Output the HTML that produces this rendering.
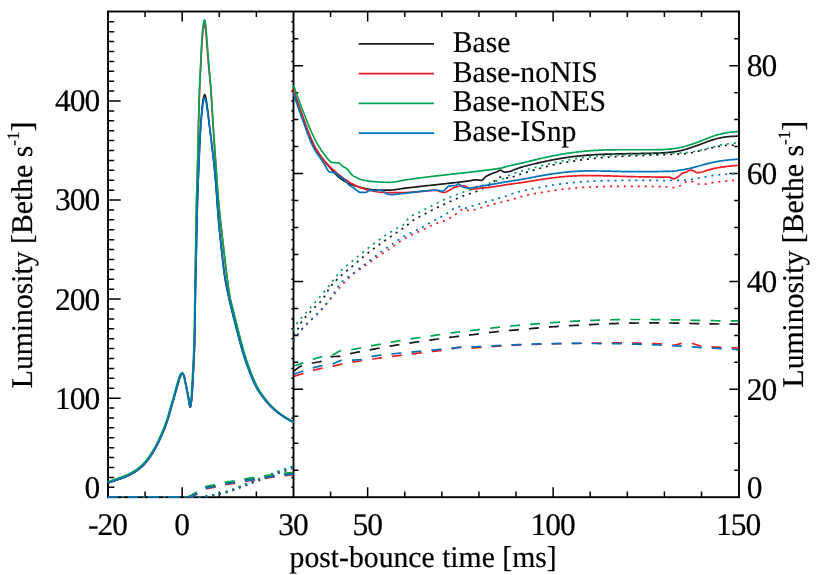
<!DOCTYPE html>
<html><head><meta charset="utf-8"><title>Luminosity</title>
<style>html,body{margin:0;padding:0;background:#fff;}body{width:830px;height:575px;overflow:hidden;font-family:"Liberation Serif",serif;}svg{display:block;will-change:transform;}.tx,.tx text,.tx tspan{font-family:"Liberation Serif",serif;text-rendering:geometricPrecision;}</style>
</head><body>
<svg width="830" height="575" viewBox="0 0 830 575">
<rect width="830" height="575" fill="#fff"/>
<g stroke="#000" fill="none" stroke-linecap="butt">
<rect x="108.0" y="11.5" width="631.0" height="485.7" stroke-width="1.9"/>
<path d="M293.5,11.5 V497.2" stroke-width="1.9"/>
<path d="M145.09,497.2 v-5.6 M145.09,11.5 v5.6 M182.19,497.2 v-10 M182.19,11.5 v10 M219.28,497.2 v-5.6 M219.28,11.5 v5.6 M256.38,497.2 v-5.6 M256.38,11.5 v5.6 M330.56,497.2 v-5.6 M330.56,11.5 v5.6 M367.66,497.2 v-10 M367.66,11.5 v10 M404.75,497.2 v-5.6 M404.75,11.5 v5.6 M441.85,497.2 v-5.6 M441.85,11.5 v5.6 M478.94,497.2 v-5.6 M478.94,11.5 v5.6 M516.04,497.2 v-5.6 M516.04,11.5 v5.6 M553.13,497.2 v-10 M553.13,11.5 v10 M590.22,497.2 v-5.6 M590.22,11.5 v5.6 M627.32,497.2 v-5.6 M627.32,11.5 v5.6 M664.41,497.2 v-5.6 M664.41,11.5 v5.6 M701.51,497.2 v-5.6 M701.51,11.5 v5.6 M108.0,487.29 h6.2 M293.5,487.29 h-2.2 M108.0,477.39 h6.2 M293.5,477.39 h-2.2 M108.0,467.49 h6.2 M293.5,467.49 h-2.2 M108.0,457.58 h6.2 M293.5,457.58 h-2.2 M108.0,447.67 h6.2 M293.5,447.67 h-2.2 M108.0,437.77 h6.2 M293.5,437.77 h-2.2 M108.0,427.87 h6.2 M293.5,427.87 h-2.2 M108.0,417.96 h6.2 M293.5,417.96 h-2.2 M108.0,408.05 h6.2 M293.5,408.05 h-2.2 M108.0,398.15 h12.7 M293.5,398.15 h-2.2 M108.0,388.25 h6.2 M293.5,388.25 h-2.2 M108.0,378.34 h6.2 M293.5,378.34 h-2.2 M108.0,368.43 h6.2 M293.5,368.43 h-2.2 M108.0,358.53 h6.2 M293.5,358.53 h-2.2 M108.0,348.62 h6.2 M293.5,348.62 h-2.2 M108.0,338.72 h6.2 M293.5,338.72 h-2.2 M108.0,328.81 h6.2 M293.5,328.81 h-2.2 M108.0,318.91 h6.2 M293.5,318.91 h-2.2 M108.0,309.00 h6.2 M293.5,309.00 h-2.2 M108.0,299.10 h12.7 M293.5,299.10 h-2.2 M108.0,289.19 h6.2 M293.5,289.19 h-2.2 M108.0,279.29 h6.2 M293.5,279.29 h-2.2 M108.0,269.38 h6.2 M293.5,269.38 h-2.2 M108.0,259.48 h6.2 M293.5,259.48 h-2.2 M108.0,249.57 h6.2 M293.5,249.57 h-2.2 M108.0,239.67 h6.2 M293.5,239.67 h-2.2 M108.0,229.76 h6.2 M293.5,229.76 h-2.2 M108.0,219.86 h6.2 M293.5,219.86 h-2.2 M108.0,209.95 h6.2 M293.5,209.95 h-2.2 M108.0,200.05 h12.7 M293.5,200.05 h-2.2 M108.0,190.14 h6.2 M293.5,190.14 h-2.2 M108.0,180.24 h6.2 M293.5,180.24 h-2.2 M108.0,170.33 h6.2 M293.5,170.33 h-2.2 M108.0,160.43 h6.2 M293.5,160.43 h-2.2 M108.0,150.52 h6.2 M293.5,150.52 h-2.2 M108.0,140.62 h6.2 M293.5,140.62 h-2.2 M108.0,130.71 h6.2 M293.5,130.71 h-2.2 M108.0,120.81 h6.2 M293.5,120.81 h-2.2 M108.0,110.90 h6.2 M293.5,110.90 h-2.2 M108.0,101.00 h12.7 M293.5,101.00 h-2.2 M108.0,91.09 h6.2 M293.5,91.09 h-2.2 M108.0,81.19 h6.2 M293.5,81.19 h-2.2 M108.0,71.28 h6.2 M293.5,71.28 h-2.2 M108.0,61.38 h6.2 M293.5,61.38 h-2.2 M108.0,51.47 h6.2 M293.5,51.47 h-2.2 M108.0,41.57 h6.2 M293.5,41.57 h-2.2 M108.0,31.66 h6.2 M293.5,31.66 h-2.2 M108.0,21.76 h6.2 M293.5,21.76 h-2.2 M739.0,470.23 h-4.8 M293.5,470.23 h4.8 M739.0,443.26 h-4.8 M293.5,443.26 h4.8 M739.0,416.29 h-4.8 M293.5,416.29 h4.8 M739.0,389.32 h-9.6 M293.5,389.32 h9.6 M739.0,362.35 h-4.8 M293.5,362.35 h4.8 M739.0,335.38 h-4.8 M293.5,335.38 h4.8 M739.0,308.41 h-4.8 M293.5,308.41 h4.8 M739.0,281.44 h-9.6 M293.5,281.44 h9.6 M739.0,254.47 h-4.8 M293.5,254.47 h4.8 M739.0,227.50 h-4.8 M293.5,227.50 h4.8 M739.0,200.53 h-4.8 M293.5,200.53 h4.8 M739.0,173.56 h-9.6 M293.5,173.56 h9.6 M739.0,146.59 h-4.8 M293.5,146.59 h4.8 M739.0,119.62 h-4.8 M293.5,119.62 h4.8 M739.0,92.65 h-4.8 M293.5,92.65 h4.8 M739.0,65.68 h-9.6 M293.5,65.68 h9.6 M739.0,38.71 h-4.8 M293.5,38.71 h4.8" stroke-width="1.5"/>
</g>
<g fill="none" stroke-linejoin="round" stroke-linecap="butt" stroke-width="1.70">
<path d="M108.00,497.00 L109.01,497.00 L110.02,497.00 L111.03,497.00 L112.04,497.00 L113.05,497.00 L114.06,497.00 L115.07,497.00 L116.07,497.00 L117.08,497.00 L118.09,497.00 L119.10,497.00 L120.11,497.00 L121.12,497.00 L122.13,497.00 L123.14,497.00 L124.15,497.00 L125.16,497.00 L126.17,497.00 L127.18,497.00 L128.19,497.00 L129.20,497.00 L130.20,497.00 L131.21,497.00 L132.22,497.00 L133.23,497.00 L134.24,497.00 L135.25,497.00 L136.26,497.00 L137.27,497.00 L138.28,497.00 L139.29,497.00 L140.30,497.00 L141.31,497.00 L142.32,497.00 L143.33,497.00 L144.34,497.00 L145.34,497.00 L146.35,497.00 L147.36,497.00 L148.37,497.00 L149.38,497.00 L150.39,497.00 L151.40,497.00 L152.41,497.00 L153.42,497.00 L154.43,497.00 L155.44,497.00 L156.46,497.00 L157.47,497.00 L158.48,497.00 L159.49,497.00 L160.50,497.00 L161.52,497.00 L162.53,497.00 L163.54,497.00 L164.55,497.00 L165.57,497.00 L166.58,497.00 L167.59,497.00 L168.60,497.00 L169.61,497.00 L170.62,497.00 L171.64,497.00 L172.65,497.00 L173.66,497.00 L174.67,497.00 L175.67,497.00 L176.68,497.00 L177.69,497.00 L178.70,497.00 L179.70,497.00 L180.71,497.00 L181.71,497.00 L182.72,497.00 L183.72,497.00 L184.72,497.00 L185.72,497.00 L186.72,496.99 L187.73,496.84 L188.71,496.61 L189.66,496.34 L190.61,496.02 L191.55,495.65 L192.48,495.24 L193.40,494.81 L194.32,494.35 L195.23,493.88 L196.13,493.41 L197.03,492.94 L197.91,492.47 L198.78,491.94 L199.64,491.37 L200.48,490.77 L201.33,490.17 L202.17,489.59 L203.02,489.04 L203.89,488.54 L204.78,488.11 L205.69,487.77 L206.62,487.50 L207.58,487.25 L208.56,487.04 L209.55,486.84 L210.55,486.65 L211.56,486.48 L212.57,486.30 L213.58,486.12 L214.58,485.93 L215.57,485.73 L216.56,485.51 L217.54,485.27 L218.52,485.03 L219.50,484.78 L220.48,484.54 L221.46,484.29 L222.44,484.06 L223.43,483.83 L224.41,483.62 L225.40,483.42 L226.39,483.24 L227.39,483.07 L228.38,482.92 L229.38,482.77 L230.38,482.63 L231.38,482.48 L232.38,482.34 L233.38,482.19 L234.38,482.04 L235.37,481.87 L236.37,481.69 L237.36,481.50 L238.35,481.31 L239.34,481.10 L240.33,480.90 L241.32,480.70 L242.31,480.51 L243.30,480.32 L244.29,480.15 L245.29,479.99 L246.29,479.84 L247.29,479.69 L248.29,479.55 L249.29,479.42 L250.29,479.28 L251.29,479.15 L252.29,479.02 L253.29,478.88 L254.29,478.73 L255.28,478.58 L256.28,478.43 L257.28,478.27 L258.28,478.11 L259.27,477.95 L260.27,477.79 L261.27,477.63 L262.26,477.47 L263.26,477.31 L264.26,477.15 L265.25,477.00 L266.25,476.84 L267.25,476.68 L268.24,476.52 L269.24,476.36 L270.24,476.21 L271.24,476.05 L272.23,475.90 L273.23,475.76 L274.23,475.62 L275.23,475.49 L276.23,475.36 L277.23,475.24 L278.24,475.11 L279.24,474.99 L280.24,474.88 L281.24,474.76 L282.25,474.65 L283.25,474.54 L284.25,474.44 L285.26,474.33 L286.26,474.23 L287.27,474.13 L288.27,474.04 L289.28,473.95 L290.28,473.85 L291.29,473.77 L292.29,473.68 L293.30,473.60" stroke="#1a1a1a" stroke-dasharray="10 9.97"/>
<path d="M108.00,497.00 L109.01,497.00 L110.01,497.00 L111.02,497.00 L112.03,497.00 L113.04,497.00 L114.04,497.00 L115.05,497.00 L116.06,497.00 L117.07,497.00 L118.07,497.00 L119.08,497.00 L120.09,497.00 L121.10,497.00 L122.10,497.00 L123.11,497.00 L124.12,497.00 L125.13,497.00 L126.13,497.00 L127.14,497.00 L128.15,497.00 L129.16,497.00 L130.16,497.00 L131.17,497.00 L132.18,497.00 L133.19,497.00 L134.19,497.00 L135.20,497.00 L136.21,497.00 L137.21,497.00 L138.22,497.00 L139.23,497.00 L140.24,497.00 L141.24,497.00 L142.25,497.00 L143.26,497.00 L144.27,497.00 L145.27,497.00 L146.28,497.00 L147.29,497.00 L148.30,497.00 L149.30,497.00 L150.31,497.00 L151.32,497.00 L152.33,497.00 L153.33,497.00 L154.34,497.00 L155.35,497.00 L156.36,497.00 L157.36,497.00 L158.37,497.00 L159.38,497.00 L160.39,497.00 L161.39,497.00 L162.40,497.00 L163.41,497.00 L164.42,497.00 L165.42,497.00 L166.43,497.00 L167.44,497.00 L168.45,497.00 L169.45,497.00 L170.46,497.00 L171.47,497.00 L172.48,497.00 L173.48,497.00 L174.49,497.00 L175.50,497.00 L176.51,497.00 L177.51,497.00 L178.52,497.00 L179.53,497.00 L180.54,497.00 L181.54,497.00 L182.55,497.00 L183.56,497.00 L184.57,497.00 L185.57,497.00 L186.58,497.00 L187.59,497.00 L188.60,497.00 L189.60,497.00 L190.61,497.00 L191.62,497.00 L192.62,497.00 L193.63,497.00 L194.64,497.00 L195.65,497.00 L196.65,497.00 L197.66,497.00 L198.67,496.99 L199.67,496.94 L200.68,496.89 L201.68,496.82 L202.69,496.74 L203.69,496.65 L204.70,496.54 L205.70,496.43 L206.70,496.30 L207.69,496.17 L208.68,496.01 L209.67,495.82 L210.66,495.62 L211.65,495.40 L212.64,495.18 L213.62,494.96 L214.60,494.74 L215.58,494.51 L216.56,494.28 L217.54,494.05 L218.52,493.81 L219.50,493.57 L220.48,493.32 L221.46,493.06 L222.43,492.80 L223.40,492.53 L224.37,492.26 L225.34,491.98 L226.30,491.69 L227.27,491.40 L228.22,491.10 L229.18,490.78 L230.13,490.46 L231.08,490.12 L232.02,489.77 L232.96,489.41 L233.90,489.05 L234.84,488.68 L235.78,488.31 L236.72,487.93 L237.65,487.55 L238.59,487.18 L239.53,486.80 L240.46,486.43 L241.40,486.05 L242.33,485.68 L243.27,485.31 L244.20,484.93 L245.14,484.55 L246.07,484.17 L247.00,483.78 L247.93,483.40 L248.86,483.01 L249.79,482.63 L250.73,482.25 L251.66,481.87 L252.59,481.49 L253.53,481.12 L254.47,480.75 L255.40,480.38 L256.34,480.02 L257.28,479.65 L258.22,479.29 L259.16,478.93 L260.11,478.57 L261.05,478.22 L261.99,477.86 L262.93,477.50 L263.88,477.15 L264.82,476.80 L265.76,476.44 L266.70,476.09 L267.65,475.73 L268.59,475.38 L269.53,475.02 L270.47,474.66 L271.42,474.31 L272.36,473.95 L273.30,473.60 L274.25,473.24 L275.19,472.89 L276.13,472.54 L277.08,472.19 L278.03,471.85 L278.97,471.51 L279.92,471.17 L280.87,470.83 L281.82,470.50 L282.78,470.17 L283.73,469.85 L284.68,469.52 L285.64,469.20 L286.59,468.88 L287.55,468.56 L288.50,468.24 L289.46,467.93 L290.42,467.62 L291.38,467.31 L292.34,467.00 L293.30,466.70" stroke="#1a1a1a" stroke-dasharray="2.1 4.85"/>
<path d="M108.00,482.80 L108.67,482.60 L109.34,482.39 L110.01,482.18 L110.68,481.97 L111.35,481.76 L112.02,481.55 L112.68,481.33 L113.35,481.11 L114.01,480.89 L114.68,480.67 L115.34,480.45 L116.01,480.22 L116.67,479.99 L117.33,479.76 L117.99,479.53 L118.65,479.30 L119.32,479.07 L119.98,478.84 L120.64,478.61 L121.31,478.37 L121.97,478.14 L122.63,477.90 L123.28,477.65 L123.94,477.40 L124.59,477.14 L125.24,476.88 L125.88,476.61 L126.52,476.33 L127.16,476.05 L127.79,475.76 L128.43,475.45 L129.06,475.15 L129.69,474.83 L130.31,474.51 L130.94,474.18 L131.56,473.84 L132.17,473.50 L132.78,473.15 L133.39,472.79 L133.99,472.43 L134.58,472.06 L135.16,471.69 L135.74,471.31 L136.32,470.92 L136.90,470.52 L137.48,470.11 L138.05,469.70 L138.61,469.27 L139.17,468.84 L139.73,468.40 L140.28,467.95 L140.82,467.50 L141.35,467.04 L141.87,466.57 L142.38,466.10 L142.88,465.62 L143.37,465.13 L143.85,464.64 L144.32,464.13 L144.79,463.62 L145.26,463.09 L145.72,462.56 L146.17,462.02 L146.62,461.48 L147.06,460.92 L147.49,460.37 L147.92,459.80 L148.35,459.24 L148.77,458.67 L149.18,458.09 L149.59,457.52 L149.99,456.94 L150.38,456.37 L150.77,455.79 L151.16,455.21 L151.54,454.63 L151.92,454.04 L152.29,453.45 L152.66,452.86 L153.03,452.26 L153.39,451.66 L153.74,451.05 L154.10,450.45 L154.45,449.84 L154.80,449.23 L155.14,448.61 L155.48,447.99 L155.81,447.37 L156.15,446.75 L156.48,446.13 L156.80,445.51 L157.12,444.88 L157.44,444.26 L157.76,443.63 L158.07,443.00 L158.38,442.37 L158.68,441.74 L158.98,441.12 L159.28,440.49 L159.58,439.85 L159.88,439.22 L160.17,438.59 L160.46,437.95 L160.75,437.31 L161.04,436.67 L161.33,436.03 L161.61,435.39 L161.89,434.74 L162.17,434.10 L162.44,433.45 L162.72,432.80 L162.99,432.15 L163.26,431.51 L163.52,430.85 L163.78,430.20 L164.04,429.55 L164.30,428.90 L164.56,428.24 L164.81,427.59 L165.06,426.93 L165.31,426.28 L165.55,425.62 L165.79,424.96 L166.03,424.30 L166.27,423.64 L166.50,422.99 L166.73,422.33 L166.96,421.67 L167.18,421.00 L167.40,420.34 L167.62,419.68 L167.83,419.01 L168.04,418.34 L168.25,417.68 L168.46,417.01 L168.67,416.34 L168.87,415.67 L169.07,415.00 L169.27,414.32 L169.47,413.65 L169.66,412.98 L169.86,412.30 L170.05,411.63 L170.25,410.95 L170.44,410.28 L170.63,409.60 L170.82,408.93 L171.01,408.25 L171.20,407.58 L171.39,406.90 L171.58,406.23 L171.77,405.55 L171.96,404.88 L172.16,404.20 L172.35,403.53 L172.54,402.85 L172.73,402.18 L172.93,401.50 L173.12,400.83 L173.31,400.16 L173.50,399.48 L173.69,398.81 L173.88,398.13 L174.07,397.46 L174.26,396.78 L174.44,396.11 L174.63,395.43 L174.81,394.75 L175.00,394.08 L175.19,393.40 L175.37,392.73 L175.56,392.05 L175.75,391.38 L175.94,390.70 L176.13,390.03 L176.33,389.36 L176.52,388.68 L176.72,388.01 L176.92,387.34 L177.12,386.67 L177.31,385.99 L177.50,385.31 L177.69,384.63 L177.88,383.95 L178.06,383.27 L178.26,382.59 L178.45,381.91 L178.65,381.24 L178.86,380.56 L179.07,379.90 L179.29,379.23 L179.52,378.58 L179.76,377.92 L180.01,377.28 L180.28,376.64 L180.57,375.99 L180.88,375.33 L181.25,374.73 L181.68,374.22 L182.29,373.75 L182.84,373.63 L183.30,374.13 L183.67,374.88 L183.92,375.53 L184.13,376.17 L184.32,376.83 L184.48,377.51 L184.63,378.20 L184.76,378.90 L184.88,379.60 L185.01,380.31 L185.13,381.01 L185.26,381.71 L185.40,382.40 L185.55,383.09 L185.69,383.78 L185.84,384.46 L185.98,385.15 L186.13,385.83 L186.27,386.52 L186.41,387.20 L186.56,387.89 L186.70,388.58 L186.84,389.26 L186.98,389.95 L187.11,390.64 L187.25,391.32 L187.39,392.01 L187.52,392.70 L187.66,393.39 L187.79,394.08 L187.92,394.76 L188.05,395.45 L188.19,396.14 L188.32,396.83 L188.45,397.52 L188.57,398.21 L188.70,398.90 L188.82,399.59 L188.94,400.28 L189.06,400.97 L189.18,401.66 L189.28,402.35 L189.38,403.05 L189.47,403.74 L189.57,404.44 L189.67,405.13 L189.80,405.82 L189.98,406.66 L190.19,407.20 L190.41,406.80 L190.62,405.95 L190.78,405.22 L190.91,404.54 L191.02,403.84 L191.13,403.15 L191.22,402.45 L191.31,401.76 L191.39,401.06 L191.46,400.36 L191.54,399.67 L191.61,398.97 L191.68,398.27 L191.74,397.58 L191.81,396.88 L191.86,396.18 L191.92,395.48 L191.98,394.78 L192.03,394.08 L192.08,393.38 L192.13,392.68 L192.18,391.98 L192.22,391.29 L192.26,390.59 L192.30,389.89 L192.34,389.19 L192.38,388.49 L192.42,387.79 L192.45,387.09 L192.49,386.39 L192.53,385.69 L192.56,384.99 L192.60,384.29 L192.64,383.59 L192.67,382.89 L192.71,382.19 L192.75,381.49 L192.79,380.79 L192.83,380.09 L192.87,379.39 L192.91,378.69 L192.95,377.99 L192.99,377.29 L193.03,376.59 L193.07,375.89 L193.11,375.19 L193.15,374.49 L193.19,373.79 L193.22,373.09 L193.26,372.39 L193.30,371.69 L193.33,370.99 L193.36,370.29 L193.40,369.59 L193.43,368.89 L193.46,368.19 L193.50,367.49 L193.53,366.79 L193.56,366.09 L193.59,365.39 L193.62,364.69 L193.66,363.99 L193.69,363.29 L193.72,362.59 L193.75,361.89 L193.78,361.19 L193.81,360.49 L193.85,359.79 L193.88,359.09 L193.92,358.39 L193.95,357.69 L193.99,356.99 L194.02,356.29 L194.06,355.59 L194.09,354.89 L194.13,354.19 L194.16,353.49 L194.19,352.79 L194.22,352.09 L194.25,351.39 L194.28,350.69 L194.30,349.99 L194.32,349.29 L194.35,348.59 L194.37,347.89 L194.39,347.19 L194.41,346.49 L194.43,345.79 L194.45,345.09 L194.47,344.39 L194.49,343.69 L194.51,342.99 L194.53,342.29 L194.54,341.59 L194.56,340.89 L194.58,340.19 L194.60,339.48 L194.61,338.78 L194.63,338.08 L194.64,337.38 L194.66,336.68 L194.67,335.98 L194.69,335.28 L194.71,334.58 L194.72,333.88 L194.73,333.18 L194.75,332.48 L194.76,331.78 L194.78,331.08 L194.79,330.38 L194.81,329.68 L194.82,328.98 L194.83,328.27 L194.85,327.57 L194.86,326.87 L194.87,326.17 L194.89,325.47 L194.90,324.77 L194.91,324.07 L194.92,323.37 L194.94,322.67 L194.95,321.97 L194.96,321.27 L194.97,320.57 L194.98,319.87 L194.99,319.17 L195.00,318.47 L195.02,317.76 L195.03,317.06 L195.04,316.36 L195.05,315.66 L195.06,314.96 L195.07,314.26 L195.08,313.56 L195.09,312.86 L195.10,312.16 L195.11,311.46 L195.12,310.76 L195.13,310.06 L195.14,309.36 L195.16,308.66 L195.17,307.96 L195.18,307.25 L195.19,306.55 L195.20,305.85 L195.21,305.15 L195.22,304.45 L195.23,303.75 L195.25,303.05 L195.26,302.35 L195.27,301.65 L195.28,300.95 L195.30,300.25 L195.31,299.55 L195.32,298.85 L195.33,298.15 L195.35,297.45 L195.36,296.74 L195.37,296.04 L195.39,295.34 L195.40,294.64 L195.41,293.94 L195.42,293.24 L195.44,292.54 L195.45,291.84 L195.46,291.14 L195.48,290.44 L195.49,289.74 L195.51,289.04 L195.52,288.34 L195.53,287.64 L195.55,286.94 L195.56,286.23 L195.57,285.53 L195.59,284.83 L195.60,284.13 L195.61,283.43 L195.63,282.73 L195.64,282.03 L195.66,281.33 L195.67,280.63 L195.68,279.93 L195.70,279.23 L195.71,278.53 L195.73,277.83 L195.74,277.13 L195.76,276.43 L195.77,275.73 L195.78,275.02 L195.80,274.32 L195.81,273.62 L195.83,272.92 L195.84,272.22 L195.86,271.52 L195.87,270.82 L195.89,270.12 L195.90,269.42 L195.92,268.72 L195.93,268.02 L195.94,267.32 L195.96,266.62 L195.97,265.92 L195.99,265.22 L196.00,264.52 L196.02,263.81 L196.03,263.11 L196.05,262.41 L196.06,261.71 L196.08,261.01 L196.09,260.31 L196.11,259.61 L196.12,258.91 L196.14,258.21 L196.15,257.51 L196.17,256.81 L196.18,256.11 L196.20,255.41 L196.21,254.71 L196.23,254.01 L196.24,253.31 L196.26,252.60 L196.27,251.90 L196.29,251.20 L196.30,250.50 L196.32,249.80 L196.33,249.10 L196.34,248.40 L196.36,247.70 L196.37,247.00 L196.39,246.30 L196.40,245.60 L196.42,244.90 L196.43,244.20 L196.45,243.50 L196.46,242.80 L196.48,242.10 L196.49,241.39 L196.51,240.69 L196.52,239.99 L196.54,239.29 L196.55,238.59 L196.57,237.89 L196.58,237.19 L196.60,236.49 L196.61,235.79 L196.63,235.09 L196.64,234.39 L196.66,233.69 L196.67,232.99 L196.69,232.29 L196.70,231.59 L196.72,230.89 L196.73,230.18 L196.75,229.48 L196.77,228.78 L196.78,228.08 L196.80,227.38 L196.81,226.68 L196.83,225.98 L196.85,225.28 L196.86,224.58 L196.88,223.88 L196.89,223.18 L196.91,222.48 L196.93,221.78 L196.94,221.08 L196.96,220.38 L196.98,219.68 L196.99,218.98 L197.01,218.27 L197.03,217.57 L197.05,216.87 L197.06,216.17 L197.08,215.47 L197.10,214.77 L197.12,214.07 L197.13,213.37 L197.15,212.67 L197.17,211.97 L197.19,211.27 L197.21,210.57 L197.22,209.87 L197.24,209.17 L197.26,208.47 L197.28,207.77 L197.30,207.07 L197.32,206.37 L197.34,205.67 L197.36,204.96 L197.38,204.26 L197.40,203.56 L197.42,202.86 L197.44,202.16 L197.46,201.46 L197.48,200.76 L197.50,200.06 L197.52,199.36 L197.54,198.66 L197.56,197.96 L197.58,197.26 L197.61,196.56 L197.63,195.86 L197.65,195.16 L197.68,194.46 L197.70,193.76 L197.72,193.06 L197.75,192.36 L197.77,191.66 L197.80,190.96 L197.82,190.26 L197.85,189.56 L197.87,188.86 L197.90,188.16 L197.92,187.46 L197.95,186.76 L197.98,186.06 L198.00,185.35 L198.03,184.65 L198.06,183.95 L198.08,183.25 L198.11,182.55 L198.14,181.85 L198.17,181.15 L198.20,180.45 L198.22,179.75 L198.25,179.05 L198.28,178.35 L198.31,177.65 L198.34,176.95 L198.37,176.25 L198.40,175.55 L198.42,174.85 L198.45,174.15 L198.48,173.45 L198.51,172.75 L198.54,172.05 L198.57,171.35 L198.60,170.65 L198.63,169.95 L198.66,169.25 L198.69,168.55 L198.72,167.85 L198.75,167.15 L198.78,166.45 L198.81,165.75 L198.84,165.05 L198.87,164.35 L198.89,163.65 L198.92,162.95 L198.95,162.25 L198.98,161.55 L199.01,160.85 L199.04,160.15 L199.07,159.45 L199.10,158.75 L199.13,158.05 L199.16,157.35 L199.19,156.65 L199.22,155.95 L199.25,155.25 L199.28,154.55 L199.31,153.85 L199.34,153.15 L199.37,152.44 L199.40,151.74 L199.43,151.04 L199.46,150.34 L199.49,149.64 L199.52,148.94 L199.55,148.24 L199.58,147.54 L199.61,146.84 L199.64,146.14 L199.68,145.44 L199.71,144.74 L199.74,144.04 L199.77,143.34 L199.81,142.64 L199.84,141.94 L199.87,141.24 L199.91,140.54 L199.94,139.84 L199.98,139.14 L200.01,138.44 L200.05,137.74 L200.08,137.04 L200.12,136.34 L200.15,135.64 L200.19,134.94 L200.23,134.24 L200.27,133.54 L200.30,132.84 L200.34,132.15 L200.38,131.45 L200.42,130.75 L200.46,130.05 L200.50,129.35 L200.54,128.65 L200.58,127.95 L200.62,127.25 L200.67,126.55 L200.71,125.85 L200.75,125.15 L200.80,124.45 L200.84,123.75 L200.89,123.05 L200.93,122.35 L200.98,121.65 L201.02,120.95 L201.07,120.25 L201.12,119.55 L201.17,118.86 L201.22,118.16 L201.27,117.46 L201.32,116.76 L201.37,116.06 L201.43,115.36 L201.48,114.66 L201.54,113.96 L201.60,113.26 L201.66,112.56 L201.72,111.86 L201.78,111.17 L201.84,110.47 L201.91,109.77 L201.98,109.07 L202.04,108.38 L202.11,107.68 L202.19,106.98 L202.26,106.29 L202.33,105.59 L202.41,104.90 L202.49,104.20 L202.57,103.50 L202.66,102.80 L202.74,102.10 L202.84,101.40 L202.94,100.70 L203.05,100.01 L203.17,99.32 L203.30,98.63 L203.45,97.95 L203.60,97.28 L203.82,96.50 L204.09,95.65 L204.38,94.94 L204.67,94.61 L204.93,94.81 L205.20,95.46 L205.45,96.30 L205.66,97.13 L205.82,97.81 L205.97,98.49 L206.10,99.18 L206.22,99.87 L206.34,100.56 L206.44,101.25 L206.54,101.95 L206.64,102.65 L206.74,103.35 L206.84,104.04 L206.93,104.74 L207.03,105.43 L207.13,106.12 L207.22,106.82 L207.32,107.51 L207.41,108.21 L207.50,108.90 L207.58,109.60 L207.67,110.29 L207.76,110.99 L207.84,111.68 L207.92,112.38 L208.01,113.08 L208.09,113.77 L208.17,114.47 L208.25,115.16 L208.33,115.86 L208.41,116.56 L208.49,117.25 L208.57,117.95 L208.65,118.65 L208.73,119.34 L208.80,120.04 L208.88,120.74 L208.96,121.43 L209.04,122.13 L209.12,122.83 L209.20,123.52 L209.29,124.22 L209.37,124.91 L209.45,125.61 L209.54,126.30 L209.62,127.00 L209.71,127.70 L209.79,128.39 L209.88,129.09 L209.96,129.78 L210.05,130.48 L210.14,131.17 L210.22,131.87 L210.31,132.56 L210.40,133.26 L210.48,133.96 L210.57,134.65 L210.65,135.35 L210.74,136.04 L210.83,136.74 L210.91,137.43 L211.00,138.13 L211.09,138.82 L211.17,139.52 L211.26,140.21 L211.34,140.91 L211.43,141.61 L211.51,142.30 L211.59,143.00 L211.68,143.69 L211.76,144.39 L211.84,145.08 L211.93,145.78 L212.01,146.48 L212.09,147.17 L212.17,147.87 L212.25,148.56 L212.34,149.26 L212.42,149.96 L212.50,150.65 L212.58,151.35 L212.66,152.04 L212.75,152.74 L212.83,153.44 L212.91,154.13 L212.99,154.83 L213.07,155.52 L213.15,156.22 L213.23,156.92 L213.31,157.61 L213.39,158.31 L213.47,159.01 L213.54,159.70 L213.62,160.40 L213.70,161.10 L213.77,161.79 L213.85,162.49 L213.92,163.19 L213.99,163.88 L214.07,164.58 L214.14,165.28 L214.21,165.97 L214.28,166.67 L214.35,167.37 L214.41,168.07 L214.48,168.76 L214.55,169.46 L214.62,170.16 L214.68,170.86 L214.75,171.55 L214.82,172.25 L214.88,172.95 L214.95,173.65 L215.01,174.34 L215.07,175.04 L215.14,175.74 L215.20,176.44 L215.26,177.14 L215.32,177.83 L215.39,178.53 L215.45,179.23 L215.51,179.93 L215.57,180.63 L215.63,181.33 L215.69,182.02 L215.75,182.72 L215.81,183.42 L215.86,184.12 L215.92,184.82 L215.98,185.52 L216.04,186.21 L216.09,186.91 L216.15,187.61 L216.20,188.31 L216.26,189.01 L216.31,189.71 L216.37,190.41 L216.42,191.10 L216.47,191.80 L216.52,192.50 L216.57,193.20 L216.62,193.90 L216.67,194.60 L216.72,195.30 L216.77,196.00 L216.82,196.70 L216.87,197.40 L216.91,198.10 L216.96,198.79 L217.01,199.49 L217.06,200.19 L217.10,200.89 L217.15,201.59 L217.20,202.29 L217.24,202.99 L217.29,203.69 L217.34,204.39 L217.39,205.09 L217.43,205.79 L217.48,206.49 L217.53,207.19 L217.58,207.88 L217.63,208.58 L217.68,209.28 L217.73,209.98 L217.78,210.68 L217.83,211.38 L217.88,212.08 L217.93,212.78 L217.98,213.48 L218.04,214.17 L218.09,214.87 L218.14,215.57 L218.20,216.27 L218.26,216.97 L218.31,217.67 L218.37,218.36 L218.43,219.06 L218.49,219.76 L218.55,220.46 L218.61,221.16 L218.68,221.85 L218.74,222.55 L218.80,223.25 L218.87,223.95 L218.93,224.65 L219.00,225.34 L219.06,226.04 L219.13,226.74 L219.20,227.44 L219.27,228.13 L219.34,228.83 L219.41,229.53 L219.47,230.23 L219.55,230.92 L219.62,231.62 L219.69,232.32 L219.76,233.01 L219.83,233.71 L219.90,234.41 L219.98,235.11 L220.05,235.80 L220.12,236.50 L220.20,237.20 L220.27,237.89 L220.35,238.59 L220.42,239.29 L220.49,239.98 L220.57,240.68 L220.65,241.38 L220.72,242.08 L220.80,242.77 L220.87,243.47 L220.95,244.17 L221.02,244.86 L221.10,245.56 L221.18,246.26 L221.25,246.95 L221.33,247.65 L221.40,248.35 L221.48,249.04 L221.55,249.74 L221.63,250.44 L221.70,251.13 L221.78,251.83 L221.85,252.53 L221.93,253.22 L222.00,253.92 L222.08,254.62 L222.15,255.32 L222.23,256.01 L222.30,256.71 L222.38,257.41 L222.45,258.11 L222.53,258.80 L222.61,259.50 L222.69,260.20 L222.76,260.89 L222.84,261.59 L222.92,262.29 L223.00,262.98 L223.08,263.68 L223.16,264.38 L223.25,265.07 L223.33,265.77 L223.41,266.46 L223.50,267.16 L223.58,267.86 L223.67,268.55 L223.76,269.25 L223.85,269.94 L223.94,270.63 L224.03,271.33 L224.12,272.02 L224.22,272.72 L224.31,273.41 L224.41,274.10 L224.51,274.80 L224.61,275.49 L224.71,276.18 L224.82,276.87 L224.92,277.56 L225.03,278.25 L225.15,278.95 L225.26,279.64 L225.38,280.33 L225.50,281.02 L225.62,281.71 L225.74,282.40 L225.87,283.09 L226.00,283.77 L226.13,284.46 L226.26,285.15 L226.39,285.84 L226.53,286.53 L226.66,287.22 L226.80,287.91 L226.94,288.59 L227.08,289.28 L227.22,289.97 L227.36,290.66 L227.50,291.34 L227.65,292.03 L227.79,292.71 L227.94,293.40 L228.08,294.09 L228.23,294.77 L228.37,295.46 L228.52,296.14 L228.66,296.83 L228.81,297.51 L228.96,298.20 L229.11,298.88 L229.27,299.56 L229.42,300.25 L229.58,300.93 L229.74,301.61 L229.90,302.29 L230.06,302.98 L230.23,303.66 L230.39,304.34 L230.56,305.02 L230.72,305.70 L230.89,306.38 L231.05,307.06 L231.22,307.75 L231.38,308.43 L231.55,309.11 L231.71,309.79 L231.88,310.47 L232.04,311.15 L232.21,311.83 L232.38,312.51 L232.55,313.19 L232.72,313.87 L232.88,314.55 L233.05,315.23 L233.22,315.91 L233.39,316.59 L233.56,317.27 L233.73,317.95 L233.91,318.63 L234.08,319.31 L234.25,319.99 L234.42,320.67 L234.59,321.35 L234.76,322.03 L234.94,322.71 L235.11,323.39 L235.28,324.07 L235.46,324.74 L235.63,325.42 L235.80,326.10 L235.98,326.78 L236.15,327.46 L236.33,328.14 L236.50,328.82 L236.68,329.50 L236.85,330.17 L237.03,330.85 L237.21,331.53 L237.38,332.21 L237.56,332.89 L237.74,333.56 L237.91,334.24 L238.09,334.92 L238.27,335.60 L238.45,336.28 L238.62,336.95 L238.80,337.63 L238.98,338.31 L239.16,338.99 L239.34,339.66 L239.52,340.34 L239.71,341.02 L239.89,341.69 L240.07,342.37 L240.26,343.05 L240.44,343.72 L240.63,344.40 L240.81,345.07 L241.00,345.75 L241.19,346.42 L241.37,347.10 L241.56,347.78 L241.75,348.45 L241.94,349.13 L242.13,349.80 L242.32,350.48 L242.51,351.15 L242.71,351.82 L242.90,352.50 L243.10,353.17 L243.30,353.84 L243.50,354.51 L243.71,355.18 L243.92,355.85 L244.12,356.52 L244.34,357.18 L244.55,357.85 L244.77,358.52 L244.99,359.18 L245.21,359.85 L245.44,360.51 L245.66,361.17 L245.89,361.84 L246.12,362.50 L246.36,363.16 L246.59,363.82 L246.82,364.48 L247.06,365.14 L247.30,365.80 L247.54,366.46 L247.78,367.12 L248.02,367.77 L248.26,368.43 L248.51,369.09 L248.75,369.75 L249.00,370.40 L249.25,371.06 L249.50,371.72 L249.75,372.37 L250.00,373.03 L250.26,373.68 L250.51,374.33 L250.77,374.98 L251.04,375.63 L251.30,376.28 L251.57,376.93 L251.84,377.57 L252.11,378.22 L252.39,378.86 L252.67,379.50 L252.95,380.14 L253.24,380.78 L253.53,381.42 L253.82,382.06 L254.11,382.70 L254.41,383.33 L254.71,383.97 L255.02,384.60 L255.33,385.23 L255.65,385.86 L255.97,386.48 L256.30,387.10 L256.63,387.71 L256.97,388.32 L257.32,388.93 L257.67,389.53 L258.03,390.13 L258.40,390.72 L258.78,391.31 L259.17,391.89 L259.56,392.48 L259.96,393.06 L260.36,393.63 L260.77,394.21 L261.18,394.78 L261.60,395.34 L262.01,395.91 L262.43,396.47 L262.85,397.03 L263.27,397.59 L263.69,398.15 L264.12,398.70 L264.56,399.26 L264.99,399.81 L265.43,400.35 L265.88,400.90 L266.32,401.44 L266.78,401.98 L267.23,402.51 L267.69,403.04 L268.16,403.56 L268.62,404.08 L269.10,404.60 L269.57,405.10 L270.06,405.61 L270.55,406.11 L271.04,406.61 L271.54,407.10 L272.05,407.59 L272.56,408.08 L273.07,408.56 L273.59,409.03 L274.11,409.50 L274.63,409.97 L275.16,410.43 L275.69,410.88 L276.23,411.33 L276.77,411.77 L277.32,412.20 L277.87,412.64 L278.43,413.06 L278.99,413.49 L279.56,413.90 L280.13,414.32 L280.70,414.72 L281.27,415.13 L281.85,415.53 L282.42,415.92 L283.00,416.31 L283.59,416.69 L284.18,417.07 L284.77,417.45 L285.37,417.82 L285.97,418.18 L286.57,418.55 L287.17,418.91 L287.77,419.26 L288.38,419.61 L288.99,419.96 L289.59,420.31 L290.21,420.65 L290.82,420.99 L291.44,421.32 L292.06,421.65 L292.68,421.98 L293.30,422.30" stroke="#1a1a1a"/>
<path d="M293.90,371.40 L294.96,370.30 L296.08,369.28 L297.26,368.37 L298.50,367.54 L299.82,366.78 L301.18,366.13 L302.57,365.60 L303.99,365.14 L305.44,364.72 L306.90,364.33 L308.38,363.97 L309.86,363.63 L311.33,363.29 L312.81,362.99 L314.31,362.73 L315.81,362.49 L317.32,362.24 L318.80,361.98 L320.26,361.68 L321.68,361.31 L323.05,360.73 L324.36,359.91 L325.66,358.97 L326.94,358.05 L328.25,357.28 L329.60,356.79 L331.01,356.64 L332.48,356.57 L333.99,356.52 L335.52,356.49 L337.06,356.45 L338.58,356.39 L340.09,356.31 L341.56,356.15 L343.02,355.84 L344.47,355.43 L345.92,354.96 L347.37,354.48 L348.82,354.03 L350.28,353.66 L351.75,353.33 L353.23,353.03 L354.70,352.73 L356.18,352.45 L357.66,352.16 L359.14,351.88 L360.62,351.59 L362.10,351.29 L363.57,351.00 L365.05,350.71 L366.53,350.42 L368.01,350.13 L369.49,349.85 L370.97,349.58 L372.45,349.31 L373.93,349.05 L375.41,348.79 L376.90,348.53 L378.38,348.27 L379.87,348.01 L381.35,347.75 L382.83,347.48 L384.31,347.21 L385.79,346.94 L387.28,346.67 L388.76,346.41 L390.24,346.16 L391.73,345.91 L393.21,345.66 L394.70,345.42 L396.19,345.17 L397.67,344.93 L399.16,344.69 L400.64,344.45 L402.13,344.21 L403.62,343.96 L405.10,343.72 L406.59,343.48 L408.08,343.25 L409.57,343.03 L411.06,342.81 L412.55,342.60 L414.04,342.39 L415.53,342.19 L417.02,341.98 L418.52,341.78 L420.01,341.57 L421.50,341.35 L422.99,341.14 L424.48,340.92 L425.97,340.70 L427.46,340.49 L428.95,340.27 L430.44,340.06 L431.93,339.85 L433.42,339.64 L434.91,339.43 L436.41,339.22 L437.90,339.01 L439.39,338.80 L440.88,338.59 L442.37,338.38 L443.86,338.16 L445.35,337.95 L446.84,337.74 L448.33,337.54 L449.83,337.35 L451.32,337.16 L452.82,336.98 L454.31,336.81 L455.81,336.64 L457.31,336.46 L458.80,336.29 L460.30,336.12 L461.79,335.94 L463.29,335.77 L464.78,335.59 L466.28,335.42 L467.78,335.24 L469.27,335.07 L470.77,334.89 L472.26,334.72 L473.76,334.54 L475.25,334.37 L476.75,334.19 L478.25,334.01 L479.74,333.82 L481.23,333.63 L482.73,333.43 L484.22,333.22 L485.71,333.02 L487.20,332.82 L488.70,332.63 L490.19,332.44 L491.68,332.26 L493.18,332.08 L494.68,331.90 L496.17,331.73 L497.67,331.57 L499.17,331.41 L500.66,331.26 L502.16,331.11 L503.66,330.97 L505.16,330.83 L506.66,330.70 L508.16,330.56 L509.66,330.43 L511.16,330.31 L512.66,330.18 L514.17,330.06 L515.67,329.94 L517.17,329.82 L518.67,329.69 L520.17,329.56 L521.67,329.42 L523.17,329.28 L524.67,329.14 L526.17,329.00 L527.67,328.86 L529.16,328.73 L530.66,328.59 L532.16,328.46 L533.66,328.33 L535.17,328.20 L536.67,328.07 L538.17,327.94 L539.67,327.81 L541.17,327.68 L542.67,327.55 L544.17,327.43 L545.67,327.30 L547.17,327.18 L548.67,327.07 L550.17,326.95 L551.67,326.85 L553.18,326.74 L554.68,326.64 L556.18,326.54 L557.68,326.44 L559.19,326.34 L560.69,326.24 L562.19,326.14 L563.70,326.04 L565.20,325.95 L566.70,325.86 L568.20,325.77 L569.71,325.68 L571.21,325.60 L572.72,325.52 L574.22,325.44 L575.72,325.37 L577.23,325.29 L578.73,325.21 L580.24,325.14 L581.74,325.06 L583.24,324.98 L584.75,324.91 L586.25,324.83 L587.76,324.76 L589.26,324.68 L590.76,324.61 L592.27,324.54 L593.77,324.47 L595.28,324.39 L596.78,324.32 L598.28,324.25 L599.79,324.19 L601.29,324.12 L602.80,324.05 L604.30,323.98 L605.81,323.91 L607.31,323.85 L608.82,323.78 L610.32,323.72 L611.83,323.66 L613.33,323.60 L614.83,323.54 L616.34,323.49 L617.84,323.44 L619.35,323.39 L620.86,323.34 L622.36,323.30 L623.87,323.26 L625.37,323.22 L626.88,323.18 L628.38,323.15 L629.89,323.12 L631.39,323.09 L632.90,323.06 L634.40,323.04 L635.91,323.01 L637.42,322.99 L638.92,322.98 L640.43,322.96 L641.93,322.95 L643.44,322.94 L644.95,322.93 L646.45,322.92 L647.96,322.91 L649.46,322.91 L650.97,322.91 L652.48,322.91 L653.98,322.91 L655.49,322.91 L656.99,322.91 L658.50,322.91 L660.00,322.91 L661.51,322.92 L663.02,322.93 L664.52,322.94 L666.03,322.95 L667.53,322.96 L669.04,322.98 L670.55,323.00 L672.05,323.02 L673.56,323.04 L675.06,323.07 L676.57,323.10 L678.07,323.13 L679.58,323.17 L681.09,323.20 L682.59,323.24 L684.10,323.28 L685.60,323.32 L687.11,323.36 L688.61,323.40 L690.12,323.44 L691.62,323.48 L693.13,323.52 L694.63,323.56 L696.14,323.60 L697.64,323.64 L699.15,323.68 L700.66,323.71 L702.16,323.74 L703.67,323.77 L705.17,323.80 L706.68,323.83 L708.18,323.85 L709.69,323.88 L711.20,323.90 L712.70,323.92 L714.21,323.94 L715.71,323.97 L717.22,323.99 L718.72,324.00 L720.23,324.02 L721.74,324.04 L723.24,324.06 L724.75,324.07 L726.25,324.09 L727.76,324.10 L729.26,324.12 L730.77,324.13 L732.28,324.15 L733.78,324.16 L735.29,324.17 L736.79,324.19 L738.30,324.20" stroke="#1a1a1a" stroke-dasharray="10 10.07"/>
<path d="M293.50,335.20 L294.46,334.03 L295.39,332.82 L296.26,331.59 L297.08,330.33 L297.83,329.04 L298.49,327.68 L299.12,326.29 L299.77,324.92 L300.49,323.62 L301.30,322.37 L302.16,321.16 L303.07,319.96 L304.02,318.79 L305.00,317.63 L306.01,316.49 L307.03,315.37 L308.07,314.25 L309.10,313.14 L310.14,312.03 L311.16,310.92 L312.21,309.83 L313.29,308.77 L314.39,307.73 L315.50,306.69 L316.61,305.66 L317.71,304.62 L318.78,303.56 L319.82,302.48 L320.82,301.37 L321.76,300.22 L322.66,299.02 L323.52,297.79 L324.35,296.53 L325.15,295.24 L325.94,293.94 L326.73,292.63 L327.51,291.33 L328.31,290.04 L329.13,288.76 L329.97,287.51 L330.84,286.30 L331.76,285.12 L332.72,283.98 L333.72,282.86 L334.75,281.76 L335.80,280.67 L336.87,279.60 L337.96,278.55 L339.06,277.50 L340.17,276.47 L341.28,275.45 L342.40,274.43 L343.52,273.44 L344.67,272.46 L345.83,271.50 L347.00,270.55 L348.18,269.60 L349.36,268.65 L350.53,267.71 L351.70,266.75 L352.86,265.78 L354.01,264.80 L355.15,263.82 L356.29,262.83 L357.43,261.84 L358.56,260.85 L359.70,259.87 L360.85,258.88 L362.00,257.91 L363.16,256.95 L364.33,255.99 L365.50,255.04 L366.67,254.10 L367.85,253.15 L369.03,252.22 L370.22,251.29 L371.41,250.36 L372.61,249.45 L373.81,248.53 L375.01,247.63 L376.23,246.73 L377.44,245.84 L378.66,244.95 L379.88,244.07 L381.11,243.19 L382.34,242.32 L383.57,241.45 L384.81,240.58 L386.05,239.72 L387.29,238.87 L388.54,238.02 L389.79,237.18 L391.04,236.34 L392.29,235.49 L393.54,234.65 L394.79,233.81 L396.05,232.98 L397.31,232.15 L398.58,231.33 L399.84,230.50 L401.10,229.67 L402.35,228.83 L403.59,227.97 L404.81,227.09 L406.01,226.18 L407.18,225.22 L408.34,224.25 L409.50,223.27 L410.67,222.31 L411.85,221.38 L413.06,220.50 L414.31,219.68 L415.59,218.90 L416.89,218.14 L418.20,217.40 L419.53,216.68 L420.87,215.98 L422.22,215.28 L423.57,214.59 L424.91,213.89 L426.24,213.19 L427.58,212.49 L428.91,211.78 L430.25,211.09 L431.59,210.40 L432.93,209.71 L434.28,209.02 L435.63,208.35 L436.98,207.68 L438.33,207.01 L439.69,206.36 L441.04,205.70 L442.41,205.06 L443.77,204.41 L445.14,203.78 L446.51,203.15 L447.88,202.52 L449.26,201.90 L450.63,201.29 L452.01,200.68 L453.39,200.07 L454.78,199.47 L456.16,198.87 L457.55,198.28 L458.94,197.69 L460.33,197.12 L461.73,196.55 L463.14,196.00 L464.54,195.47 L465.97,194.97 L467.40,194.49 L468.84,194.02 L470.28,193.55 L471.72,193.08 L473.15,192.61 L474.57,192.11 L475.98,191.59 L477.38,191.04 L478.75,190.44 L480.11,189.81 L481.47,189.15 L482.81,188.46 L484.15,187.75 L485.48,187.02 L486.79,186.28 L488.11,185.52 L489.41,184.76 L490.70,183.99 L491.97,183.06 L493.20,182.01 L494.43,180.92 L495.65,179.84 L496.88,178.85 L498.13,178.02 L499.42,177.42 L500.75,177.12 L502.15,177.15 L503.62,177.34 L505.15,177.62 L506.68,177.89 L508.20,178.07 L509.67,178.05 L511.10,177.68 L512.53,177.10 L513.95,176.48 L515.38,175.97 L516.81,175.49 L518.23,175.00 L519.66,174.52 L521.09,174.03 L522.52,173.54 L523.95,173.06 L525.38,172.59 L526.81,172.12 L528.25,171.67 L529.69,171.23 L531.13,170.80 L532.58,170.37 L534.03,169.95 L535.48,169.54 L536.93,169.13 L538.39,168.73 L539.84,168.33 L541.30,167.94 L542.76,167.56 L544.21,167.17 L545.67,166.79 L547.13,166.41 L548.59,166.03 L550.06,165.66 L551.52,165.30 L552.99,164.95 L554.46,164.61 L555.93,164.28 L557.40,163.97 L558.88,163.67 L560.36,163.37 L561.84,163.09 L563.32,162.81 L564.80,162.54 L566.29,162.28 L567.78,162.03 L569.27,161.78 L570.75,161.53 L572.24,161.29 L573.73,161.06 L575.22,160.83 L576.71,160.60 L578.20,160.38 L579.70,160.16 L581.19,159.95 L582.69,159.74 L584.18,159.54 L585.68,159.35 L587.17,159.17 L588.67,158.99 L590.17,158.81 L591.66,158.64 L593.16,158.48 L594.66,158.32 L596.16,158.16 L597.66,158.01 L599.17,157.86 L600.67,157.73 L602.17,157.59 L603.67,157.47 L605.18,157.35 L606.68,157.24 L608.18,157.14 L609.69,157.04 L611.19,156.95 L612.70,156.86 L614.20,156.77 L615.71,156.68 L617.21,156.59 L618.72,156.49 L620.22,156.40 L621.73,156.30 L623.23,156.19 L624.74,156.09 L626.24,155.99 L627.75,155.90 L629.25,155.82 L630.76,155.75 L632.27,155.69 L633.77,155.63 L635.28,155.58 L636.79,155.53 L638.29,155.48 L639.80,155.43 L641.31,155.39 L642.82,155.34 L644.32,155.30 L645.83,155.25 L647.34,155.20 L648.85,155.15 L650.35,155.10 L651.86,155.05 L653.37,155.00 L654.87,154.96 L656.38,154.91 L657.89,154.86 L659.40,154.82 L660.90,154.77 L662.41,154.73 L663.92,154.70 L665.43,154.65 L666.93,154.61 L668.44,154.55 L669.95,154.49 L671.45,154.43 L672.96,154.36 L674.47,154.29 L675.97,154.24 L677.48,154.18 L678.99,154.12 L680.49,154.06 L682.00,153.97 L683.50,153.85 L685.00,153.70 L686.50,153.52 L688.00,153.33 L689.49,153.10 L690.97,152.82 L692.44,152.51 L693.92,152.19 L695.40,151.87 L696.87,151.56 L698.34,151.23 L699.81,150.89 L701.28,150.55 L702.75,150.20 L704.21,149.84 L705.67,149.47 L707.13,149.10 L708.60,148.73 L710.06,148.35 L711.51,147.95 L712.97,147.56 L714.43,147.20 L715.91,146.88 L717.39,146.60 L718.87,146.33 L720.36,146.09 L721.86,145.88 L723.35,145.69 L724.85,145.49 L726.35,145.31 L727.85,145.17 L729.36,145.10 L730.86,145.13 L732.37,145.24 L733.87,145.39 L735.36,145.60 L736.83,145.91 L738.30,146.30" stroke="#1a1a1a" stroke-dasharray="2.1 4.85"/>
<path d="M293.40,90.00 L293.70,90.96 L294.00,91.92 L294.31,92.87 L294.61,93.83 L294.92,94.79 L295.23,95.74 L295.54,96.70 L295.85,97.65 L296.16,98.61 L296.48,99.56 L296.80,100.51 L297.11,101.47 L297.43,102.42 L297.76,103.37 L298.08,104.32 L298.40,105.27 L298.73,106.22 L299.06,107.17 L299.39,108.12 L299.72,109.06 L300.05,110.01 L300.39,110.96 L300.72,111.90 L301.06,112.85 L301.40,113.79 L301.74,114.73 L302.08,115.68 L302.43,116.62 L302.77,117.56 L303.11,118.51 L303.45,119.46 L303.78,120.41 L304.12,121.36 L304.46,122.31 L304.80,123.26 L305.14,124.21 L305.48,125.17 L305.82,126.12 L306.16,127.07 L306.50,128.02 L306.85,128.97 L307.20,129.92 L307.55,130.87 L307.90,131.81 L308.26,132.76 L308.62,133.70 L308.99,134.64 L309.36,135.57 L309.74,136.50 L310.12,137.43 L310.50,138.36 L310.90,139.28 L311.30,140.19 L311.70,141.11 L312.11,142.02 L312.53,142.92 L312.96,143.82 L313.39,144.71 L313.84,145.59 L314.29,146.47 L314.75,147.35 L315.24,148.22 L315.74,149.08 L316.27,149.94 L316.80,150.79 L317.35,151.63 L317.92,152.47 L318.49,153.31 L319.07,154.13 L319.66,154.96 L320.25,155.77 L320.85,156.58 L321.44,157.39 L322.04,158.19 L322.66,158.98 L323.28,159.76 L323.92,160.53 L324.56,161.31 L325.21,162.07 L325.87,162.83 L326.53,163.59 L327.20,164.34 L327.87,165.10 L328.53,165.85 L329.20,166.60 L329.87,167.35 L330.53,168.11 L331.19,168.88 L331.84,169.65 L332.49,170.43 L333.14,171.21 L333.80,171.99 L334.46,172.75 L335.13,173.51 L335.81,174.25 L336.50,174.97 L337.21,175.67 L337.93,176.34 L338.68,176.98 L339.44,177.60 L340.23,178.22 L341.03,178.82 L341.86,179.41 L342.70,179.99 L343.55,180.55 L344.42,181.09 L345.29,181.60 L346.17,182.10 L347.06,182.56 L347.95,183.00 L348.85,183.40 L349.76,183.79 L350.67,184.17 L351.60,184.54 L352.54,184.90 L353.49,185.24 L354.44,185.58 L355.40,185.90 L356.37,186.21 L357.34,186.51 L358.31,186.80 L359.29,187.07 L360.26,187.33 L361.24,187.58 L362.21,187.82 L363.19,188.04 L364.16,188.26 L365.14,188.48 L366.13,188.69 L367.11,188.89 L368.11,189.07 L369.10,189.25 L370.09,189.40 L371.09,189.54 L372.08,189.65 L373.08,189.73 L374.08,189.81 L375.08,189.88 L376.08,189.95 L377.08,190.02 L378.09,190.07 L379.09,190.12 L380.10,190.16 L381.10,190.19 L382.11,190.20 L383.11,190.20 L384.11,190.19 L385.12,190.19 L386.12,190.17 L387.13,190.16 L388.13,190.14 L389.13,190.12 L390.13,190.10 L391.13,190.06 L392.13,189.99 L393.13,189.91 L394.13,189.81 L395.12,189.69 L396.12,189.55 L397.11,189.41 L398.11,189.25 L399.10,189.10 L400.10,188.93 L401.09,188.77 L402.09,188.61 L403.08,188.46 L404.08,188.31 L405.07,188.18 L406.07,188.06 L407.06,187.94 L408.06,187.82 L409.06,187.70 L410.06,187.59 L411.05,187.47 L412.05,187.36 L413.05,187.24 L414.04,187.13 L415.04,187.02 L416.04,186.91 L417.04,186.79 L418.04,186.68 L419.03,186.57 L420.03,186.46 L421.03,186.35 L422.03,186.24 L423.02,186.13 L424.02,186.02 L425.02,185.91 L426.02,185.80 L427.02,185.70 L428.01,185.59 L429.01,185.48 L430.01,185.37 L431.01,185.27 L432.01,185.16 L433.00,185.05 L434.00,184.94 L435.00,184.84 L436.00,184.73 L437.00,184.62 L437.99,184.51 L438.99,184.40 L439.99,184.29 L440.99,184.18 L441.99,184.07 L442.98,183.96 L443.98,183.85 L444.98,183.74 L445.98,183.63 L446.97,183.52 L447.97,183.41 L448.97,183.30 L449.97,183.18 L450.96,183.07 L451.96,182.95 L452.96,182.84 L453.96,182.72 L454.95,182.61 L455.95,182.49 L456.95,182.38 L457.95,182.26 L458.94,182.15 L459.94,182.03 L460.94,181.91 L461.93,181.79 L462.93,181.67 L463.93,181.55 L464.92,181.43 L465.92,181.31 L466.91,181.18 L467.91,181.05 L468.91,180.91 L469.90,180.75 L470.89,180.56 L471.88,180.38 L472.88,180.21 L473.87,180.06 L474.87,179.95 L475.86,179.90 L476.87,179.92 L477.92,180.00 L478.96,180.10 L479.98,180.21 L480.95,180.28 L481.83,180.28 L482.61,179.91 L483.34,179.19 L484.04,178.31 L484.76,177.45 L485.54,176.77 L486.38,176.26 L487.25,175.77 L488.15,175.32 L489.06,174.89 L489.99,174.48 L490.92,174.08 L491.85,173.68 L492.78,173.30 L493.72,172.95 L494.67,172.62 L495.62,172.28 L496.56,171.93 L497.49,171.56 L498.41,171.14 L499.30,170.54 L500.18,170.12 L501.07,170.26 L501.94,170.81 L502.83,171.48 L503.73,171.99 L504.67,172.10 L505.65,172.04 L506.67,171.94 L507.68,171.80 L508.69,171.65 L509.66,171.47 L510.61,171.19 L511.55,170.85 L512.49,170.46 L513.42,170.06 L514.36,169.66 L515.30,169.30 L516.25,168.97 L517.19,168.64 L518.14,168.31 L519.10,167.99 L520.05,167.68 L521.01,167.38 L521.97,167.08 L522.93,166.79 L523.89,166.51 L524.86,166.23 L525.82,165.97 L526.79,165.71 L527.76,165.45 L528.73,165.20 L529.71,164.96 L530.68,164.71 L531.66,164.47 L532.63,164.24 L533.61,164.00 L534.59,163.77 L535.56,163.55 L536.54,163.32 L537.52,163.10 L538.50,162.88 L539.48,162.66 L540.46,162.44 L541.44,162.22 L542.42,162.01 L543.40,161.80 L544.39,161.58 L545.37,161.37 L546.35,161.16 L547.33,160.96 L548.31,160.75 L549.30,160.55 L550.28,160.35 L551.27,160.15 L552.25,159.96 L553.24,159.77 L554.22,159.58 L555.21,159.40 L556.20,159.22 L557.19,159.05 L558.18,158.88 L559.16,158.71 L560.15,158.54 L561.15,158.38 L562.14,158.21 L563.13,158.05 L564.12,157.89 L565.11,157.74 L566.11,157.59 L567.10,157.44 L568.09,157.30 L569.09,157.16 L570.08,157.02 L571.08,156.89 L572.07,156.76 L573.07,156.64 L574.06,156.52 L575.06,156.41 L576.06,156.29 L577.05,156.18 L578.05,156.07 L579.05,155.96 L580.05,155.85 L581.05,155.75 L582.05,155.65 L583.05,155.55 L584.05,155.46 L585.05,155.37 L586.05,155.29 L587.05,155.21 L588.05,155.14 L589.05,155.07 L590.05,155.00 L591.05,154.93 L592.05,154.86 L593.06,154.80 L594.06,154.74 L595.06,154.68 L596.06,154.62 L597.07,154.56 L598.07,154.51 L599.07,154.46 L600.08,154.41 L601.08,154.37 L602.08,154.33 L603.08,154.29 L604.09,154.25 L605.09,154.22 L606.09,154.19 L607.10,154.16 L608.10,154.14 L609.10,154.11 L610.11,154.09 L611.11,154.06 L612.11,154.04 L613.12,154.02 L614.12,154.00 L615.13,153.98 L616.13,153.96 L617.13,153.93 L618.14,153.91 L619.14,153.89 L620.14,153.87 L621.15,153.85 L622.15,153.83 L623.16,153.80 L624.16,153.78 L625.16,153.76 L626.17,153.74 L627.17,153.72 L628.17,153.70 L629.18,153.68 L630.18,153.66 L631.18,153.64 L632.19,153.62 L633.19,153.60 L634.20,153.58 L635.20,153.57 L636.20,153.55 L637.21,153.53 L638.21,153.52 L639.21,153.50 L640.22,153.48 L641.22,153.46 L642.22,153.44 L643.23,153.42 L644.23,153.40 L645.24,153.38 L646.24,153.36 L647.24,153.34 L648.25,153.32 L649.25,153.30 L650.25,153.28 L651.26,153.25 L652.26,153.23 L653.27,153.21 L654.27,153.18 L655.27,153.15 L656.28,153.13 L657.28,153.10 L658.28,153.06 L659.29,153.03 L660.29,152.99 L661.29,152.94 L662.29,152.89 L663.30,152.84 L664.30,152.78 L665.30,152.71 L666.30,152.63 L667.31,152.56 L668.31,152.47 L669.31,152.38 L670.30,152.29 L671.30,152.19 L672.30,152.07 L673.29,151.94 L674.29,151.80 L675.29,151.65 L676.28,151.49 L677.27,151.32 L678.26,151.14 L679.24,150.95 L680.23,150.76 L681.20,150.55 L682.17,150.32 L683.14,150.07 L684.11,149.80 L685.07,149.51 L686.04,149.21 L687.00,148.91 L687.95,148.59 L688.91,148.28 L689.87,147.97 L690.82,147.66 L691.78,147.35 L692.73,147.03 L693.68,146.71 L694.63,146.38 L695.57,146.05 L696.52,145.71 L697.47,145.38 L698.41,145.04 L699.36,144.69 L700.30,144.35 L701.24,144.01 L702.19,143.66 L703.12,143.30 L704.06,142.94 L705.00,142.57 L705.93,142.20 L706.87,141.83 L707.81,141.47 L708.75,141.13 L709.69,140.79 L710.64,140.48 L711.60,140.18 L712.56,139.88 L713.52,139.59 L714.48,139.30 L715.45,139.01 L716.42,138.74 L717.39,138.48 L718.37,138.24 L719.35,138.01 L720.33,137.81 L721.31,137.63 L722.30,137.47 L723.29,137.32 L724.28,137.17 L725.27,137.03 L726.27,136.89 L727.27,136.77 L728.27,136.66 L729.27,136.57 L730.28,136.48 L731.28,136.42 L732.28,136.37 L733.28,136.33 L734.28,136.29 L735.29,136.25 L736.29,136.22 L737.29,136.21 L738.30,136.20" stroke="#1a1a1a"/>
<path d="M108.00,497.00 L109.01,497.00 L110.01,497.00 L111.02,497.00 L112.03,497.00 L113.04,497.00 L114.04,497.00 L115.05,497.00 L116.06,497.00 L117.06,497.00 L118.07,497.00 L119.08,497.00 L120.09,497.00 L121.09,497.00 L122.10,497.00 L123.11,497.00 L124.11,497.00 L125.12,497.00 L126.13,497.00 L127.14,497.00 L128.14,497.00 L129.15,497.00 L130.16,497.00 L131.16,497.00 L132.17,497.00 L133.18,497.00 L134.19,497.00 L135.19,497.00 L136.20,497.00 L137.21,497.00 L138.22,497.00 L139.22,497.00 L140.23,497.00 L141.24,497.00 L142.24,497.00 L143.25,497.00 L144.26,497.00 L145.27,497.00 L146.27,497.00 L147.28,497.00 L148.29,497.00 L149.29,497.00 L150.30,497.00 L151.31,497.00 L152.32,497.00 L153.32,497.00 L154.33,497.00 L155.34,497.00 L156.34,497.00 L157.35,497.00 L158.36,497.00 L159.37,497.00 L160.37,497.00 L161.38,497.00 L162.39,497.00 L163.40,497.00 L164.40,497.00 L165.41,497.00 L166.42,497.00 L167.43,497.00 L168.43,497.00 L169.44,497.00 L170.45,497.00 L171.46,497.00 L172.46,497.00 L173.47,497.00 L174.48,497.00 L175.48,497.00 L176.49,497.00 L177.50,497.00 L178.51,497.00 L179.51,497.00 L180.52,497.00 L181.53,497.00 L182.53,497.00 L183.54,497.00 L184.55,497.00 L185.55,497.00 L186.56,497.00 L187.57,496.96 L188.57,496.89 L189.56,496.77 L190.54,496.58 L191.52,496.33 L192.49,496.03 L193.46,495.68 L194.41,495.31 L195.36,494.92 L196.29,494.53 L197.21,494.14 L198.11,493.71 L198.98,493.21 L199.83,492.65 L200.68,492.05 L201.51,491.44 L202.35,490.84 L203.20,490.27 L204.06,489.77 L204.95,489.34 L205.86,489.02 L206.80,488.75 L207.76,488.51 L208.74,488.30 L209.73,488.10 L210.73,487.92 L211.74,487.75 L212.74,487.57 L213.75,487.39 L214.75,487.20 L215.74,486.99 L216.72,486.77 L217.70,486.53 L218.68,486.29 L219.66,486.05 L220.63,485.80 L221.61,485.56 L222.59,485.32 L223.57,485.10 L224.56,484.89 L225.54,484.69 L226.53,484.52 L227.53,484.35 L228.52,484.20 L229.52,484.05 L230.52,483.91 L231.51,483.77 L232.51,483.62 L233.51,483.47 L234.50,483.32 L235.50,483.15 L236.49,482.97 L237.48,482.78 L238.46,482.58 L239.45,482.38 L240.44,482.18 L241.43,481.98 L242.42,481.79 L243.41,481.61 L244.40,481.43 L245.39,481.27 L246.39,481.12 L247.38,480.98 L248.38,480.84 L249.38,480.71 L250.38,480.57 L251.38,480.44 L252.37,480.30 L253.37,480.16 L254.37,480.02 L255.36,479.87 L256.36,479.72 L257.36,479.56 L258.35,479.40 L259.34,479.24 L260.34,479.08 L261.33,478.92 L262.33,478.76 L263.32,478.60 L264.32,478.44 L265.31,478.29 L266.31,478.13 L267.30,477.97 L268.30,477.81 L269.29,477.66 L270.29,477.50 L271.28,477.35 L272.28,477.20 L273.27,477.05 L274.27,476.92 L275.27,476.79 L276.27,476.66 L277.27,476.53 L278.27,476.41 L279.27,476.29 L280.27,476.17 L281.27,476.06 L282.27,475.95 L283.27,475.84 L284.27,475.73 L285.28,475.63 L286.28,475.53 L287.28,475.43 L288.28,475.34 L289.29,475.24 L290.29,475.15 L291.29,475.07 L292.30,474.98 L293.30,474.90" stroke="#ed1c24" stroke-dasharray="10 9.97"/>
<path d="M108.00,497.00 L109.01,497.00 L110.02,497.00 L111.03,497.00 L112.04,497.00 L113.05,497.00 L114.06,497.00 L115.07,497.00 L116.08,497.00 L117.09,497.00 L118.10,497.00 L119.11,497.00 L120.12,497.00 L121.13,497.00 L122.14,497.00 L123.15,497.00 L124.16,497.00 L125.17,497.00 L126.18,497.00 L127.20,497.00 L128.21,497.00 L129.22,497.00 L130.23,497.00 L131.24,497.00 L132.25,497.00 L133.26,497.00 L134.27,497.00 L135.28,497.00 L136.29,497.00 L137.30,497.00 L138.31,497.00 L139.32,497.00 L140.33,497.00 L141.34,497.00 L142.35,497.00 L143.36,497.00 L144.37,497.00 L145.38,497.00 L146.39,497.00 L147.40,497.00 L148.41,497.00 L149.42,497.00 L150.43,497.00 L151.44,497.00 L152.45,497.00 L153.46,497.00 L154.47,497.00 L155.48,497.00 L156.49,497.00 L157.50,497.00 L158.51,497.00 L159.52,497.00 L160.53,497.00 L161.55,497.00 L162.56,497.00 L163.57,497.00 L164.58,497.00 L165.59,497.00 L166.60,497.00 L167.61,497.00 L168.62,497.00 L169.63,497.00 L170.64,497.00 L171.65,497.00 L172.66,497.00 L173.67,497.00 L174.68,497.00 L175.69,497.00 L176.70,497.00 L177.71,497.00 L178.72,497.00 L179.73,497.00 L180.74,497.00 L181.75,497.00 L182.76,497.00 L183.77,497.00 L184.78,497.00 L185.79,497.00 L186.80,497.00 L187.81,497.00 L188.82,497.00 L189.83,497.00 L190.84,497.00 L191.85,497.00 L192.86,497.00 L193.87,497.00 L194.88,497.00 L195.89,497.00 L196.90,497.00 L197.91,497.00 L198.92,496.98 L199.93,496.94 L200.94,496.89 L201.95,496.84 L202.96,496.78 L203.97,496.72 L204.98,496.64 L205.99,496.56 L206.99,496.46 L207.99,496.35 L208.99,496.21 L209.99,496.05 L210.98,495.86 L211.98,495.67 L212.97,495.48 L213.96,495.28 L214.95,495.08 L215.94,494.88 L216.93,494.68 L217.92,494.47 L218.91,494.25 L219.90,494.03 L220.88,493.80 L221.87,493.57 L222.85,493.33 L223.83,493.08 L224.81,492.83 L225.79,492.57 L226.76,492.31 L227.73,492.04 L228.69,491.76 L229.66,491.46 L230.62,491.15 L231.57,490.83 L232.53,490.50 L233.48,490.16 L234.43,489.82 L235.38,489.47 L236.33,489.12 L237.28,488.76 L238.23,488.41 L239.18,488.05 L240.12,487.70 L241.07,487.35 L242.02,487.00 L242.97,486.65 L243.91,486.30 L244.86,485.94 L245.80,485.58 L246.75,485.22 L247.69,484.86 L248.64,484.50 L249.58,484.14 L250.52,483.78 L251.47,483.42 L252.41,483.06 L253.36,482.70 L254.30,482.35 L255.25,481.99 L256.20,481.64 L257.14,481.29 L258.09,480.94 L259.04,480.60 L259.99,480.25 L260.94,479.90 L261.89,479.55 L262.84,479.21 L263.78,478.86 L264.73,478.51 L265.68,478.16 L266.63,477.81 L267.58,477.46 L268.52,477.11 L269.47,476.75 L270.41,476.40 L271.36,476.04 L272.30,475.68 L273.25,475.33 L274.20,474.97 L275.14,474.62 L276.09,474.26 L277.04,473.91 L277.98,473.56 L278.93,473.22 L279.89,472.88 L280.84,472.55 L281.79,472.21 L282.75,471.88 L283.70,471.56 L284.66,471.23 L285.61,470.91 L286.57,470.58 L287.53,470.27 L288.49,469.95 L289.45,469.63 L290.41,469.32 L291.37,469.01 L292.34,468.70 L293.30,468.40" stroke="#ed1c24" stroke-dasharray="2.1 4.85"/>
<path d="M108.00,482.80 L108.67,482.60 L109.34,482.39 L110.01,482.18 L110.68,481.97 L111.35,481.76 L112.01,481.55 L112.68,481.33 L113.35,481.11 L114.01,480.89 L114.68,480.67 L115.34,480.45 L116.00,480.22 L116.67,479.99 L117.33,479.76 L117.99,479.53 L118.65,479.30 L119.31,479.07 L119.98,478.84 L120.64,478.61 L121.30,478.38 L121.96,478.14 L122.62,477.90 L123.28,477.65 L123.93,477.40 L124.59,477.15 L125.23,476.88 L125.88,476.61 L126.52,476.34 L127.15,476.05 L127.79,475.76 L128.42,475.46 L129.05,475.15 L129.68,474.83 L130.31,474.51 L130.93,474.18 L131.55,473.84 L132.16,473.50 L132.77,473.15 L133.38,472.80 L133.98,472.43 L134.57,472.07 L135.16,471.69 L135.74,471.31 L136.32,470.92 L136.89,470.52 L137.47,470.12 L138.04,469.70 L138.60,469.28 L139.17,468.84 L139.72,468.41 L140.27,467.96 L140.81,467.50 L141.34,467.04 L141.86,466.58 L142.37,466.10 L142.87,465.63 L143.36,465.14 L143.84,464.65 L144.32,464.14 L144.79,463.63 L145.25,463.10 L145.71,462.57 L146.16,462.03 L146.61,461.49 L147.05,460.93 L147.49,460.38 L147.92,459.81 L148.34,459.25 L148.76,458.68 L149.17,458.11 L149.58,457.53 L149.98,456.95 L150.38,456.38 L150.77,455.80 L151.15,455.22 L151.53,454.64 L151.91,454.06 L152.28,453.47 L152.65,452.87 L153.02,452.27 L153.38,451.67 L153.74,451.07 L154.09,450.46 L154.44,449.85 L154.79,449.24 L155.13,448.63 L155.47,448.01 L155.81,447.39 L156.14,446.77 L156.47,446.15 L156.79,445.52 L157.11,444.90 L157.43,444.27 L157.75,443.65 L158.06,443.02 L158.37,442.39 L158.67,441.76 L158.98,441.13 L159.28,440.50 L159.57,439.87 L159.87,439.24 L160.16,438.60 L160.46,437.97 L160.75,437.33 L161.03,436.69 L161.32,436.05 L161.60,435.41 L161.88,434.76 L162.16,434.12 L162.43,433.47 L162.71,432.82 L162.98,432.18 L163.25,431.53 L163.51,430.88 L163.77,430.22 L164.04,429.57 L164.29,428.92 L164.55,428.27 L164.80,427.61 L165.05,426.95 L165.30,426.30 L165.54,425.64 L165.78,424.98 L166.02,424.33 L166.26,423.67 L166.49,423.01 L166.72,422.35 L166.95,421.69 L167.17,421.03 L167.39,420.37 L167.61,419.70 L167.82,419.04 L168.04,418.37 L168.25,417.70 L168.45,417.03 L168.66,416.36 L168.86,415.69 L169.06,415.02 L169.26,414.35 L169.46,413.68 L169.66,413.01 L169.85,412.33 L170.05,411.66 L170.24,410.98 L170.43,410.31 L170.62,409.63 L170.81,408.96 L171.00,408.28 L171.19,407.61 L171.39,406.93 L171.58,406.26 L171.77,405.58 L171.96,404.91 L172.15,404.23 L172.34,403.56 L172.53,402.88 L172.72,402.21 L172.92,401.54 L173.11,400.86 L173.30,400.19 L173.49,399.51 L173.68,398.84 L173.87,398.16 L174.06,397.49 L174.25,396.81 L174.43,396.14 L174.62,395.46 L174.81,394.79 L174.99,394.11 L175.18,393.44 L175.37,392.76 L175.55,392.09 L175.74,391.41 L175.93,390.74 L176.12,390.06 L176.32,389.39 L176.51,388.72 L176.71,388.05 L176.91,387.37 L177.10,386.70 L177.30,386.03 L177.49,385.35 L177.68,384.67 L177.87,383.99 L178.05,383.31 L178.25,382.63 L178.44,381.95 L178.64,381.27 L178.84,380.60 L179.06,379.93 L179.28,379.27 L179.51,378.61 L179.75,377.96 L180.00,377.32 L180.27,376.68 L180.55,376.03 L180.86,375.37 L181.23,374.76 L181.65,374.25 L182.26,373.77 L182.82,373.62 L183.27,374.09 L183.65,374.83 L183.91,375.49 L184.12,376.13 L184.31,376.79 L184.47,377.47 L184.62,378.16 L184.75,378.85 L184.88,379.56 L185.00,380.27 L185.12,380.97 L185.25,381.67 L185.39,382.36 L185.54,383.05 L185.68,383.73 L185.83,384.42 L185.97,385.10 L186.12,385.79 L186.26,386.47 L186.41,387.16 L186.55,387.85 L186.69,388.53 L186.83,389.22 L186.97,389.91 L187.11,390.59 L187.24,391.28 L187.38,391.97 L187.51,392.65 L187.65,393.34 L187.78,394.03 L187.91,394.72 L188.05,395.40 L188.18,396.09 L188.31,396.78 L188.44,397.47 L188.56,398.16 L188.69,398.85 L188.81,399.54 L188.94,400.23 L189.05,400.92 L189.17,401.61 L189.28,402.30 L189.37,403.00 L189.46,403.69 L189.56,404.39 L189.67,405.08 L189.79,405.77 L189.97,406.60 L190.17,407.19 L190.39,406.85 L190.61,406.01 L190.77,405.27 L190.90,404.59 L191.02,403.90 L191.12,403.20 L191.21,402.50 L191.30,401.81 L191.38,401.11 L191.46,400.42 L191.53,399.72 L191.60,399.02 L191.67,398.33 L191.74,397.63 L191.80,396.93 L191.86,396.23 L191.92,395.53 L191.97,394.84 L192.03,394.14 L192.08,393.44 L192.13,392.74 L192.17,392.04 L192.22,391.34 L192.26,390.64 L192.30,389.94 L192.34,389.24 L192.38,388.54 L192.41,387.84 L192.45,387.14 L192.49,386.44 L192.52,385.74 L192.56,385.05 L192.60,384.35 L192.63,383.65 L192.67,382.95 L192.71,382.25 L192.75,381.55 L192.79,380.85 L192.83,380.15 L192.87,379.45 L192.91,378.75 L192.95,378.05 L192.99,377.35 L193.03,376.65 L193.07,375.95 L193.11,375.25 L193.14,374.55 L193.18,373.85 L193.22,373.15 L193.26,372.45 L193.29,371.75 L193.33,371.05 L193.36,370.35 L193.40,369.66 L193.43,368.96 L193.46,368.26 L193.49,367.56 L193.53,366.86 L193.56,366.16 L193.59,365.46 L193.62,364.76 L193.65,364.06 L193.68,363.36 L193.72,362.66 L193.75,361.96 L193.78,361.26 L193.81,360.56 L193.84,359.86 L193.88,359.16 L193.91,358.46 L193.95,357.76 L193.98,357.06 L194.02,356.36 L194.05,355.66 L194.09,354.96 L194.12,354.26 L194.16,353.56 L194.19,352.86 L194.22,352.16 L194.25,351.46 L194.27,350.76 L194.30,350.06 L194.32,349.36 L194.34,348.66 L194.37,347.96 L194.39,347.26 L194.42,346.56 L194.44,345.86 L194.46,345.16 L194.48,344.46 L194.51,343.76 L194.53,343.06 L194.55,342.36 L194.57,341.66 L194.59,340.96 L194.61,340.26 L194.63,339.56 L194.65,338.86 L194.67,338.16 L194.68,337.46 L194.70,336.75 L194.71,336.05 L194.73,335.35 L194.74,334.65 L194.75,333.95 L194.77,333.25 L194.78,332.55 L194.78,331.85 L194.79,331.15 L194.80,330.45 L194.80,329.75 L194.81,329.05 L194.81,328.35 L194.81,327.65 L194.82,326.95 L194.82,326.25 L194.82,325.55 L194.83,324.85 L194.83,324.15 L194.83,323.45 L194.83,322.75 L194.84,322.04 L194.84,321.34 L194.84,320.64 L194.84,319.94 L194.84,319.24 L194.85,318.54 L194.85,317.84 L194.85,317.14 L194.85,316.44 L194.85,315.74 L194.85,315.04 L194.85,314.34 L194.86,313.64 L194.86,312.94 L194.86,312.24 L194.86,311.54 L194.86,310.84 L194.86,310.13 L194.87,309.43 L194.87,308.73 L194.87,308.03 L194.87,307.33 L194.87,306.63 L194.87,305.93 L194.88,305.23 L194.88,304.53 L194.88,303.83 L194.89,303.13 L194.89,302.43 L194.89,301.73 L194.89,301.03 L194.90,300.33 L194.90,299.63 L194.91,298.93 L194.91,298.23 L194.92,297.52 L194.92,296.82 L194.93,296.12 L194.94,295.42 L194.94,294.72 L194.95,294.02 L194.96,293.32 L194.97,292.62 L194.98,291.92 L194.99,291.22 L195.00,290.52 L195.01,289.82 L195.02,289.12 L195.03,288.42 L195.04,287.72 L195.06,287.02 L195.07,286.32 L195.08,285.62 L195.09,284.92 L195.11,284.22 L195.12,283.52 L195.13,282.81 L195.15,282.11 L195.16,281.41 L195.18,280.71 L195.19,280.01 L195.21,279.31 L195.22,278.61 L195.24,277.91 L195.25,277.21 L195.27,276.51 L195.28,275.81 L195.30,275.11 L195.31,274.41 L195.33,273.71 L195.34,273.01 L195.36,272.31 L195.37,271.61 L195.39,270.91 L195.40,270.21 L195.42,269.51 L195.43,268.81 L195.44,268.11 L195.46,267.41 L195.47,266.70 L195.49,266.00 L195.50,265.30 L195.52,264.60 L195.53,263.90 L195.54,263.20 L195.56,262.50 L195.57,261.80 L195.58,261.10 L195.59,260.40 L195.61,259.70 L195.62,259.00 L195.63,258.30 L195.64,257.60 L195.65,256.90 L195.66,256.20 L195.68,255.50 L195.69,254.80 L195.70,254.10 L195.71,253.40 L195.72,252.70 L195.73,251.99 L195.74,251.29 L195.75,250.59 L195.76,249.89 L195.78,249.19 L195.79,248.49 L195.80,247.79 L195.81,247.09 L195.82,246.39 L195.83,245.69 L195.84,244.99 L195.85,244.29 L195.86,243.59 L195.87,242.89 L195.88,242.19 L195.89,241.49 L195.90,240.79 L195.91,240.09 L195.92,239.39 L195.93,238.69 L195.94,237.98 L195.95,237.28 L195.97,236.58 L195.98,235.88 L195.99,235.18 L196.00,234.48 L196.01,233.78 L196.02,233.08 L196.03,232.38 L196.04,231.68 L196.05,230.98 L196.06,230.28 L196.07,229.58 L196.08,228.88 L196.09,228.18 L196.10,227.48 L196.11,226.78 L196.13,226.08 L196.14,225.38 L196.15,224.68 L196.16,223.98 L196.17,223.27 L196.18,222.57 L196.19,221.87 L196.20,221.17 L196.21,220.47 L196.23,219.77 L196.24,219.07 L196.25,218.37 L196.26,217.67 L196.27,216.97 L196.29,216.27 L196.30,215.57 L196.31,214.87 L196.32,214.17 L196.33,213.47 L196.35,212.77 L196.36,212.07 L196.37,211.37 L196.39,210.67 L196.40,209.97 L196.41,209.27 L196.43,208.57 L196.44,207.86 L196.45,207.16 L196.47,206.46 L196.48,205.76 L196.49,205.06 L196.51,204.36 L196.52,203.66 L196.54,202.96 L196.55,202.26 L196.57,201.56 L196.58,200.86 L196.60,200.16 L196.61,199.46 L196.63,198.76 L196.64,198.06 L196.66,197.36 L196.68,196.66 L196.70,195.96 L196.71,195.26 L196.73,194.56 L196.75,193.86 L196.77,193.16 L196.79,192.46 L196.81,191.76 L196.83,191.06 L196.85,190.36 L196.87,189.66 L196.90,188.96 L196.92,188.26 L196.94,187.56 L196.96,186.86 L196.98,186.15 L197.00,185.45 L197.03,184.75 L197.05,184.05 L197.07,183.35 L197.09,182.65 L197.12,181.95 L197.14,181.25 L197.16,180.55 L197.18,179.85 L197.21,179.15 L197.23,178.45 L197.25,177.75 L197.27,177.05 L197.30,176.35 L197.32,175.65 L197.34,174.95 L197.36,174.25 L197.38,173.55 L197.41,172.85 L197.43,172.15 L197.45,171.45 L197.47,170.75 L197.49,170.05 L197.51,169.35 L197.53,168.65 L197.55,167.95 L197.57,167.25 L197.59,166.55 L197.60,165.85 L197.62,165.15 L197.64,164.45 L197.66,163.75 L197.67,163.05 L197.69,162.35 L197.71,161.65 L197.73,160.95 L197.74,160.25 L197.76,159.54 L197.78,158.84 L197.79,158.14 L197.81,157.44 L197.82,156.74 L197.84,156.04 L197.86,155.34 L197.87,154.64 L197.89,153.94 L197.90,153.24 L197.92,152.54 L197.93,151.84 L197.95,151.14 L197.96,150.44 L197.98,149.74 L197.99,149.04 L198.01,148.34 L198.03,147.64 L198.04,146.94 L198.06,146.24 L198.07,145.54 L198.09,144.84 L198.10,144.14 L198.12,143.44 L198.13,142.74 L198.15,142.03 L198.16,141.33 L198.18,140.63 L198.19,139.93 L198.21,139.23 L198.22,138.53 L198.24,137.83 L198.26,137.13 L198.27,136.43 L198.29,135.73 L198.30,135.03 L198.32,134.33 L198.34,133.63 L198.35,132.93 L198.37,132.23 L198.39,131.53 L198.40,130.83 L198.42,130.13 L198.44,129.43 L198.46,128.73 L198.47,128.03 L198.49,127.33 L198.51,126.63 L198.53,125.93 L198.55,125.23 L198.56,124.53 L198.58,123.83 L198.60,123.13 L198.62,122.42 L198.64,121.72 L198.66,121.02 L198.67,120.32 L198.69,119.62 L198.71,118.92 L198.73,118.22 L198.75,117.52 L198.77,116.82 L198.79,116.12 L198.81,115.42 L198.82,114.72 L198.84,114.02 L198.86,113.32 L198.88,112.62 L198.90,111.92 L198.92,111.22 L198.94,110.52 L198.96,109.82 L198.98,109.12 L199.00,108.42 L199.02,107.72 L199.04,107.02 L199.06,106.32 L199.08,105.62 L199.11,104.92 L199.13,104.22 L199.15,103.52 L199.17,102.82 L199.19,102.12 L199.21,101.42 L199.24,100.72 L199.26,100.02 L199.28,99.32 L199.31,98.61 L199.33,97.91 L199.35,97.21 L199.38,96.51 L199.40,95.81 L199.42,95.11 L199.45,94.41 L199.47,93.71 L199.50,93.01 L199.53,92.31 L199.55,91.61 L199.58,90.91 L199.61,90.21 L199.63,89.51 L199.66,88.81 L199.69,88.11 L199.72,87.41 L199.75,86.71 L199.78,86.01 L199.81,85.31 L199.84,84.61 L199.88,83.92 L199.91,83.22 L199.94,82.52 L199.97,81.82 L200.01,81.12 L200.04,80.42 L200.07,79.72 L200.11,79.02 L200.14,78.32 L200.17,77.62 L200.21,76.92 L200.24,76.22 L200.28,75.52 L200.31,74.82 L200.35,74.12 L200.38,73.42 L200.42,72.72 L200.45,72.02 L200.49,71.32 L200.52,70.62 L200.55,69.92 L200.59,69.22 L200.62,68.52 L200.66,67.82 L200.69,67.12 L200.73,66.42 L200.76,65.72 L200.79,65.02 L200.82,64.32 L200.86,63.62 L200.89,62.92 L200.92,62.22 L200.96,61.52 L200.99,60.82 L201.02,60.12 L201.05,59.42 L201.09,58.72 L201.12,58.02 L201.16,57.32 L201.19,56.62 L201.22,55.92 L201.26,55.22 L201.29,54.52 L201.33,53.82 L201.36,53.12 L201.40,52.42 L201.44,51.72 L201.48,51.02 L201.51,50.32 L201.55,49.62 L201.59,48.92 L201.63,48.23 L201.67,47.53 L201.71,46.83 L201.76,46.13 L201.80,45.43 L201.85,44.73 L201.89,44.03 L201.94,43.33 L201.98,42.63 L202.03,41.94 L202.08,41.24 L202.13,40.54 L202.19,39.84 L202.24,39.14 L202.29,38.44 L202.35,37.74 L202.40,37.04 L202.46,36.34 L202.52,35.64 L202.59,34.94 L202.65,34.24 L202.72,33.55 L202.79,32.85 L202.87,32.15 L202.95,31.46 L203.03,30.76 L203.12,30.07 L203.21,29.37 L203.30,28.68 L203.40,27.99 L203.52,27.21 L203.65,26.33 L203.81,25.42 L203.97,24.60 L204.14,23.95 L204.31,23.56 L204.47,23.54 L204.65,23.87 L204.84,24.49 L205.03,25.29 L205.20,26.18 L205.36,27.07 L205.48,27.87 L205.57,28.56 L205.66,29.25 L205.74,29.95 L205.81,30.64 L205.88,31.34 L205.94,32.03 L206.00,32.73 L206.06,33.43 L206.11,34.13 L206.16,34.83 L206.21,35.53 L206.26,36.23 L206.30,36.94 L206.35,37.64 L206.40,38.34 L206.45,39.04 L206.50,39.74 L206.55,40.44 L206.61,41.14 L206.67,41.83 L206.73,42.53 L206.78,43.23 L206.84,43.93 L206.90,44.63 L206.96,45.33 L207.01,46.02 L207.07,46.72 L207.13,47.42 L207.18,48.12 L207.24,48.82 L207.29,49.52 L207.35,50.21 L207.41,50.91 L207.46,51.61 L207.52,52.31 L207.57,53.01 L207.63,53.71 L207.68,54.40 L207.74,55.10 L207.80,55.80 L207.85,56.50 L207.91,57.20 L207.97,57.90 L208.02,58.59 L208.08,59.29 L208.14,59.99 L208.19,60.69 L208.25,61.39 L208.31,62.09 L208.37,62.78 L208.43,63.48 L208.48,64.18 L208.54,64.88 L208.60,65.58 L208.66,66.27 L208.72,66.97 L208.78,67.67 L208.84,68.37 L208.91,69.07 L208.97,69.76 L209.03,70.46 L209.10,71.16 L209.16,71.86 L209.23,72.55 L209.30,73.25 L209.37,73.95 L209.44,74.64 L209.51,75.34 L209.58,76.04 L209.65,76.74 L209.72,77.43 L209.79,78.13 L209.86,78.83 L209.94,79.52 L210.01,80.22 L210.08,80.92 L210.14,81.62 L210.21,82.31 L210.28,83.01 L210.35,83.71 L210.41,84.41 L210.47,85.10 L210.54,85.80 L210.60,86.50 L210.66,87.20 L210.71,87.89 L210.77,88.59 L210.82,89.29 L210.87,89.99 L210.92,90.69 L210.98,91.39 L211.02,92.08 L211.07,92.78 L211.12,93.48 L211.17,94.18 L211.21,94.88 L211.26,95.58 L211.30,96.28 L211.35,96.98 L211.39,97.68 L211.44,98.38 L211.48,99.07 L211.52,99.77 L211.56,100.47 L211.61,101.17 L211.65,101.87 L211.69,102.57 L211.73,103.27 L211.77,103.97 L211.81,104.67 L211.85,105.37 L211.89,106.07 L211.93,106.77 L211.97,107.47 L212.01,108.17 L212.05,108.87 L212.09,109.57 L212.12,110.27 L212.16,110.97 L212.20,111.67 L212.24,112.37 L212.28,113.06 L212.32,113.76 L212.37,114.46 L212.41,115.16 L212.45,115.86 L212.49,116.56 L212.53,117.26 L212.57,117.96 L212.62,118.66 L212.66,119.36 L212.70,120.06 L212.75,120.76 L212.79,121.46 L212.84,122.16 L212.88,122.85 L212.93,123.55 L212.97,124.25 L213.01,124.95 L213.06,125.65 L213.10,126.35 L213.15,127.05 L213.19,127.75 L213.24,128.45 L213.28,129.15 L213.33,129.85 L213.37,130.55 L213.42,131.24 L213.47,131.94 L213.51,132.64 L213.56,133.34 L213.60,134.04 L213.65,134.74 L213.70,135.44 L213.74,136.14 L213.79,136.84 L213.83,137.54 L213.88,138.23 L213.93,138.93 L213.98,139.63 L214.02,140.33 L214.07,141.03 L214.12,141.73 L214.17,142.43 L214.21,143.13 L214.26,143.83 L214.31,144.53 L214.36,145.22 L214.41,145.92 L214.46,146.62 L214.51,147.32 L214.56,148.02 L214.60,148.72 L214.65,149.42 L214.70,150.12 L214.75,150.81 L214.80,151.51 L214.85,152.21 L214.90,152.91 L214.95,153.61 L215.00,154.31 L215.05,155.01 L215.10,155.71 L215.15,156.41 L215.20,157.10 L215.25,157.80 L215.30,158.50 L215.34,159.20 L215.39,159.90 L215.44,160.60 L215.49,161.30 L215.54,162.00 L215.59,162.70 L215.63,163.39 L215.68,164.09 L215.73,164.79 L215.78,165.49 L215.82,166.19 L215.87,166.89 L215.92,167.59 L215.96,168.29 L216.01,168.99 L216.06,169.68 L216.11,170.38 L216.15,171.08 L216.20,171.78 L216.25,172.48 L216.30,173.18 L216.34,173.88 L216.39,174.58 L216.44,175.28 L216.49,175.98 L216.54,176.67 L216.58,177.37 L216.63,178.07 L216.68,178.77 L216.73,179.47 L216.78,180.17 L216.83,180.87 L216.88,181.57 L216.93,182.26 L216.98,182.96 L217.04,183.66 L217.09,184.36 L217.14,185.06 L217.19,185.76 L217.24,186.46 L217.29,187.16 L217.34,187.85 L217.39,188.55 L217.44,189.25 L217.50,189.95 L217.55,190.65 L217.60,191.35 L217.66,192.05 L217.71,192.74 L217.76,193.44 L217.82,194.14 L217.87,194.84 L217.93,195.54 L217.98,196.24 L218.04,196.94 L218.10,197.63 L218.16,198.33 L218.22,199.03 L218.28,199.73 L218.34,200.42 L218.40,201.12 L218.46,201.82 L218.52,202.52 L218.59,203.22 L218.65,203.91 L218.72,204.61 L218.79,205.31 L218.85,206.01 L218.92,206.70 L218.99,207.40 L219.06,208.10 L219.13,208.79 L219.20,209.49 L219.27,210.19 L219.34,210.89 L219.41,211.58 L219.48,212.28 L219.55,212.98 L219.63,213.67 L219.70,214.37 L219.77,215.07 L219.85,215.76 L219.92,216.46 L219.99,217.16 L220.07,217.85 L220.14,218.55 L220.21,219.25 L220.29,219.94 L220.36,220.64 L220.44,221.34 L220.51,222.03 L220.59,222.73 L220.66,223.43 L220.74,224.12 L220.81,224.82 L220.89,225.52 L220.97,226.21 L221.04,226.91 L221.12,227.60 L221.20,228.30 L221.28,229.00 L221.36,229.69 L221.43,230.39 L221.51,231.09 L221.59,231.78 L221.67,232.48 L221.75,233.17 L221.83,233.87 L221.91,234.57 L221.99,235.26 L222.07,235.96 L222.15,236.65 L222.23,237.35 L222.31,238.05 L222.39,238.74 L222.48,239.44 L222.56,240.13 L222.64,240.83 L222.72,241.52 L222.80,242.22 L222.88,242.92 L222.96,243.61 L223.04,244.31 L223.12,245.00 L223.20,245.70 L223.28,246.40 L223.36,247.09 L223.44,247.79 L223.52,248.48 L223.60,249.18 L223.68,249.88 L223.76,250.57 L223.84,251.27 L223.92,251.96 L224.00,252.66 L224.08,253.36 L224.16,254.05 L224.24,254.75 L224.31,255.45 L224.39,256.14 L224.47,256.84 L224.55,257.53 L224.63,258.23 L224.71,258.93 L224.79,259.62 L224.87,260.32 L224.95,261.01 L225.03,261.71 L225.11,262.41 L225.19,263.10 L225.27,263.80 L225.35,264.49 L225.43,265.19 L225.52,265.89 L225.60,266.58 L225.68,267.28 L225.77,267.97 L225.85,268.67 L225.94,269.36 L226.03,270.06 L226.11,270.75 L226.20,271.45 L226.29,272.14 L226.38,272.84 L226.47,273.53 L226.56,274.23 L226.65,274.92 L226.74,275.62 L226.83,276.31 L226.91,277.01 L227.00,277.70 L227.09,278.40 L227.18,279.09 L227.27,279.79 L227.36,280.49 L227.45,281.18 L227.54,281.88 L227.63,282.57 L227.73,283.27 L227.82,283.96 L227.91,284.66 L228.01,285.35 L228.10,286.05 L228.20,286.74 L228.30,287.44 L228.40,288.13 L228.50,288.83 L228.60,289.52 L228.71,290.21 L228.81,290.90 L228.92,291.60 L229.03,292.29 L229.14,292.98 L229.25,293.67 L229.36,294.36 L229.48,295.05 L229.60,295.74 L229.72,296.43 L229.84,297.12 L229.97,297.80 L230.10,298.49 L230.23,299.17 L230.37,299.86 L230.53,300.54 L230.68,301.22 L230.85,301.91 L231.01,302.59 L231.19,303.27 L231.36,303.94 L231.54,304.62 L231.71,305.30 L231.89,305.98 L232.06,306.66 L232.24,307.34 L232.41,308.02 L232.57,308.70 L232.74,309.38 L232.90,310.06 L233.07,310.74 L233.23,311.43 L233.40,312.11 L233.56,312.79 L233.73,313.47 L233.89,314.15 L234.06,314.83 L234.22,315.51 L234.39,316.19 L234.55,316.87 L234.72,317.55 L234.88,318.23 L235.05,318.91 L235.22,319.59 L235.39,320.27 L235.56,320.95 L235.73,321.63 L235.90,322.31 L236.07,322.99 L236.24,323.67 L236.41,324.35 L236.58,325.03 L236.75,325.71 L236.92,326.39 L237.09,327.07 L237.26,327.75 L237.43,328.43 L237.61,329.11 L237.78,329.79 L237.95,330.46 L238.13,331.14 L238.30,331.82 L238.47,332.50 L238.65,333.18 L238.82,333.86 L239.00,334.54 L239.17,335.22 L239.34,335.89 L239.52,336.57 L239.69,337.25 L239.87,337.93 L240.05,338.61 L240.22,339.28 L240.40,339.96 L240.58,340.64 L240.76,341.32 L240.94,341.99 L241.12,342.67 L241.31,343.35 L241.49,344.02 L241.67,344.70 L241.85,345.38 L242.04,346.05 L242.22,346.73 L242.40,347.40 L242.59,348.08 L242.78,348.76 L242.96,349.43 L243.15,350.11 L243.34,350.78 L243.53,351.46 L243.73,352.13 L243.92,352.80 L244.12,353.47 L244.31,354.15 L244.52,354.82 L244.72,355.49 L244.92,356.16 L245.13,356.82 L245.34,357.49 L245.56,358.16 L245.77,358.83 L245.99,359.49 L246.21,360.16 L246.43,360.82 L246.66,361.49 L246.88,362.15 L247.11,362.81 L247.34,363.47 L247.57,364.13 L247.81,364.80 L248.04,365.45 L248.28,366.11 L248.52,366.77 L248.75,367.43 L248.99,368.09 L249.24,368.75 L249.48,369.41 L249.72,370.06 L249.97,370.72 L250.21,371.38 L250.46,372.03 L250.71,372.69 L250.97,373.34 L251.22,374.00 L251.48,374.65 L251.74,375.30 L252.00,375.95 L252.26,376.60 L252.53,377.25 L252.80,377.89 L253.07,378.54 L253.35,379.18 L253.63,379.82 L253.91,380.46 L254.20,381.10 L254.48,381.74 L254.77,382.38 L255.07,383.02 L255.37,383.65 L255.67,384.29 L255.98,384.92 L256.29,385.55 L256.61,386.17 L256.93,386.80 L257.26,387.41 L257.59,388.03 L257.93,388.64 L258.28,389.24 L258.63,389.84 L259.00,390.43 L259.37,391.03 L259.75,391.62 L260.14,392.20 L260.54,392.78 L260.94,393.36 L261.34,393.94 L261.75,394.51 L262.16,395.08 L262.57,395.65 L262.98,396.21 L263.40,396.77 L263.82,397.34 L264.24,397.89 L264.66,398.45 L265.09,399.01 L265.52,399.56 L265.96,400.11 L266.40,400.66 L266.85,401.20 L267.30,401.74 L267.75,402.28 L268.20,402.81 L268.67,403.34 L269.13,403.86 L269.60,404.37 L270.07,404.89 L270.55,405.39 L271.04,405.90 L271.53,406.40 L272.03,406.90 L272.53,407.39 L273.04,407.88 L273.55,408.36 L274.06,408.84 L274.58,409.31 L275.10,409.78 L275.63,410.24 L276.16,410.70 L276.69,411.14 L277.23,411.59 L277.77,412.03 L278.32,412.46 L278.88,412.89 L279.44,413.32 L280.00,413.74 L280.57,414.16 L281.14,414.57 L281.71,414.97 L282.28,415.37 L282.86,415.77 L283.44,416.16 L284.02,416.55 L284.61,416.93 L285.20,417.31 L285.79,417.68 L286.39,418.05 L286.99,418.41 L287.59,418.78 L288.19,419.13 L288.79,419.49 L289.40,419.84 L290.01,420.19 L290.62,420.54 L291.23,420.88 L291.84,421.21 L292.46,421.55 L293.08,421.87 L293.70,422.20" stroke="#ed1c24"/>
<path d="M293.90,376.40 L295.33,375.93 L296.77,375.45 L298.20,374.99 L299.64,374.53 L301.08,374.07 L302.52,373.61 L303.96,373.16 L305.40,372.71 L306.84,372.26 L308.28,371.82 L309.73,371.38 L311.18,370.96 L312.63,370.55 L314.08,370.14 L315.54,369.74 L317.00,369.35 L318.46,368.97 L319.93,368.61 L321.40,368.26 L322.87,367.94 L324.35,367.66 L325.84,367.40 L327.33,367.15 L328.82,366.90 L330.31,366.65 L331.79,366.38 L333.27,366.08 L334.74,365.76 L336.22,365.42 L337.69,365.08 L339.16,364.73 L340.63,364.40 L342.10,364.08 L343.58,363.77 L345.06,363.45 L346.54,363.15 L348.02,362.85 L349.50,362.56 L350.98,362.29 L352.47,362.04 L353.96,361.81 L355.45,361.59 L356.95,361.39 L358.45,361.18 L359.94,360.98 L361.44,360.77 L362.93,360.55 L364.43,360.33 L365.92,360.11 L367.41,359.88 L368.90,359.66 L370.40,359.43 L371.89,359.20 L373.38,358.98 L374.87,358.74 L376.36,358.50 L377.85,358.27 L379.35,358.04 L380.84,357.83 L382.33,357.62 L383.83,357.42 L385.33,357.23 L386.83,357.05 L388.32,356.87 L389.82,356.69 L391.32,356.51 L392.82,356.33 L394.32,356.15 L395.82,355.98 L397.32,355.81 L398.82,355.63 L400.32,355.46 L401.82,355.28 L403.32,355.10 L404.81,354.91 L406.31,354.72 L407.81,354.53 L409.31,354.34 L410.80,354.15 L412.30,353.96 L413.80,353.77 L415.30,353.58 L416.79,353.38 L418.29,353.19 L419.79,353.00 L421.28,352.81 L422.78,352.62 L424.28,352.44 L425.78,352.25 L427.28,352.07 L428.78,351.89 L430.28,351.72 L431.77,351.54 L433.28,351.38 L434.78,351.22 L436.28,351.07 L437.78,350.92 L439.28,350.76 L440.78,350.59 L442.28,350.40 L443.77,350.20 L445.27,349.99 L446.76,349.77 L448.26,349.54 L449.75,349.30 L451.23,349.05 L452.72,348.75 L454.20,348.38 L455.67,347.99 L457.15,347.63 L458.63,347.35 L460.11,347.21 L461.61,347.23 L463.11,347.35 L464.61,347.52 L466.11,347.72 L467.62,347.90 L469.13,348.04 L470.64,348.10 L472.14,348.07 L473.65,348.00 L475.15,347.90 L476.66,347.77 L478.17,347.64 L479.67,347.50 L481.18,347.39 L482.68,347.28 L484.19,347.17 L485.69,347.05 L487.20,346.94 L488.70,346.83 L490.21,346.72 L491.72,346.61 L493.22,346.51 L494.73,346.40 L496.23,346.30 L497.74,346.20 L499.25,346.10 L500.75,346.01 L502.26,345.92 L503.77,345.83 L505.27,345.75 L506.78,345.66 L508.29,345.58 L509.79,345.50 L511.30,345.42 L512.81,345.34 L514.32,345.26 L515.82,345.18 L517.33,345.10 L518.84,345.02 L520.35,344.95 L521.85,344.88 L523.36,344.81 L524.87,344.75 L526.38,344.68 L527.89,344.62 L529.40,344.56 L530.90,344.50 L532.41,344.44 L533.92,344.39 L535.43,344.34 L536.94,344.29 L538.45,344.24 L539.96,344.19 L541.46,344.14 L542.97,344.10 L544.48,344.05 L545.99,344.01 L547.50,343.96 L549.01,343.92 L550.52,343.88 L552.03,343.84 L553.53,343.80 L555.04,343.76 L556.55,343.72 L558.06,343.68 L559.57,343.65 L561.08,343.61 L562.59,343.58 L564.10,343.55 L565.61,343.51 L567.12,343.49 L568.63,343.46 L570.13,343.43 L571.64,343.40 L573.15,343.37 L574.66,343.35 L576.17,343.32 L577.68,343.29 L579.19,343.27 L580.70,343.25 L582.21,343.22 L583.72,343.20 L585.23,343.18 L586.74,343.16 L588.25,343.14 L589.76,343.13 L591.26,343.11 L592.77,343.09 L594.28,343.07 L595.79,343.06 L597.30,343.04 L598.81,343.03 L600.32,343.01 L601.83,343.00 L603.34,342.99 L604.85,342.98 L606.36,342.97 L607.87,342.96 L609.38,342.95 L610.89,342.94 L612.40,342.94 L613.91,342.94 L615.42,342.95 L616.93,342.95 L618.43,342.95 L619.94,342.96 L621.45,342.96 L622.96,342.97 L624.47,342.98 L625.98,343.00 L627.49,343.03 L629.00,343.06 L630.51,343.08 L632.02,343.11 L633.53,343.14 L635.04,343.18 L636.55,343.21 L638.06,343.25 L639.56,343.29 L641.07,343.33 L642.58,343.37 L644.09,343.40 L645.60,343.44 L647.11,343.47 L648.62,343.51 L650.13,343.55 L651.64,343.59 L653.15,343.64 L654.66,343.69 L656.17,343.74 L657.68,343.79 L659.19,343.86 L660.69,343.94 L662.19,344.05 L663.68,344.25 L665.17,344.51 L666.66,344.78 L668.15,345.02 L669.65,345.28 L671.15,345.48 L672.64,345.44 L674.12,345.17 L675.60,344.81 L677.08,344.47 L678.54,344.10 L680.01,343.72 L681.48,343.40 L682.97,343.12 L684.47,342.87 L685.96,342.71 L687.46,342.73 L688.97,342.90 L690.47,343.15 L691.95,343.43 L693.40,343.80 L694.84,344.27 L696.29,344.74 L697.73,345.20 L699.17,345.68 L700.63,346.04 L702.11,346.22 L703.62,346.34 L705.13,346.44 L706.64,346.55 L708.15,346.67 L709.65,346.78 L711.16,346.89 L712.66,346.97 L714.17,347.05 L715.68,347.12 L717.19,347.19 L718.69,347.26 L720.20,347.32 L721.71,347.38 L723.22,347.45 L724.73,347.50 L726.24,347.56 L727.74,347.62 L729.25,347.67 L730.76,347.73 L732.27,347.80 L733.78,347.87 L735.29,347.94 L736.79,348.02 L738.30,348.10" stroke="#ed1c24" stroke-dasharray="10 10.07"/>
<path d="M293.50,341.20 L294.28,339.89 L295.09,338.60 L295.92,337.33 L296.77,336.08 L297.64,334.84 L298.53,333.62 L299.44,332.42 L300.36,331.24 L301.30,330.07 L302.26,328.93 L303.25,327.81 L304.28,326.71 L305.34,325.64 L306.43,324.59 L307.52,323.54 L308.62,322.50 L309.72,321.46 L310.80,320.40 L311.87,319.34 L312.95,318.29 L314.04,317.24 L315.13,316.19 L316.22,315.15 L317.30,314.09 L318.37,313.03 L319.43,311.96 L320.48,310.88 L321.50,309.78 L322.51,308.66 L323.51,307.53 L324.49,306.39 L325.46,305.23 L326.43,304.07 L327.39,302.91 L328.34,301.74 L329.30,300.57 L330.25,299.40 L331.18,298.21 L332.10,297.02 L333.02,295.81 L333.93,294.60 L334.84,293.40 L335.75,292.20 L336.69,291.01 L337.64,289.85 L338.61,288.70 L339.60,287.58 L340.61,286.46 L341.63,285.34 L342.66,284.23 L343.70,283.13 L344.75,282.04 L345.82,280.96 L346.89,279.90 L347.98,278.85 L349.08,277.81 L350.20,276.80 L351.32,275.80 L352.45,274.82 L353.61,273.87 L354.79,272.95 L356.00,272.05 L357.23,271.17 L358.46,270.30 L359.71,269.43 L360.95,268.57 L362.19,267.70 L363.42,266.82 L364.64,265.95 L365.87,265.07 L367.10,264.20 L368.33,263.32 L369.56,262.45 L370.80,261.59 L372.03,260.72 L373.27,259.86 L374.50,258.99 L375.74,258.13 L376.98,257.27 L378.22,256.42 L379.46,255.56 L380.71,254.71 L381.95,253.86 L383.20,253.01 L384.45,252.17 L385.70,251.33 L386.96,250.49 L388.22,249.66 L389.47,248.83 L390.73,248.00 L391.99,247.16 L393.24,246.33 L394.50,245.49 L395.74,244.63 L396.97,243.75 L398.20,242.87 L399.44,241.99 L400.67,241.12 L401.92,240.28 L403.18,239.46 L404.46,238.68 L405.77,237.95 L407.09,237.24 L408.43,236.55 L409.78,235.89 L411.14,235.24 L412.51,234.60 L413.89,233.97 L415.26,233.34 L416.64,232.71 L418.02,232.08 L419.39,231.44 L420.75,230.79 L422.10,230.13 L423.46,229.46 L424.81,228.78 L426.16,228.10 L427.52,227.43 L428.87,226.77 L430.23,226.11 L431.60,225.48 L432.97,224.86 L434.35,224.26 L435.75,223.70 L437.16,223.18 L438.59,222.71 L440.05,222.26 L441.50,221.83 L442.95,221.37 L444.36,220.88 L445.75,220.32 L447.09,219.67 L448.40,218.93 L449.69,218.12 L450.96,217.30 L452.24,216.49 L453.50,215.66 L454.75,214.82 L455.99,213.96 L457.24,213.11 L458.48,212.21 L459.72,211.13 L460.95,210.07 L462.21,209.25 L463.52,208.90 L464.90,209.13 L466.34,209.69 L467.81,210.33 L469.28,210.75 L470.74,210.75 L472.19,210.46 L473.65,210.01 L475.11,209.48 L476.56,209.00 L478.01,208.59 L479.47,208.19 L480.92,207.78 L482.37,207.37 L483.82,206.95 L485.26,206.52 L486.71,206.07 L488.15,205.63 L489.59,205.20 L491.04,204.80 L492.50,204.42 L493.97,204.06 L495.43,203.70 L496.90,203.34 L498.36,202.97 L499.82,202.60 L501.29,202.23 L502.75,201.86 L504.21,201.48 L505.67,201.11 L507.13,200.72 L508.58,200.34 L510.04,199.95 L511.49,199.55 L512.95,199.14 L514.40,198.72 L515.84,198.30 L517.29,197.88 L518.74,197.44 L520.17,196.97 L521.61,196.50 L523.05,196.04 L524.49,195.62 L525.95,195.25 L527.42,194.93 L528.89,194.63 L530.37,194.34 L531.85,194.08 L533.34,193.82 L534.83,193.57 L536.32,193.33 L537.82,193.09 L539.31,192.85 L540.80,192.60 L542.28,192.35 L543.77,192.10 L545.26,191.85 L546.75,191.59 L548.23,191.34 L549.72,191.10 L551.21,190.86 L552.70,190.63 L554.19,190.40 L555.68,190.19 L557.18,189.98 L558.67,189.79 L560.17,189.59 L561.66,189.40 L563.16,189.22 L564.66,189.04 L566.16,188.87 L567.66,188.70 L569.16,188.55 L570.66,188.40 L572.16,188.26 L573.66,188.13 L575.16,188.01 L576.67,187.89 L578.17,187.77 L579.68,187.66 L581.18,187.56 L582.69,187.46 L584.19,187.36 L585.70,187.28 L587.20,187.19 L588.71,187.12 L590.22,187.04 L591.72,186.97 L593.23,186.91 L594.74,186.84 L596.24,186.78 L597.75,186.72 L599.26,186.67 L600.76,186.62 L602.27,186.57 L603.78,186.54 L605.29,186.50 L606.79,186.47 L608.30,186.43 L609.81,186.40 L611.32,186.37 L612.83,186.34 L614.33,186.32 L615.84,186.30 L617.35,186.28 L618.86,186.28 L620.37,186.28 L621.87,186.28 L623.38,186.28 L624.89,186.28 L626.40,186.29 L627.91,186.29 L629.41,186.30 L630.92,186.30 L632.43,186.31 L633.94,186.32 L635.45,186.33 L636.95,186.35 L638.46,186.36 L639.97,186.38 L641.48,186.39 L642.99,186.41 L644.49,186.43 L646.00,186.45 L647.51,186.47 L649.02,186.48 L650.53,186.50 L652.04,186.52 L653.55,186.53 L655.06,186.55 L656.57,186.56 L658.08,186.58 L659.59,186.60 L661.09,186.62 L662.60,186.65 L664.10,186.69 L665.60,186.78 L667.09,187.03 L668.58,187.33 L670.07,187.60 L671.57,187.70 L673.09,187.64 L674.62,187.48 L676.13,187.25 L677.58,186.97 L678.92,186.53 L680.17,185.71 L681.38,184.72 L682.61,183.73 L683.90,182.95 L685.28,182.26 L686.71,181.57 L688.15,181.02 L689.57,180.72 L690.95,180.86 L692.29,181.54 L693.62,182.45 L694.97,183.31 L696.37,183.80 L697.83,183.97 L699.33,184.12 L700.86,184.23 L702.38,184.29 L703.88,184.28 L705.36,184.08 L706.84,183.76 L708.32,183.39 L709.81,183.07 L711.29,182.83 L712.79,182.62 L714.28,182.41 L715.78,182.22 L717.27,182.02 L718.77,181.83 L720.26,181.63 L721.76,181.45 L723.26,181.28 L724.76,181.13 L726.26,180.99 L727.76,180.86 L729.27,180.74 L730.77,180.64 L732.28,180.53 L733.78,180.44 L735.29,180.35 L736.79,180.27 L738.30,180.20" stroke="#ed1c24" stroke-dasharray="2.1 4.85"/>
<path d="M293.40,89.00 L293.70,89.96 L294.00,90.92 L294.30,91.87 L294.61,92.83 L294.92,93.79 L295.22,94.74 L295.53,95.70 L295.85,96.65 L296.16,97.60 L296.47,98.56 L296.79,99.51 L297.11,100.46 L297.43,101.41 L297.75,102.36 L298.07,103.31 L298.40,104.26 L298.72,105.21 L299.05,106.16 L299.38,107.11 L299.71,108.05 L300.05,109.00 L300.38,109.94 L300.72,110.89 L301.05,111.83 L301.39,112.78 L301.73,113.72 L302.08,114.66 L302.42,115.60 L302.76,116.55 L303.10,117.49 L303.44,118.44 L303.78,119.39 L304.12,120.34 L304.46,121.29 L304.80,122.24 L305.15,123.19 L305.49,124.14 L305.83,125.09 L306.18,126.03 L306.52,126.98 L306.87,127.93 L307.22,128.88 L307.58,129.82 L307.94,130.76 L308.30,131.71 L308.66,132.64 L309.03,133.58 L309.40,134.52 L309.78,135.45 L310.16,136.37 L310.55,137.30 L310.94,138.22 L311.34,139.14 L311.74,140.05 L312.16,140.96 L312.57,141.86 L313.00,142.76 L313.43,143.65 L313.87,144.54 L314.31,145.42 L314.77,146.30 L315.24,147.18 L315.72,148.06 L316.22,148.93 L316.72,149.81 L317.24,150.67 L317.77,151.54 L318.30,152.39 L318.85,153.25 L319.41,154.09 L319.98,154.93 L320.55,155.77 L321.13,156.59 L321.72,157.40 L322.32,158.21 L322.93,159.01 L323.54,159.79 L324.15,160.57 L324.78,161.33 L325.43,162.08 L326.10,162.83 L326.78,163.56 L327.48,164.29 L328.18,165.01 L328.90,165.72 L329.62,166.42 L330.35,167.12 L331.09,167.81 L331.83,168.50 L332.57,169.18 L333.31,169.86 L334.05,170.53 L334.80,171.20 L335.54,171.87 L336.30,172.53 L337.06,173.19 L337.82,173.85 L338.59,174.50 L339.37,175.14 L340.15,175.77 L340.94,176.39 L341.74,177.00 L342.54,177.60 L343.35,178.19 L344.16,178.77 L344.98,179.34 L345.81,179.91 L346.65,180.47 L347.49,181.02 L348.34,181.57 L349.20,182.10 L350.06,182.62 L350.93,183.12 L351.80,183.61 L352.68,184.08 L353.57,184.54 L354.46,184.98 L355.37,185.42 L356.28,185.84 L357.20,186.26 L358.12,186.66 L359.05,187.05 L359.99,187.43 L360.93,187.78 L361.87,188.12 L362.82,188.44 L363.77,188.74 L364.72,189.04 L365.69,189.32 L366.65,189.59 L367.63,189.86 L368.60,190.11 L369.58,190.34 L370.56,190.57 L371.54,190.78 L372.53,190.97 L373.51,191.15 L374.50,191.33 L375.49,191.51 L376.48,191.68 L377.47,191.84 L378.47,191.99 L379.46,192.13 L380.46,192.24 L381.46,192.33 L382.46,192.40 L383.45,192.45 L384.46,192.50 L385.46,192.54 L386.46,192.58 L387.46,192.62 L388.47,192.65 L389.47,192.67 L390.48,192.69 L391.48,192.70 L392.48,192.70 L393.49,192.70 L394.49,192.69 L395.49,192.68 L396.50,192.67 L397.50,192.66 L398.50,192.65 L399.51,192.63 L400.51,192.61 L401.51,192.59 L402.52,192.57 L403.52,192.55 L404.52,192.53 L405.53,192.50 L406.53,192.48 L407.53,192.44 L408.53,192.39 L409.53,192.33 L410.53,192.27 L411.53,192.20 L412.53,192.12 L413.53,192.04 L414.53,191.95 L415.54,191.87 L416.54,191.78 L417.54,191.70 L418.54,191.61 L419.54,191.53 L420.54,191.46 L421.54,191.38 L422.54,191.31 L423.54,191.22 L424.55,191.13 L425.55,191.04 L426.56,190.94 L427.56,190.85 L428.57,190.76 L429.57,190.67 L430.57,190.60 L431.57,190.53 L432.57,190.47 L433.57,190.43 L434.56,190.41 L435.55,190.40 L436.53,190.50 L437.52,190.71 L438.51,191.01 L439.49,191.36 L440.47,191.71 L441.44,192.04 L442.40,192.30 L443.36,192.47 L444.31,192.49 L445.24,192.29 L446.16,191.93 L447.08,191.44 L447.99,190.91 L448.90,190.40 L449.81,189.95 L450.71,189.48 L451.60,188.98 L452.48,188.47 L453.37,187.98 L454.27,187.55 L455.19,187.18 L456.13,186.92 L457.09,186.67 L458.09,186.44 L459.09,186.23 L460.10,186.04 L461.11,185.88 L462.11,185.77 L463.09,185.71 L464.04,185.73 L464.96,185.98 L465.87,186.42 L466.77,186.99 L467.66,187.61 L468.55,188.23 L469.45,188.76 L470.37,189.14 L471.31,189.30 L472.27,189.27 L473.25,189.17 L474.25,189.03 L475.26,188.87 L476.27,188.70 L477.27,188.55 L478.27,188.43 L479.27,188.32 L480.26,188.22 L481.26,188.11 L482.26,188.01 L483.26,187.91 L484.26,187.81 L485.26,187.72 L486.26,187.62 L487.25,187.51 L488.25,187.41 L489.25,187.30 L490.25,187.19 L491.24,187.07 L492.24,186.94 L493.23,186.81 L494.22,186.67 L495.21,186.53 L496.21,186.37 L497.20,186.22 L498.19,186.06 L499.18,185.90 L500.17,185.73 L501.16,185.57 L502.15,185.40 L503.14,185.24 L504.13,185.08 L505.12,184.92 L506.11,184.76 L507.10,184.61 L508.10,184.46 L509.09,184.32 L510.08,184.18 L511.07,184.04 L512.07,183.90 L513.06,183.76 L514.06,183.63 L515.05,183.49 L516.04,183.36 L517.04,183.22 L518.03,183.08 L519.03,182.95 L520.02,182.81 L521.02,182.67 L522.01,182.54 L523.00,182.39 L524.00,182.25 L524.99,182.11 L525.98,181.96 L526.97,181.81 L527.96,181.65 L528.95,181.49 L529.94,181.33 L530.93,181.17 L531.92,181.00 L532.91,180.84 L533.90,180.67 L534.89,180.51 L535.88,180.35 L536.87,180.18 L537.86,180.02 L538.85,179.87 L539.85,179.71 L540.84,179.56 L541.83,179.42 L542.82,179.27 L543.81,179.12 L544.81,178.98 L545.80,178.83 L546.79,178.69 L547.79,178.55 L548.78,178.40 L549.78,178.27 L550.77,178.13 L551.76,178.00 L552.76,177.87 L553.75,177.74 L554.75,177.62 L555.75,177.51 L556.74,177.40 L557.74,177.29 L558.74,177.18 L559.73,177.07 L560.73,176.97 L561.73,176.86 L562.73,176.76 L563.73,176.66 L564.73,176.56 L565.73,176.47 L566.73,176.38 L567.73,176.30 L568.73,176.22 L569.73,176.15 L570.73,176.08 L571.73,176.03 L572.73,175.98 L573.73,175.94 L574.74,175.89 L575.74,175.85 L576.74,175.81 L577.74,175.77 L578.75,175.73 L579.75,175.70 L580.75,175.66 L581.76,175.63 L582.76,175.61 L583.76,175.58 L584.77,175.56 L585.77,175.55 L586.77,175.54 L587.78,175.53 L588.78,175.53 L589.78,175.53 L590.78,175.54 L591.79,175.55 L592.79,175.56 L593.79,175.58 L594.80,175.59 L595.80,175.61 L596.80,175.63 L597.81,175.65 L598.81,175.67 L599.81,175.69 L600.82,175.72 L601.82,175.74 L602.82,175.76 L603.83,175.78 L604.83,175.81 L605.83,175.83 L606.83,175.86 L607.84,175.88 L608.84,175.91 L609.84,175.94 L610.85,175.97 L611.85,176.00 L612.85,176.04 L613.85,176.07 L614.86,176.10 L615.86,176.14 L616.86,176.17 L617.87,176.21 L618.87,176.24 L619.87,176.27 L620.87,176.31 L621.88,176.34 L622.88,176.38 L623.88,176.42 L624.88,176.46 L625.89,176.50 L626.89,176.53 L627.89,176.57 L628.89,176.60 L629.90,176.62 L630.90,176.64 L631.90,176.67 L632.91,176.68 L633.91,176.70 L634.91,176.72 L635.92,176.73 L636.92,176.75 L637.92,176.76 L638.93,176.78 L639.93,176.79 L640.93,176.81 L641.93,176.82 L642.94,176.84 L643.94,176.85 L644.94,176.86 L645.95,176.88 L646.95,176.90 L647.95,176.91 L648.96,176.93 L649.96,176.95 L650.96,176.96 L651.97,176.98 L652.97,177.00 L653.97,177.01 L654.98,177.03 L655.98,177.04 L656.98,177.06 L657.99,177.07 L658.99,177.09 L659.99,177.10 L661.00,177.11 L662.01,177.12 L663.02,177.13 L664.04,177.13 L665.05,177.14 L666.06,177.15 L667.06,177.16 L668.05,177.18 L669.03,177.20 L669.99,177.34 L670.94,177.75 L671.89,178.26 L672.82,178.70 L673.74,178.90 L674.65,178.75 L675.56,178.34 L676.45,177.77 L677.33,177.16 L678.19,176.62 L679.01,176.03 L679.81,175.38 L680.59,174.71 L681.38,174.05 L682.18,173.46 L683.02,172.96 L683.91,172.59 L684.89,172.34 L685.88,172.12 L686.83,171.80 L687.70,171.24 L688.56,170.61 L689.45,170.22 L690.40,170.22 L691.42,170.31 L692.43,170.44 L693.38,170.66 L694.29,171.14 L695.17,171.74 L696.06,172.30 L696.97,172.65 L697.92,172.68 L698.90,172.59 L699.91,172.43 L700.91,172.23 L701.90,172.02 L702.87,171.79 L703.83,171.51 L704.78,171.18 L705.73,170.84 L706.68,170.49 L707.63,170.17 L708.59,169.89 L709.56,169.62 L710.53,169.35 L711.50,169.09 L712.47,168.84 L713.45,168.60 L714.42,168.38 L715.40,168.18 L716.39,167.99 L717.38,167.82 L718.36,167.65 L719.36,167.50 L720.35,167.35 L721.34,167.20 L722.34,167.06 L723.33,166.92 L724.33,166.79 L725.32,166.65 L726.31,166.52 L727.31,166.39 L728.31,166.27 L729.30,166.15 L730.30,166.04 L731.30,165.94 L732.30,165.85 L733.30,165.76 L734.30,165.67 L735.30,165.60 L736.30,165.52 L737.30,165.46 L738.30,165.40" stroke="#ed1c24"/>
<path d="M108.00,497.00 L109.01,497.00 L110.01,497.00 L111.02,497.00 L112.03,497.00 L113.03,497.00 L114.04,497.00 L115.05,497.00 L116.05,497.00 L117.06,497.00 L118.06,497.00 L119.07,497.00 L120.08,497.00 L121.08,497.00 L122.09,497.00 L123.10,497.00 L124.10,497.00 L125.11,497.00 L126.12,497.00 L127.12,497.00 L128.13,497.00 L129.14,497.00 L130.14,497.00 L131.15,497.00 L132.16,497.00 L133.16,497.00 L134.17,497.00 L135.18,497.00 L136.18,497.00 L137.19,497.00 L138.19,497.00 L139.20,497.00 L140.21,497.00 L141.21,497.00 L142.22,497.00 L143.23,497.00 L144.23,497.00 L145.24,497.00 L146.25,497.00 L147.25,497.00 L148.26,497.00 L149.27,497.00 L150.27,497.00 L151.28,497.00 L152.29,497.00 L153.30,497.00 L154.31,497.00 L155.32,497.00 L156.33,497.00 L157.35,497.00 L158.36,497.00 L159.38,497.00 L160.39,497.00 L161.41,497.00 L162.42,497.00 L163.44,497.00 L164.45,497.00 L165.46,497.00 L166.48,497.00 L167.49,497.00 L168.51,497.00 L169.52,497.00 L170.53,497.00 L171.54,497.00 L172.55,497.00 L173.56,497.00 L174.56,497.00 L175.57,497.00 L176.57,497.00 L177.58,497.00 L178.58,497.00 L179.58,497.00 L180.57,497.00 L181.57,497.00 L182.56,497.00 L183.55,497.00 L184.54,497.00 L185.52,497.00 L186.51,497.00 L187.49,496.81 L188.44,496.45 L189.37,496.10 L190.28,495.69 L191.17,495.24 L192.06,494.76 L192.94,494.25 L193.81,493.73 L194.67,493.19 L195.54,492.66 L196.40,492.13 L197.27,491.62 L198.14,491.09 L198.99,490.53 L199.84,489.94 L200.68,489.35 L201.52,488.76 L202.37,488.20 L203.23,487.68 L204.11,487.21 L205.00,486.82 L205.91,486.50 L206.85,486.24 L207.81,486.00 L208.79,485.79 L209.78,485.59 L210.78,485.41 L211.79,485.24 L212.80,485.06 L213.80,484.88 L214.80,484.69 L215.79,484.48 L216.77,484.26 L217.75,484.02 L218.73,483.78 L219.70,483.53 L220.68,483.29 L221.66,483.05 L222.64,482.81 L223.62,482.59 L224.60,482.38 L225.59,482.18 L226.58,482.01 L227.57,481.85 L228.56,481.69 L229.56,481.55 L230.56,481.40 L231.55,481.26 L232.55,481.12 L233.55,480.97 L234.54,480.81 L235.53,480.64 L236.52,480.46 L237.51,480.27 L238.50,480.07 L239.49,479.87 L240.47,479.67 L241.46,479.48 L242.45,479.28 L243.44,479.10 L244.43,478.93 L245.42,478.77 L246.42,478.62 L247.41,478.48 L248.41,478.34 L249.41,478.20 L250.41,478.07 L251.40,477.94 L252.40,477.80 L253.40,477.66 L254.39,477.52 L255.39,477.37 L256.38,477.21 L257.38,477.06 L258.37,476.90 L259.37,476.74 L260.36,476.58 L261.35,476.42 L262.35,476.26 L263.34,476.10 L264.34,475.94 L265.33,475.79 L266.32,475.63 L267.32,475.47 L268.31,475.31 L269.31,475.15 L270.30,475.00 L271.30,474.84 L272.29,474.70 L273.29,474.55 L274.28,474.42 L275.28,474.28 L276.28,474.16 L277.28,474.03 L278.28,473.91 L279.28,473.79 L280.28,473.67 L281.28,473.56 L282.28,473.45 L283.28,473.34 L284.28,473.23 L285.28,473.13 L286.28,473.03 L287.28,472.93 L288.29,472.84 L289.29,472.74 L290.29,472.65 L291.29,472.57 L292.30,472.48 L293.30,472.40" stroke="#00a651" stroke-dasharray="10 9.97"/>
<path d="M108.00,497.00 L109.01,497.00 L110.02,497.00 L111.02,497.00 L112.03,497.00 L113.04,497.00 L114.05,497.00 L115.06,497.00 L116.06,497.00 L117.07,497.00 L118.08,497.00 L119.09,497.00 L120.10,497.00 L121.10,497.00 L122.11,497.00 L123.12,497.00 L124.13,497.00 L125.14,497.00 L126.14,497.00 L127.15,497.00 L128.16,497.00 L129.17,497.00 L130.18,497.00 L131.18,497.00 L132.19,497.00 L133.20,497.00 L134.21,497.00 L135.22,497.00 L136.22,497.00 L137.23,497.00 L138.24,497.00 L139.25,497.00 L140.26,497.00 L141.26,497.00 L142.27,497.00 L143.28,497.00 L144.29,497.00 L145.30,497.00 L146.30,497.00 L147.31,497.00 L148.32,497.00 L149.33,497.00 L150.34,497.00 L151.35,497.00 L152.35,497.00 L153.36,497.00 L154.37,497.00 L155.38,497.00 L156.39,497.00 L157.39,497.00 L158.40,497.00 L159.41,497.00 L160.42,497.00 L161.43,497.00 L162.43,497.00 L163.44,497.00 L164.45,497.00 L165.46,497.00 L166.47,497.00 L167.48,497.00 L168.48,497.00 L169.49,497.00 L170.50,497.00 L171.51,497.00 L172.52,497.00 L173.52,497.00 L174.53,497.00 L175.54,497.00 L176.55,497.00 L177.56,497.00 L178.57,497.00 L179.57,497.00 L180.58,497.00 L181.59,497.00 L182.60,497.00 L183.61,497.00 L184.61,497.00 L185.62,497.00 L186.63,497.00 L187.64,497.00 L188.65,497.00 L189.65,497.00 L190.66,497.00 L191.67,497.00 L192.68,497.00 L193.68,497.00 L194.69,497.00 L195.70,497.00 L196.71,497.00 L197.71,497.00 L198.72,496.99 L199.73,496.94 L200.74,496.88 L201.74,496.81 L202.75,496.72 L203.75,496.62 L204.75,496.51 L205.75,496.38 L206.75,496.25 L207.75,496.11 L208.74,495.94 L209.73,495.74 L210.72,495.54 L211.70,495.31 L212.69,495.09 L213.67,494.86 L214.65,494.63 L215.63,494.40 L216.61,494.16 L217.59,493.92 L218.57,493.68 L219.55,493.42 L220.52,493.17 L221.50,492.90 L222.47,492.64 L223.44,492.36 L224.41,492.08 L225.38,491.80 L226.34,491.50 L227.30,491.20 L228.26,490.90 L229.21,490.58 L230.16,490.24 L231.10,489.90 L232.05,489.55 L232.99,489.18 L233.93,488.81 L234.87,488.44 L235.80,488.06 L236.74,487.68 L237.67,487.30 L238.61,486.91 L239.54,486.53 L240.47,486.15 L241.41,485.77 L242.34,485.40 L243.28,485.02 L244.21,484.63 L245.14,484.24 L246.07,483.86 L247.00,483.47 L247.93,483.07 L248.86,482.68 L249.79,482.29 L250.72,481.91 L251.65,481.52 L252.58,481.14 L253.52,480.76 L254.45,480.39 L255.39,480.02 L256.33,479.65 L257.27,479.28 L258.21,478.92 L259.15,478.56 L260.09,478.20 L261.03,477.84 L261.97,477.48 L262.92,477.12 L263.86,476.76 L264.80,476.41 L265.75,476.05 L266.69,475.69 L267.63,475.34 L268.57,474.98 L269.52,474.62 L270.46,474.27 L271.40,473.91 L272.35,473.55 L273.29,473.20 L274.23,472.84 L275.18,472.49 L276.12,472.14 L277.07,471.79 L278.02,471.45 L278.97,471.11 L279.91,470.77 L280.87,470.44 L281.82,470.11 L282.77,469.78 L283.72,469.45 L284.68,469.12 L285.63,468.80 L286.59,468.48 L287.54,468.16 L288.50,467.84 L289.46,467.53 L290.42,467.22 L291.38,466.91 L292.34,466.60 L293.30,466.30" stroke="#00a651" stroke-dasharray="2.1 4.85"/>
<path d="M107.50,481.80 L108.17,481.60 L108.84,481.39 L109.51,481.18 L110.18,480.97 L110.85,480.76 L111.52,480.55 L112.18,480.33 L112.85,480.11 L113.51,479.89 L114.18,479.67 L114.84,479.45 L115.51,479.22 L116.17,478.99 L116.83,478.76 L117.49,478.53 L118.15,478.30 L118.82,478.07 L119.48,477.84 L120.14,477.61 L120.81,477.37 L121.47,477.14 L122.13,476.90 L122.78,476.65 L123.44,476.40 L124.09,476.14 L124.74,475.88 L125.38,475.61 L126.02,475.33 L126.66,475.05 L127.29,474.76 L127.93,474.45 L128.56,474.15 L129.19,473.83 L129.81,473.51 L130.44,473.18 L131.06,472.84 L131.67,472.50 L132.28,472.15 L132.89,471.79 L133.49,471.43 L134.08,471.06 L134.66,470.69 L135.25,470.31 L135.82,469.92 L136.40,469.52 L136.98,469.11 L137.55,468.69 L138.11,468.27 L138.67,467.84 L139.23,467.40 L139.78,466.95 L140.32,466.50 L140.85,466.04 L141.37,465.57 L141.88,465.10 L142.38,464.62 L142.87,464.13 L143.35,463.64 L143.83,463.13 L144.30,462.62 L144.76,462.09 L145.22,461.56 L145.67,461.02 L146.12,460.48 L146.56,459.92 L146.99,459.37 L147.42,458.80 L147.85,458.24 L148.27,457.67 L148.68,457.09 L149.09,456.52 L149.49,455.94 L149.88,455.36 L150.27,454.79 L150.66,454.21 L151.04,453.63 L151.42,453.04 L151.79,452.45 L152.16,451.86 L152.53,451.26 L152.89,450.66 L153.25,450.05 L153.60,449.45 L153.95,448.84 L154.30,448.22 L154.64,447.61 L154.98,446.99 L155.31,446.37 L155.65,445.75 L155.98,445.13 L156.30,444.51 L156.62,443.88 L156.94,443.25 L157.26,442.63 L157.57,442.00 L157.88,441.37 L158.18,440.74 L158.48,440.11 L158.79,439.48 L159.08,438.85 L159.38,438.22 L159.67,437.58 L159.96,436.95 L160.25,436.31 L160.54,435.67 L160.83,435.03 L161.11,434.39 L161.39,433.74 L161.67,433.10 L161.94,432.45 L162.22,431.80 L162.49,431.15 L162.76,430.50 L163.02,429.85 L163.28,429.20 L163.55,428.55 L163.80,427.89 L164.06,427.24 L164.31,426.59 L164.56,425.93 L164.81,425.27 L165.05,424.62 L165.29,423.96 L165.53,423.30 L165.77,422.64 L166.00,421.98 L166.23,421.33 L166.46,420.66 L166.68,420.00 L166.90,419.34 L167.12,418.67 L167.33,418.01 L167.54,417.34 L167.75,416.67 L167.96,416.01 L168.17,415.34 L168.37,414.67 L168.57,413.99 L168.77,413.32 L168.97,412.65 L169.17,411.98 L169.36,411.30 L169.55,410.63 L169.75,409.95 L169.94,409.28 L170.13,408.60 L170.32,407.93 L170.51,407.25 L170.70,406.58 L170.89,405.90 L171.08,405.22 L171.27,404.55 L171.47,403.87 L171.66,403.20 L171.85,402.52 L172.04,401.85 L172.23,401.18 L172.43,400.50 L172.62,399.83 L172.81,399.15 L173.00,398.48 L173.19,397.81 L173.38,397.13 L173.57,396.45 L173.76,395.78 L173.94,395.10 L174.13,394.43 L174.32,393.75 L174.50,393.08 L174.69,392.40 L174.88,391.73 L175.06,391.05 L175.25,390.38 L175.44,389.70 L175.63,389.03 L175.83,388.35 L176.02,387.68 L176.22,387.01 L176.42,386.34 L176.62,385.66 L176.81,384.99 L177.00,384.31 L177.19,383.63 L177.38,382.95 L177.57,382.27 L177.76,381.59 L177.95,380.91 L178.15,380.23 L178.36,379.56 L178.57,378.89 L178.79,378.23 L179.02,377.57 L179.26,376.92 L179.52,376.28 L179.78,375.64 L180.07,374.99 L180.39,374.33 L180.75,373.73 L181.18,373.22 L181.80,372.75 L182.35,372.64 L182.80,373.13 L183.17,373.88 L183.42,374.53 L183.63,375.17 L183.82,375.84 L183.98,376.51 L184.13,377.20 L184.26,377.90 L184.39,378.61 L184.51,379.31 L184.63,380.02 L184.76,380.72 L184.90,381.41 L185.05,382.09 L185.19,382.78 L185.34,383.46 L185.48,384.15 L185.63,384.84 L185.77,385.52 L185.91,386.21 L186.06,386.89 L186.20,387.58 L186.34,388.27 L186.48,388.95 L186.62,389.64 L186.75,390.33 L186.89,391.02 L187.02,391.70 L187.16,392.39 L187.29,393.08 L187.42,393.77 L187.56,394.46 L187.69,395.14 L187.82,395.83 L187.95,396.52 L188.07,397.21 L188.20,397.90 L188.32,398.59 L188.44,399.28 L188.56,399.97 L188.68,400.66 L188.78,401.35 L188.88,402.05 L188.97,402.75 L189.07,403.44 L189.17,404.13 L189.30,404.82 L189.48,405.67 L189.69,406.20 L189.91,405.80 L190.12,404.94 L190.28,404.22 L190.41,403.53 L190.53,402.84 L190.63,402.14 L190.72,401.45 L190.81,400.75 L190.89,400.06 L190.97,399.36 L191.04,398.66 L191.11,397.97 L191.18,397.27 L191.24,396.57 L191.31,395.87 L191.37,395.17 L191.42,394.47 L191.48,393.78 L191.53,393.08 L191.58,392.38 L191.63,391.68 L191.68,390.98 L191.72,390.28 L191.76,389.58 L191.80,388.88 L191.84,388.18 L191.88,387.48 L191.92,386.78 L191.95,386.08 L191.99,385.38 L192.03,384.68 L192.06,383.98 L192.10,383.28 L192.14,382.58 L192.17,381.88 L192.21,381.18 L192.25,380.48 L192.29,379.78 L192.33,379.08 L192.37,378.38 L192.41,377.69 L192.45,376.99 L192.49,376.29 L192.53,375.59 L192.57,374.89 L192.61,374.19 L192.65,373.49 L192.69,372.79 L192.72,372.09 L192.76,371.39 L192.80,370.69 L192.83,369.99 L192.87,369.29 L192.90,368.59 L192.93,367.89 L192.96,367.19 L193.00,366.49 L193.03,365.79 L193.06,365.09 L193.09,364.39 L193.12,363.69 L193.16,362.99 L193.19,362.29 L193.22,361.59 L193.25,360.89 L193.28,360.19 L193.31,359.49 L193.35,358.79 L193.38,358.09 L193.42,357.39 L193.45,356.69 L193.49,355.99 L193.52,355.29 L193.56,354.59 L193.59,353.89 L193.63,353.19 L193.66,352.49 L193.69,351.79 L193.72,351.09 L193.75,350.39 L193.78,349.69 L193.80,348.99 L193.82,348.29 L193.85,347.59 L193.87,346.89 L193.89,346.19 L193.91,345.48 L193.93,344.78 L193.95,344.08 L193.97,343.38 L193.99,342.68 L194.01,341.98 L194.03,341.28 L194.04,340.58 L194.06,339.88 L194.08,339.18 L194.09,338.48 L194.11,337.78 L194.13,337.08 L194.14,336.38 L194.16,335.68 L194.17,334.98 L194.19,334.28 L194.20,333.57 L194.22,332.87 L194.23,332.17 L194.25,331.47 L194.26,330.77 L194.28,330.07 L194.29,329.37 L194.31,328.67 L194.32,327.97 L194.34,327.27 L194.35,326.57 L194.36,325.87 L194.38,325.17 L194.39,324.47 L194.40,323.77 L194.41,323.07 L194.43,322.36 L194.44,321.66 L194.45,320.96 L194.46,320.26 L194.48,319.56 L194.49,318.86 L194.50,318.16 L194.51,317.46 L194.52,316.76 L194.54,316.06 L194.55,315.36 L194.56,314.66 L194.57,313.96 L194.58,313.26 L194.59,312.55 L194.60,311.85 L194.62,311.15 L194.63,310.45 L194.64,309.75 L194.65,309.05 L194.66,308.35 L194.67,307.65 L194.68,306.95 L194.70,306.25 L194.71,305.55 L194.72,304.85 L194.73,304.15 L194.74,303.45 L194.75,302.75 L194.76,302.04 L194.78,301.34 L194.79,300.64 L194.80,299.94 L194.81,299.24 L194.83,298.54 L194.84,297.84 L194.85,297.14 L194.86,296.44 L194.87,295.74 L194.89,295.04 L194.90,294.34 L194.91,293.64 L194.92,292.94 L194.94,292.23 L194.95,291.53 L194.96,290.83 L194.97,290.13 L194.98,289.43 L195.00,288.73 L195.01,288.03 L195.02,287.33 L195.03,286.63 L195.05,285.93 L195.06,285.23 L195.07,284.53 L195.08,283.83 L195.10,283.13 L195.11,282.43 L195.12,281.72 L195.13,281.02 L195.15,280.32 L195.16,279.62 L195.17,278.92 L195.18,278.22 L195.20,277.52 L195.21,276.82 L195.22,276.12 L195.23,275.42 L195.24,274.72 L195.26,274.02 L195.27,273.32 L195.28,272.62 L195.29,271.92 L195.31,271.21 L195.32,270.51 L195.33,269.81 L195.34,269.11 L195.35,268.41 L195.37,267.71 L195.38,267.01 L195.39,266.31 L195.40,265.61 L195.42,264.91 L195.43,264.21 L195.44,263.51 L195.45,262.81 L195.46,262.11 L195.48,261.41 L195.49,260.70 L195.50,260.00 L195.51,259.30 L195.52,258.60 L195.54,257.90 L195.55,257.20 L195.56,256.50 L195.57,255.80 L195.58,255.10 L195.59,254.40 L195.60,253.70 L195.62,253.00 L195.63,252.30 L195.64,251.60 L195.65,250.89 L195.66,250.19 L195.67,249.49 L195.68,248.79 L195.69,248.09 L195.70,247.39 L195.71,246.69 L195.72,245.99 L195.73,245.29 L195.75,244.59 L195.76,243.89 L195.77,243.19 L195.78,242.49 L195.79,241.79 L195.80,241.08 L195.81,240.38 L195.82,239.68 L195.83,238.98 L195.84,238.28 L195.85,237.58 L195.86,236.88 L195.87,236.18 L195.88,235.48 L195.89,234.78 L195.90,234.08 L195.91,233.38 L195.92,232.68 L195.93,231.98 L195.95,231.27 L195.96,230.57 L195.97,229.87 L195.98,229.17 L195.99,228.47 L196.00,227.77 L196.01,227.07 L196.02,226.37 L196.03,225.67 L196.04,224.97 L196.05,224.27 L196.06,223.57 L196.08,222.87 L196.09,222.17 L196.10,221.46 L196.11,220.76 L196.12,220.06 L196.13,219.36 L196.14,218.66 L196.16,217.96 L196.17,217.26 L196.18,216.56 L196.19,215.86 L196.20,215.16 L196.22,214.46 L196.23,213.76 L196.24,213.06 L196.25,212.36 L196.27,211.66 L196.28,210.95 L196.29,210.25 L196.31,209.55 L196.32,208.85 L196.33,208.15 L196.35,207.45 L196.36,206.75 L196.37,206.05 L196.39,205.35 L196.40,204.65 L196.42,203.95 L196.43,203.25 L196.45,202.55 L196.46,201.85 L196.48,201.15 L196.49,200.45 L196.51,199.74 L196.52,199.04 L196.54,198.34 L196.55,197.64 L196.57,196.94 L196.59,196.24 L196.61,195.54 L196.63,194.84 L196.64,194.14 L196.66,193.44 L196.68,192.74 L196.70,192.04 L196.72,191.34 L196.74,190.64 L196.77,189.94 L196.79,189.24 L196.81,188.54 L196.83,187.84 L196.85,187.14 L196.87,186.44 L196.90,185.73 L196.92,185.03 L196.94,184.33 L196.96,183.63 L196.98,182.93 L197.01,182.23 L197.03,181.53 L197.05,180.83 L197.08,180.13 L197.10,179.43 L197.12,178.73 L197.14,178.03 L197.17,177.33 L197.19,176.63 L197.21,175.93 L197.23,175.23 L197.25,174.53 L197.28,173.83 L197.30,173.13 L197.32,172.43 L197.34,171.73 L197.36,171.03 L197.38,170.32 L197.40,169.62 L197.42,168.92 L197.44,168.22 L197.46,167.52 L197.48,166.82 L197.50,166.12 L197.51,165.42 L197.53,164.72 L197.55,164.02 L197.57,163.32 L197.59,162.62 L197.60,161.92 L197.62,161.22 L197.64,160.52 L197.65,159.82 L197.67,159.12 L197.69,158.42 L197.70,157.71 L197.72,157.01 L197.73,156.31 L197.75,155.61 L197.77,154.91 L197.78,154.21 L197.80,153.51 L197.81,152.81 L197.83,152.11 L197.84,151.41 L197.86,150.71 L197.88,150.01 L197.89,149.31 L197.91,148.61 L197.92,147.91 L197.94,147.21 L197.95,146.50 L197.97,145.80 L197.98,145.10 L198.00,144.40 L198.01,143.70 L198.03,143.00 L198.04,142.30 L198.06,141.60 L198.07,140.90 L198.09,140.20 L198.10,139.50 L198.12,138.80 L198.14,138.10 L198.15,137.40 L198.17,136.70 L198.18,136.00 L198.20,135.30 L198.22,134.59 L198.23,133.89 L198.25,133.19 L198.26,132.49 L198.28,131.79 L198.30,131.09 L198.32,130.39 L198.33,129.69 L198.35,128.99 L198.37,128.29 L198.39,127.59 L198.40,126.89 L198.42,126.19 L198.44,125.49 L198.46,124.79 L198.47,124.09 L198.49,123.39 L198.51,122.68 L198.53,121.98 L198.55,121.28 L198.56,120.58 L198.58,119.88 L198.60,119.18 L198.62,118.48 L198.64,117.78 L198.65,117.08 L198.67,116.38 L198.69,115.68 L198.71,114.98 L198.73,114.28 L198.75,113.58 L198.77,112.88 L198.78,112.18 L198.80,111.48 L198.82,110.78 L198.84,110.07 L198.86,109.37 L198.88,108.67 L198.90,107.97 L198.92,107.27 L198.94,106.57 L198.96,105.87 L198.98,105.17 L199.00,104.47 L199.02,103.77 L199.04,103.07 L199.06,102.37 L199.08,101.67 L199.11,100.97 L199.13,100.27 L199.15,99.57 L199.17,98.87 L199.19,98.17 L199.22,97.47 L199.24,96.77 L199.26,96.07 L199.28,95.36 L199.31,94.66 L199.33,93.96 L199.36,93.26 L199.38,92.56 L199.40,91.86 L199.43,91.16 L199.46,90.46 L199.48,89.76 L199.51,89.06 L199.54,88.36 L199.56,87.66 L199.59,86.96 L199.62,86.26 L199.65,85.56 L199.68,84.86 L199.71,84.16 L199.74,83.46 L199.77,82.76 L199.80,82.06 L199.83,81.36 L199.87,80.66 L199.90,79.96 L199.93,79.26 L199.96,78.56 L200.00,77.86 L200.03,77.16 L200.06,76.46 L200.10,75.76 L200.13,75.06 L200.16,74.36 L200.20,73.66 L200.23,72.96 L200.26,72.26 L200.30,71.56 L200.33,70.86 L200.37,70.16 L200.40,69.46 L200.43,68.76 L200.47,68.06 L200.50,67.36 L200.54,66.66 L200.57,65.96 L200.60,65.26 L200.63,64.56 L200.67,63.86 L200.70,63.16 L200.73,62.46 L200.77,61.76 L200.80,61.06 L200.83,60.36 L200.86,59.66 L200.89,58.96 L200.93,58.26 L200.96,57.56 L200.99,56.86 L201.03,56.16 L201.06,55.46 L201.09,54.76 L201.13,54.06 L201.16,53.36 L201.20,52.66 L201.23,51.96 L201.27,51.26 L201.30,50.56 L201.34,49.86 L201.37,49.16 L201.41,48.46 L201.45,47.76 L201.49,47.06 L201.53,46.36 L201.57,45.66 L201.61,44.96 L201.65,44.26 L201.69,43.56 L201.73,42.86 L201.77,42.16 L201.82,41.46 L201.86,40.76 L201.91,40.07 L201.95,39.37 L202.00,38.67 L202.05,37.97 L202.10,37.27 L202.15,36.57 L202.19,35.87 L202.24,35.17 L202.29,34.46 L202.34,33.76 L202.40,33.06 L202.45,32.36 L202.51,31.66 L202.57,30.96 L202.63,30.26 L202.70,29.56 L202.77,28.87 L202.84,28.17 L202.92,27.47 L203.00,26.78 L203.08,26.09 L203.17,25.40 L203.27,24.71 L203.38,23.98 L203.52,23.12 L203.68,22.21 L203.86,21.36 L204.05,20.64 L204.24,20.16 L204.42,20.00 L204.60,20.22 L204.81,20.75 L205.02,21.49 L205.21,22.35 L205.39,23.25 L205.54,24.09 L205.64,24.80 L205.73,25.49 L205.82,26.18 L205.89,26.87 L205.97,27.57 L206.03,28.26 L206.10,28.96 L206.16,29.66 L206.21,30.36 L206.26,31.06 L206.31,31.76 L206.36,32.46 L206.41,33.16 L206.46,33.87 L206.50,34.57 L206.55,35.27 L206.60,35.97 L206.65,36.68 L206.70,37.38 L206.75,38.08 L206.81,38.78 L206.86,39.47 L206.92,40.17 L206.98,40.87 L207.03,41.57 L207.09,42.27 L207.15,42.97 L207.20,43.66 L207.26,44.36 L207.31,45.06 L207.37,45.76 L207.43,46.46 L207.48,47.16 L207.54,47.86 L207.59,48.55 L207.65,49.25 L207.70,49.95 L207.76,50.65 L207.81,51.35 L207.87,52.05 L207.92,52.75 L207.98,53.45 L208.03,54.14 L208.09,54.84 L208.14,55.54 L208.20,56.24 L208.25,56.94 L208.31,57.64 L208.36,58.34 L208.42,59.03 L208.47,59.73 L208.53,60.43 L208.59,61.13 L208.64,61.83 L208.70,62.53 L208.75,63.23 L208.81,63.92 L208.87,64.62 L208.93,65.32 L208.98,66.02 L209.04,66.72 L209.10,67.42 L209.16,68.11 L209.22,68.81 L209.28,69.51 L209.34,70.21 L209.41,70.91 L209.47,71.60 L209.53,72.30 L209.60,73.00 L209.66,73.70 L209.73,74.40 L209.79,75.09 L209.86,75.79 L209.92,76.49 L209.99,77.19 L210.05,77.89 L210.12,78.58 L210.18,79.28 L210.24,79.98 L210.31,80.68 L210.37,81.37 L210.43,82.07 L210.49,82.77 L210.56,83.47 L210.62,84.17 L210.67,84.87 L210.73,85.56 L210.79,86.26 L210.84,86.96 L210.90,87.66 L210.95,88.36 L211.00,89.06 L211.05,89.76 L211.10,90.45 L211.15,91.15 L211.20,91.85 L211.25,92.55 L211.30,93.25 L211.34,93.95 L211.39,94.65 L211.43,95.35 L211.48,96.05 L211.52,96.75 L211.57,97.45 L211.61,98.14 L211.65,98.84 L211.70,99.54 L211.74,100.24 L211.78,100.94 L211.82,101.64 L211.86,102.34 L211.90,103.04 L211.94,103.74 L211.98,104.44 L212.02,105.14 L212.07,105.84 L212.11,106.54 L212.15,107.24 L212.19,107.94 L212.23,108.64 L212.27,109.34 L212.31,110.04 L212.35,110.74 L212.39,111.44 L212.43,112.14 L212.47,112.84 L212.51,113.54 L212.55,114.24 L212.59,114.94 L212.63,115.64 L212.67,116.34 L212.72,117.04 L212.76,117.73 L212.80,118.43 L212.85,119.13 L212.89,119.83 L212.93,120.53 L212.98,121.23 L213.02,121.93 L213.07,122.63 L213.11,123.33 L213.16,124.03 L213.20,124.73 L213.25,125.43 L213.29,126.13 L213.33,126.83 L213.38,127.53 L213.42,128.23 L213.47,128.92 L213.52,129.62 L213.56,130.32 L213.61,131.02 L213.65,131.72 L213.70,132.42 L213.74,133.12 L213.79,133.82 L213.83,134.52 L213.88,135.22 L213.93,135.92 L213.97,136.62 L214.02,137.32 L214.07,138.02 L214.11,138.71 L214.16,139.41 L214.21,140.11 L214.25,140.81 L214.30,141.51 L214.35,142.21 L214.40,142.91 L214.45,143.61 L214.50,144.31 L214.54,145.01 L214.59,145.71 L214.64,146.41 L214.69,147.10 L214.74,147.80 L214.79,148.50 L214.84,149.20 L214.89,149.90 L214.94,150.60 L214.99,151.30 L215.04,152.00 L215.09,152.70 L215.14,153.40 L215.19,154.09 L215.23,154.79 L215.28,155.49 L215.33,156.19 L215.38,156.89 L215.43,157.59 L215.48,158.29 L215.53,158.99 L215.58,159.69 L215.63,160.39 L215.68,161.09 L215.72,161.78 L215.77,162.48 L215.82,163.18 L215.87,163.88 L215.91,164.58 L215.96,165.28 L216.01,165.98 L216.06,166.68 L216.10,167.38 L216.15,168.08 L216.20,168.78 L216.24,169.48 L216.29,170.17 L216.34,170.87 L216.39,171.57 L216.43,172.27 L216.48,172.97 L216.53,173.67 L216.58,174.37 L216.62,175.07 L216.67,175.77 L216.72,176.47 L216.77,177.17 L216.82,177.87 L216.87,178.56 L216.92,179.26 L216.97,179.96 L217.02,180.66 L217.07,181.36 L217.12,182.06 L217.17,182.76 L217.22,183.46 L217.27,184.16 L217.32,184.86 L217.37,185.55 L217.42,186.25 L217.48,186.95 L217.53,187.65 L217.58,188.35 L217.63,189.05 L217.68,189.75 L217.73,190.45 L217.79,191.15 L217.84,191.84 L217.89,192.54 L217.95,193.24 L218.00,193.94 L218.06,194.64 L218.11,195.34 L218.17,196.04 L218.23,196.73 L218.28,197.43 L218.34,198.13 L218.40,198.83 L218.46,199.53 L218.52,200.23 L218.58,200.92 L218.64,201.62 L218.71,202.32 L218.77,203.02 L218.83,203.71 L218.90,204.41 L218.97,205.11 L219.03,205.81 L219.10,206.51 L219.17,207.20 L219.24,207.90 L219.31,208.60 L219.38,209.29 L219.45,209.99 L219.52,210.69 L219.59,211.39 L219.66,212.08 L219.73,212.78 L219.81,213.48 L219.88,214.18 L219.95,214.87 L220.02,215.57 L220.10,216.27 L220.17,216.96 L220.25,217.66 L220.32,218.36 L220.39,219.05 L220.47,219.75 L220.54,220.45 L220.62,221.14 L220.69,221.84 L220.76,222.54 L220.84,223.23 L220.92,223.93 L220.99,224.63 L221.07,225.32 L221.14,226.02 L221.22,226.72 L221.30,227.41 L221.38,228.11 L221.46,228.81 L221.53,229.50 L221.61,230.20 L221.69,230.90 L221.77,231.59 L221.85,232.29 L221.93,232.98 L222.01,233.68 L222.09,234.38 L222.17,235.07 L222.25,235.77 L222.33,236.47 L222.41,237.16 L222.49,237.86 L222.57,238.55 L222.65,239.25 L222.73,239.95 L222.82,240.64 L222.90,241.34 L222.98,242.03 L223.06,242.73 L223.14,243.43 L223.22,244.12 L223.30,244.82 L223.38,245.52 L223.46,246.21 L223.54,246.91 L223.62,247.60 L223.70,248.30 L223.78,249.00 L223.86,249.69 L223.94,250.39 L224.02,251.09 L224.10,251.78 L224.18,252.48 L224.26,253.17 L224.34,253.87 L224.42,254.57 L224.49,255.26 L224.57,255.96 L224.65,256.66 L224.73,257.35 L224.81,258.05 L224.89,258.75 L224.97,259.44 L225.05,260.14 L225.13,260.83 L225.21,261.53 L225.29,262.23 L225.37,262.92 L225.45,263.62 L225.53,264.32 L225.61,265.01 L225.70,265.71 L225.78,266.40 L225.86,267.10 L225.95,267.79 L226.03,268.49 L226.12,269.19 L226.20,269.88 L226.29,270.58 L226.38,271.27 L226.47,271.97 L226.56,272.66 L226.65,273.36 L226.74,274.05 L226.82,274.75 L226.91,275.44 L227.00,276.14 L227.09,276.83 L227.18,277.53 L227.27,278.23 L227.36,278.92 L227.44,279.62 L227.53,280.32 L227.62,281.01 L227.71,281.71 L227.80,282.40 L227.89,283.10 L227.99,283.80 L228.08,284.49 L228.17,285.19 L228.27,285.88 L228.36,286.58 L228.46,287.27 L228.56,287.97 L228.66,288.66 L228.76,289.36 L228.86,290.05 L228.97,290.74 L229.08,291.43 L229.19,292.13 L229.30,292.82 L229.41,293.51 L229.52,294.20 L229.64,294.89 L229.76,295.58 L229.88,296.26 L230.01,296.95 L230.14,297.64 L230.27,298.32 L230.40,299.01 L230.55,299.69 L230.70,300.37 L230.87,301.05 L231.04,301.73 L231.22,302.41 L231.40,303.09 L231.58,303.77 L231.77,304.44 L231.95,305.12 L232.14,305.80 L232.32,306.48 L232.51,307.15 L232.68,307.83 L232.85,308.51 L233.02,309.19 L233.19,309.87 L233.35,310.55 L233.52,311.23 L233.68,311.92 L233.85,312.60 L234.01,313.28 L234.17,313.96 L234.34,314.64 L234.50,315.32 L234.66,316.00 L234.83,316.69 L234.99,317.37 L235.16,318.05 L235.32,318.73 L235.49,319.41 L235.66,320.09 L235.83,320.77 L236.00,321.45 L236.17,322.13 L236.33,322.81 L236.50,323.49 L236.67,324.17 L236.84,324.85 L237.01,325.53 L237.19,326.21 L237.36,326.89 L237.53,327.57 L237.70,328.25 L237.87,328.93 L238.05,329.61 L238.22,330.29 L238.39,330.96 L238.56,331.64 L238.74,332.32 L238.91,333.00 L239.08,333.68 L239.26,334.36 L239.43,335.04 L239.61,335.72 L239.78,336.40 L239.96,337.07 L240.13,337.75 L240.31,338.43 L240.48,339.11 L240.66,339.79 L240.84,340.47 L241.02,341.14 L241.20,341.82 L241.38,342.50 L241.56,343.17 L241.74,343.85 L241.93,344.53 L242.11,345.20 L242.29,345.88 L242.48,346.56 L242.66,347.23 L242.84,347.91 L243.03,348.59 L243.22,349.26 L243.40,349.94 L243.59,350.61 L243.78,351.29 L243.98,351.96 L244.17,352.63 L244.37,353.31 L244.57,353.98 L244.77,354.65 L244.97,355.32 L245.17,355.99 L245.38,356.66 L245.59,357.33 L245.80,357.99 L246.02,358.66 L246.24,359.33 L246.46,359.99 L246.68,360.66 L246.90,361.32 L247.13,361.99 L247.36,362.65 L247.58,363.31 L247.82,363.97 L248.05,364.63 L248.28,365.29 L248.52,365.95 L248.76,366.61 L248.99,367.27 L249.23,367.93 L249.47,368.59 L249.72,369.25 L249.96,369.91 L250.20,370.56 L250.45,371.22 L250.70,371.88 L250.95,372.53 L251.20,373.19 L251.46,373.84 L251.71,374.49 L251.97,375.15 L252.23,375.80 L252.50,376.44 L252.76,377.09 L253.03,377.74 L253.31,378.38 L253.58,379.03 L253.86,379.67 L254.14,380.31 L254.43,380.95 L254.71,381.59 L255.00,382.23 L255.30,382.87 L255.59,383.50 L255.90,384.14 L256.20,384.77 L256.51,385.40 L256.83,386.03 L257.15,386.65 L257.48,387.27 L257.81,387.88 L258.15,388.49 L258.50,389.10 L258.85,389.70 L259.22,390.29 L259.59,390.89 L259.97,391.48 L260.36,392.06 L260.75,392.64 L261.15,393.22 L261.55,393.80 L261.96,394.37 L262.37,394.94 L262.78,395.51 L263.20,396.08 L263.61,396.64 L264.03,397.20 L264.45,397.76 L264.87,398.32 L265.30,398.88 L265.74,399.43 L266.17,399.98 L266.61,400.53 L267.06,401.07 L267.50,401.61 L267.96,402.15 L268.41,402.68 L268.87,403.21 L269.34,403.73 L269.81,404.25 L270.28,404.76 L270.76,405.27 L271.25,405.78 L271.74,406.28 L272.23,406.77 L272.73,407.27 L273.24,407.76 L273.75,408.24 L274.26,408.72 L274.78,409.19 L275.31,409.66 L275.83,410.12 L276.36,410.58 L276.89,411.03 L277.43,411.47 L277.98,411.91 L278.53,412.35 L279.08,412.78 L279.64,413.21 L280.20,413.63 L280.77,414.04 L281.34,414.46 L281.91,414.86 L282.48,415.26 L283.06,415.66 L283.64,416.05 L284.22,416.44 L284.81,416.82 L285.40,417.20 L285.99,417.57 L286.59,417.94 L287.19,418.31 L287.79,418.67 L288.39,419.03 L289.00,419.39 L289.60,419.74 L290.21,420.09 L290.82,420.43 L291.43,420.77 L292.04,421.11 L292.66,421.44 L293.28,421.77 L293.90,422.10" stroke="#00a651"/>
<path d="M293.90,366.00 L295.34,365.54 L296.77,365.08 L298.20,364.61 L299.63,364.13 L301.06,363.64 L302.48,363.15 L303.90,362.65 L305.32,362.12 L306.72,361.58 L308.13,361.03 L309.54,360.50 L310.96,359.99 L312.38,359.51 L313.82,359.04 L315.26,358.59 L316.70,358.14 L318.15,357.72 L319.61,357.32 L321.07,356.96 L322.53,356.63 L324.02,356.36 L325.53,356.13 L327.04,355.92 L328.54,355.71 L330.03,355.47 L331.48,355.17 L332.90,354.78 L334.26,354.15 L335.59,353.35 L336.91,352.50 L338.24,351.69 L339.58,351.03 L340.97,350.62 L342.42,350.43 L343.90,350.30 L345.41,350.20 L346.94,350.10 L348.46,350.00 L349.98,349.88 L351.47,349.70 L352.96,349.48 L354.44,349.21 L355.92,348.91 L357.40,348.60 L358.88,348.28 L360.36,347.98 L361.84,347.69 L363.31,347.40 L364.79,347.10 L366.27,346.81 L367.75,346.51 L369.23,346.22 L370.71,345.93 L372.19,345.66 L373.67,345.38 L375.15,345.11 L376.64,344.84 L378.12,344.57 L379.60,344.29 L381.08,344.02 L382.56,343.73 L384.04,343.45 L385.52,343.17 L387.00,342.88 L388.49,342.61 L389.97,342.34 L391.45,342.07 L392.94,341.82 L394.42,341.56 L395.91,341.31 L397.40,341.07 L398.88,340.82 L400.37,340.57 L401.86,340.32 L403.34,340.06 L404.83,339.81 L406.31,339.56 L407.80,339.31 L409.29,339.07 L410.78,338.84 L412.27,338.61 L413.76,338.39 L415.25,338.17 L416.74,337.95 L418.23,337.74 L419.73,337.52 L421.22,337.32 L422.71,337.11 L424.21,336.91 L425.70,336.72 L427.19,336.52 L428.69,336.31 L430.18,336.10 L431.67,335.88 L433.16,335.65 L434.65,335.42 L436.14,335.19 L437.63,334.95 L439.12,334.72 L440.61,334.50 L442.10,334.27 L443.59,334.05 L445.08,333.84 L446.57,333.62 L448.07,333.41 L449.56,333.20 L451.05,332.99 L452.54,332.78 L454.04,332.58 L455.53,332.38 L457.02,332.18 L458.52,331.98 L460.01,331.79 L461.51,331.61 L463.01,331.42 L464.50,331.24 L466.00,331.07 L467.50,330.89 L468.99,330.72 L470.49,330.54 L471.99,330.37 L473.49,330.20 L474.98,330.04 L476.48,329.87 L477.98,329.70 L479.48,329.52 L480.97,329.35 L482.47,329.16 L483.97,328.98 L485.46,328.79 L486.96,328.60 L488.45,328.42 L489.95,328.24 L491.45,328.06 L492.94,327.88 L494.44,327.71 L495.94,327.54 L497.44,327.37 L498.93,327.20 L500.43,327.04 L501.93,326.89 L503.43,326.74 L504.93,326.59 L506.43,326.44 L507.93,326.30 L509.43,326.15 L510.93,326.01 L512.43,325.87 L513.93,325.73 L515.44,325.60 L516.94,325.46 L518.44,325.33 L519.94,325.20 L521.44,325.06 L522.94,324.93 L524.44,324.80 L525.95,324.67 L527.45,324.54 L528.95,324.42 L530.45,324.30 L531.95,324.18 L533.46,324.06 L534.96,323.94 L536.46,323.83 L537.97,323.71 L539.47,323.60 L540.97,323.48 L542.47,323.36 L543.98,323.24 L545.48,323.12 L546.98,323.00 L548.48,322.89 L549.99,322.77 L551.49,322.66 L552.99,322.55 L554.50,322.45 L556.00,322.34 L557.50,322.24 L559.01,322.14 L560.51,322.03 L562.02,321.94 L563.52,321.84 L565.02,321.74 L566.53,321.65 L568.03,321.55 L569.54,321.46 L571.04,321.38 L572.55,321.29 L574.05,321.21 L575.56,321.12 L577.06,321.04 L578.57,320.97 L580.07,320.89 L581.58,320.82 L583.08,320.75 L584.59,320.69 L586.10,320.62 L587.60,320.56 L589.11,320.50 L590.61,320.44 L592.12,320.38 L593.63,320.32 L595.13,320.26 L596.64,320.21 L598.15,320.16 L599.65,320.11 L601.16,320.06 L602.66,320.01 L604.17,319.96 L605.68,319.92 L607.18,319.88 L608.69,319.84 L610.20,319.80 L611.70,319.77 L613.21,319.73 L614.72,319.70 L616.23,319.67 L617.73,319.64 L619.24,319.62 L620.75,319.60 L622.25,319.58 L623.76,319.57 L625.27,319.55 L626.78,319.54 L628.28,319.53 L629.79,319.52 L631.30,319.52 L632.80,319.51 L634.31,319.51 L635.82,319.50 L637.33,319.50 L638.83,319.50 L640.34,319.50 L641.85,319.50 L643.36,319.50 L644.86,319.50 L646.37,319.50 L647.88,319.51 L649.38,319.51 L650.89,319.51 L652.40,319.52 L653.91,319.53 L655.41,319.54 L656.92,319.55 L658.43,319.56 L659.94,319.57 L661.44,319.59 L662.95,319.61 L664.46,319.63 L665.96,319.66 L667.47,319.69 L668.98,319.72 L670.48,319.75 L671.99,319.78 L673.50,319.81 L675.01,319.85 L676.51,319.88 L678.02,319.92 L679.53,319.95 L681.03,319.99 L682.54,320.02 L684.05,320.06 L685.55,320.10 L687.06,320.13 L688.57,320.17 L690.07,320.20 L691.58,320.24 L693.09,320.28 L694.59,320.31 L696.10,320.35 L697.61,320.38 L699.11,320.42 L700.62,320.45 L702.13,320.48 L703.64,320.51 L705.14,320.54 L706.65,320.57 L708.16,320.60 L709.66,320.63 L711.17,320.65 L712.68,320.68 L714.18,320.71 L715.69,320.73 L717.20,320.76 L718.71,320.78 L720.21,320.80 L721.72,320.81 L723.23,320.83 L724.73,320.84 L726.24,320.86 L727.75,320.87 L729.26,320.87 L730.76,320.88 L732.27,320.89 L733.78,320.89 L735.29,320.90 L736.79,320.90 L738.30,320.90" stroke="#00a651" stroke-dasharray="10 10.07"/>
<path d="M293.50,330.30 L294.10,328.90 L294.74,327.52 L295.42,326.17 L296.13,324.85 L296.89,323.57 L297.71,322.33 L298.58,321.13 L299.51,319.96 L300.48,318.81 L301.48,317.67 L302.50,316.55 L303.54,315.44 L304.58,314.33 L305.61,313.21 L306.63,312.08 L307.62,310.94 L308.60,309.80 L309.58,308.65 L310.56,307.51 L311.54,306.37 L312.52,305.22 L313.50,304.08 L314.48,302.94 L315.47,301.80 L316.45,300.66 L317.44,299.52 L318.43,298.38 L319.43,297.25 L320.43,296.13 L321.43,295.00 L322.43,293.87 L323.42,292.74 L324.39,291.59 L325.35,290.43 L326.28,289.25 L327.20,288.05 L328.11,286.85 L329.02,285.65 L329.92,284.44 L330.82,283.23 L331.74,282.03 L332.66,280.84 L333.59,279.66 L334.53,278.48 L335.46,277.28 L336.40,276.09 L337.34,274.91 L338.30,273.73 L339.27,272.58 L340.26,271.45 L341.27,270.35 L342.32,269.29 L343.40,268.26 L344.52,267.27 L345.68,266.30 L346.85,265.35 L348.04,264.41 L349.23,263.48 L350.43,262.55 L351.61,261.61 L352.78,260.65 L353.94,259.69 L355.10,258.73 L356.25,257.76 L357.41,256.80 L358.57,255.84 L359.73,254.88 L360.90,253.92 L362.06,252.97 L363.24,252.02 L364.41,251.08 L365.59,250.14 L366.77,249.20 L367.95,248.27 L369.14,247.34 L370.33,246.41 L371.52,245.49 L372.72,244.58 L373.92,243.68 L375.13,242.78 L376.34,241.88 L377.56,240.99 L378.78,240.11 L380.01,239.23 L381.24,238.36 L382.47,237.50 L383.71,236.64 L384.96,235.80 L386.21,234.96 L387.46,234.12 L388.72,233.30 L389.99,232.48 L391.26,231.67 L392.53,230.86 L393.81,230.07 L395.11,229.29 L396.46,228.56 L397.85,227.86 L399.24,227.17 L400.61,226.47 L401.94,225.73 L403.18,224.93 L404.31,224.06 L405.31,223.04 L406.16,221.78 L406.95,220.40 L407.77,219.08 L408.69,217.97 L409.77,217.09 L410.96,216.29 L412.24,215.56 L413.60,214.88 L415.00,214.23 L416.43,213.60 L417.87,212.98 L419.30,212.35 L420.68,211.69 L422.02,210.99 L423.35,210.27 L424.67,209.56 L426.00,208.83 L427.32,208.11 L428.64,207.39 L429.97,206.68 L431.30,205.97 L432.63,205.27 L433.98,204.59 L435.32,203.91 L436.67,203.24 L438.02,202.57 L439.38,201.91 L440.74,201.26 L442.10,200.61 L443.47,199.98 L444.84,199.36 L446.22,198.75 L447.60,198.16 L448.99,197.58 L450.38,197.01 L451.78,196.45 L453.18,195.89 L454.59,195.35 L456.00,194.81 L457.41,194.27 L458.82,193.74 L460.23,193.22 L461.64,192.71 L463.06,192.20 L464.48,191.70 L465.91,191.20 L467.33,190.71 L468.75,190.22 L470.18,189.72 L471.60,189.23 L473.03,188.73 L474.45,188.24 L475.87,187.75 L477.30,187.26 L478.72,186.77 L480.15,186.28 L481.57,185.79 L483.00,185.31 L484.43,184.83 L485.86,184.36 L487.29,183.90 L488.73,183.43 L490.16,182.97 L491.60,182.51 L493.03,182.05 L494.46,181.57 L495.89,181.09 L497.31,180.60 L498.75,180.12 L500.18,179.64 L501.61,179.15 L503.03,178.63 L504.43,178.08 L505.80,177.49 L507.12,176.79 L508.40,175.96 L509.68,175.12 L510.98,174.38 L512.34,173.80 L513.73,173.30 L515.15,172.84 L516.59,172.41 L518.05,172.01 L519.52,171.63 L521.00,171.26 L522.48,170.89 L523.95,170.52 L525.41,170.12 L526.86,169.72 L528.31,169.31 L529.76,168.90 L531.21,168.49 L532.66,168.09 L534.11,167.68 L535.57,167.28 L537.02,166.89 L538.48,166.50 L539.94,166.12 L541.39,165.75 L542.86,165.39 L544.32,165.02 L545.78,164.67 L547.25,164.31 L548.71,163.96 L550.18,163.62 L551.65,163.29 L553.12,162.96 L554.59,162.64 L556.07,162.32 L557.54,162.02 L559.02,161.72 L560.49,161.43 L561.97,161.14 L563.45,160.86 L564.94,160.58 L566.42,160.31 L567.90,160.05 L569.39,159.79 L570.87,159.55 L572.36,159.31 L573.85,159.07 L575.34,158.85 L576.83,158.62 L578.32,158.40 L579.81,158.19 L581.30,157.98 L582.80,157.78 L584.29,157.59 L585.79,157.41 L587.29,157.24 L588.78,157.07 L590.28,156.92 L591.78,156.76 L593.28,156.61 L594.78,156.47 L596.28,156.33 L597.78,156.20 L599.28,156.07 L600.78,155.96 L602.29,155.85 L603.79,155.75 L605.29,155.66 L606.80,155.58 L608.30,155.50 L609.81,155.43 L611.31,155.37 L612.82,155.30 L614.32,155.24 L615.83,155.18 L617.33,155.11 L618.84,155.05 L620.34,154.99 L621.85,154.92 L623.36,154.86 L624.86,154.79 L626.37,154.73 L627.87,154.67 L629.38,154.62 L630.88,154.56 L632.39,154.51 L633.89,154.46 L635.40,154.42 L636.91,154.37 L638.41,154.33 L639.92,154.28 L641.42,154.23 L642.93,154.19 L644.43,154.14 L645.94,154.09 L647.45,154.03 L648.95,153.97 L650.46,153.91 L651.96,153.84 L653.47,153.78 L654.97,153.71 L656.48,153.65 L657.98,153.58 L659.49,153.53 L660.99,153.48 L662.50,153.44 L664.01,153.40 L665.51,153.38 L667.02,153.36 L668.53,153.34 L670.03,153.32 L671.54,153.29 L673.04,153.25 L674.55,153.20 L676.06,153.14 L677.56,153.07 L679.07,153.00 L680.57,152.93 L682.08,152.85 L683.58,152.77 L685.09,152.68 L686.58,152.56 L688.08,152.40 L689.57,152.19 L691.07,151.96 L692.55,151.72 L694.04,151.48 L695.52,151.21 L697.00,150.93 L698.48,150.63 L699.96,150.32 L701.42,149.99 L702.89,149.63 L704.35,149.26 L705.81,148.88 L707.27,148.51 L708.73,148.15 L710.20,147.80 L711.66,147.45 L713.12,147.08 L714.57,146.68 L716.01,146.21 L717.45,145.73 L718.89,145.29 L720.34,144.93 L721.82,144.68 L723.31,144.47 L724.81,144.28 L726.31,144.10 L727.81,143.90 L729.30,143.68 L730.79,143.45 L732.29,143.26 L733.78,143.13 L735.29,143.06 L736.79,143.02 L738.30,143.00" stroke="#00a651" stroke-dasharray="2.1 4.85"/>
<path d="M293.40,85.10 L293.73,86.05 L294.07,86.99 L294.40,87.94 L294.74,88.89 L295.08,89.83 L295.41,90.78 L295.75,91.72 L296.10,92.66 L296.44,93.61 L296.78,94.55 L297.13,95.49 L297.47,96.43 L297.82,97.38 L298.17,98.32 L298.52,99.26 L298.87,100.20 L299.22,101.14 L299.58,102.08 L299.93,103.01 L300.29,103.95 L300.65,104.89 L301.01,105.82 L301.37,106.76 L301.73,107.70 L302.09,108.63 L302.46,109.56 L302.82,110.50 L303.18,111.44 L303.54,112.38 L303.90,113.32 L304.26,114.26 L304.62,115.20 L304.98,116.14 L305.34,117.08 L305.70,118.02 L306.06,118.96 L306.43,119.90 L306.79,120.84 L307.16,121.78 L307.53,122.72 L307.90,123.65 L308.27,124.59 L308.65,125.52 L309.03,126.45 L309.41,127.38 L309.80,128.31 L310.19,129.23 L310.59,130.15 L310.99,131.07 L311.39,131.99 L311.80,132.90 L312.22,133.81 L312.64,134.71 L313.07,135.61 L313.51,136.51 L313.95,137.40 L314.39,138.29 L314.85,139.17 L315.31,140.06 L315.78,140.95 L316.26,141.84 L316.75,142.73 L317.24,143.61 L317.75,144.49 L318.26,145.37 L318.78,146.24 L319.30,147.10 L319.84,147.96 L320.39,148.81 L320.94,149.65 L321.50,150.48 L322.08,151.30 L322.66,152.11 L323.25,152.91 L323.85,153.69 L324.47,154.47 L325.09,155.31 L325.73,156.19 L326.38,157.09 L327.04,157.99 L327.72,158.87 L328.43,159.70 L329.15,160.46 L329.89,161.14 L330.66,161.71 L331.46,162.15 L332.28,162.43 L333.15,162.57 L334.13,162.66 L335.17,162.72 L336.25,162.77 L337.29,162.83 L338.27,162.93 L339.13,163.14 L339.90,163.67 L340.63,164.43 L341.36,165.26 L342.12,165.97 L342.97,166.50 L343.88,166.96 L344.80,167.40 L345.67,167.88 L346.45,168.45 L347.19,169.11 L347.88,169.85 L348.54,170.64 L349.18,171.46 L349.82,172.29 L350.46,173.11 L351.11,173.90 L351.79,174.64 L352.50,175.30 L353.26,175.87 L354.06,176.37 L354.91,176.86 L355.79,177.33 L356.70,177.78 L357.64,178.21 L358.59,178.60 L359.56,178.97 L360.53,179.31 L361.50,179.61 L362.47,179.87 L363.43,180.10 L364.40,180.30 L365.38,180.49 L366.37,180.67 L367.36,180.83 L368.36,180.98 L369.36,181.12 L370.36,181.25 L371.37,181.36 L372.37,181.47 L373.36,181.56 L374.36,181.66 L375.36,181.75 L376.36,181.84 L377.36,181.92 L378.36,182.00 L379.37,182.07 L380.37,182.12 L381.37,182.17 L382.37,182.20 L383.38,182.22 L384.38,182.24 L385.39,182.26 L386.39,182.27 L387.40,182.29 L388.40,182.29 L389.40,182.30 L390.40,182.30 L391.39,182.26 L392.39,182.20 L393.38,182.10 L394.38,181.97 L395.37,181.83 L396.36,181.66 L397.35,181.48 L398.34,181.29 L399.33,181.09 L400.32,180.89 L401.31,180.69 L402.30,180.49 L403.29,180.30 L404.28,180.12 L405.27,179.96 L406.27,179.82 L407.26,179.68 L408.25,179.53 L409.25,179.39 L410.24,179.25 L411.23,179.12 L412.23,178.98 L413.22,178.84 L414.22,178.71 L415.21,178.57 L416.20,178.44 L417.20,178.30 L418.19,178.17 L419.19,178.04 L420.18,177.91 L421.18,177.78 L422.17,177.65 L423.17,177.52 L424.16,177.39 L425.16,177.27 L426.15,177.14 L427.15,177.01 L428.15,176.89 L429.14,176.77 L430.14,176.64 L431.13,176.52 L432.13,176.40 L433.13,176.28 L434.12,176.16 L435.12,176.04 L436.11,175.92 L437.11,175.81 L438.11,175.69 L439.10,175.58 L440.10,175.46 L441.10,175.35 L442.10,175.24 L443.09,175.13 L444.09,175.02 L445.09,174.91 L446.08,174.80 L447.08,174.69 L448.08,174.58 L449.08,174.47 L450.07,174.36 L451.07,174.25 L452.07,174.14 L453.07,174.03 L454.06,173.92 L455.06,173.81 L456.06,173.70 L457.06,173.59 L458.05,173.48 L459.05,173.37 L460.05,173.27 L461.05,173.16 L462.04,173.05 L463.04,172.94 L464.04,172.83 L465.04,172.72 L466.03,172.60 L467.03,172.49 L468.03,172.38 L469.02,172.26 L470.02,172.14 L471.02,172.03 L472.01,171.91 L473.01,171.79 L474.01,171.67 L475.00,171.55 L476.00,171.43 L476.99,171.31 L477.99,171.19 L478.99,171.07 L479.98,170.94 L480.98,170.82 L481.97,170.70 L482.97,170.57 L483.96,170.44 L484.96,170.32 L485.96,170.19 L486.95,170.07 L487.95,169.95 L488.95,169.83 L489.95,169.71 L490.95,169.59 L491.94,169.46 L492.94,169.33 L493.94,169.20 L494.93,169.06 L495.92,168.92 L496.91,168.77 L497.90,168.61 L498.89,168.45 L499.87,168.27 L500.85,168.07 L501.82,167.85 L502.80,167.60 L503.77,167.35 L504.74,167.08 L505.70,166.81 L506.67,166.53 L507.64,166.26 L508.61,166.00 L509.58,165.75 L510.56,165.52 L511.54,165.29 L512.51,165.06 L513.49,164.84 L514.47,164.62 L515.45,164.41 L516.43,164.19 L517.41,163.98 L518.39,163.77 L519.37,163.55 L520.35,163.34 L521.34,163.13 L522.32,162.91 L523.29,162.69 L524.27,162.47 L525.25,162.25 L526.23,162.02 L527.20,161.79 L528.18,161.55 L529.16,161.31 L530.13,161.07 L531.10,160.83 L532.08,160.59 L533.05,160.34 L534.02,160.10 L535.00,159.86 L535.97,159.62 L536.95,159.38 L537.92,159.14 L538.90,158.91 L539.87,158.68 L540.85,158.45 L541.83,158.23 L542.81,158.01 L543.79,157.79 L544.77,157.58 L545.75,157.36 L546.73,157.14 L547.71,156.93 L548.69,156.72 L549.67,156.51 L550.66,156.31 L551.64,156.11 L552.62,155.91 L553.61,155.71 L554.59,155.52 L555.58,155.33 L556.56,155.15 L557.55,154.97 L558.54,154.79 L559.52,154.62 L560.51,154.44 L561.50,154.27 L562.49,154.10 L563.48,153.94 L564.47,153.77 L565.46,153.61 L566.45,153.45 L567.45,153.30 L568.44,153.15 L569.43,153.01 L570.42,152.87 L571.42,152.73 L572.41,152.60 L573.41,152.47 L574.40,152.35 L575.40,152.22 L576.39,152.10 L577.39,151.98 L578.39,151.86 L579.38,151.75 L580.38,151.63 L581.38,151.53 L582.38,151.42 L583.38,151.32 L584.38,151.22 L585.38,151.13 L586.38,151.05 L587.38,150.96 L588.38,150.89 L589.38,150.82 L590.38,150.74 L591.38,150.67 L592.38,150.60 L593.38,150.54 L594.38,150.47 L595.38,150.41 L596.38,150.35 L597.39,150.29 L598.39,150.24 L599.39,150.19 L600.39,150.14 L601.40,150.10 L602.40,150.07 L603.40,150.04 L604.41,150.01 L605.41,149.98 L606.41,149.96 L607.41,149.93 L608.42,149.91 L609.42,149.89 L610.42,149.87 L611.43,149.85 L612.43,149.83 L613.43,149.81 L614.44,149.80 L615.44,149.78 L616.44,149.77 L617.45,149.76 L618.45,149.76 L619.45,149.76 L620.46,149.76 L621.46,149.75 L622.46,149.75 L623.47,149.75 L624.47,149.75 L625.47,149.75 L626.48,149.75 L627.48,149.75 L628.48,149.75 L629.49,149.75 L630.49,149.75 L631.50,149.75 L632.50,149.75 L633.50,149.75 L634.51,149.75 L635.51,149.75 L636.51,149.75 L637.52,149.75 L638.52,149.75 L639.52,149.75 L640.53,149.75 L641.53,149.75 L642.53,149.75 L643.54,149.75 L644.54,149.74 L645.54,149.74 L646.55,149.74 L647.55,149.74 L648.55,149.74 L649.56,149.74 L650.56,149.74 L651.56,149.73 L652.57,149.73 L653.57,149.73 L654.58,149.73 L655.58,149.72 L656.58,149.72 L657.59,149.71 L658.59,149.71 L659.59,149.70 L660.59,149.69 L661.60,149.67 L662.60,149.62 L663.60,149.57 L664.60,149.50 L665.60,149.42 L666.61,149.34 L667.61,149.24 L668.61,149.15 L669.60,149.06 L670.60,148.96 L671.60,148.86 L672.60,148.74 L673.59,148.62 L674.59,148.49 L675.59,148.34 L676.58,148.19 L677.57,148.03 L678.56,147.86 L679.55,147.68 L680.53,147.49 L681.51,147.29 L682.48,147.06 L683.45,146.82 L684.42,146.55 L685.38,146.27 L686.35,145.98 L687.31,145.68 L688.27,145.37 L689.23,145.07 L690.18,144.76 L691.14,144.46 L692.09,144.15 L693.05,143.84 L694.00,143.52 L694.95,143.19 L695.90,142.86 L696.84,142.53 L697.79,142.19 L698.73,141.84 L699.67,141.49 L700.61,141.15 L701.55,140.79 L702.48,140.42 L703.41,140.04 L704.34,139.66 L705.27,139.27 L706.19,138.87 L707.12,138.48 L708.04,138.10 L708.98,137.73 L709.91,137.37 L710.85,137.02 L711.80,136.69 L712.75,136.37 L713.70,136.05 L714.65,135.73 L715.61,135.42 L716.57,135.11 L717.53,134.82 L718.50,134.55 L719.47,134.28 L720.44,134.04 L721.41,133.82 L722.39,133.61 L723.37,133.41 L724.36,133.22 L725.34,133.04 L726.33,132.87 L727.33,132.70 L728.32,132.55 L729.32,132.41 L730.31,132.27 L731.31,132.15 L732.30,132.03 L733.30,131.92 L734.30,131.82 L735.30,131.73 L736.30,131.64 L737.30,131.57 L738.30,131.50" stroke="#00a651"/>
<path d="M108.00,497.00 L109.01,497.00 L110.02,497.00 L111.02,497.00 L112.03,497.00 L113.04,497.00 L114.05,497.00 L115.06,497.00 L116.07,497.00 L117.07,497.00 L118.08,497.00 L119.09,497.00 L120.10,497.00 L121.11,497.00 L122.12,497.00 L123.12,497.00 L124.13,497.00 L125.14,497.00 L126.15,497.00 L127.16,497.00 L128.16,497.00 L129.17,497.00 L130.18,497.00 L131.19,497.00 L132.20,497.00 L133.21,497.00 L134.21,497.00 L135.22,497.00 L136.23,497.00 L137.24,497.00 L138.25,497.00 L139.26,497.00 L140.26,497.00 L141.27,497.00 L142.28,497.00 L143.29,497.00 L144.30,497.00 L145.30,497.00 L146.31,497.00 L147.32,497.00 L148.33,497.00 L149.34,497.00 L150.35,497.00 L151.35,497.00 L152.36,497.00 L153.37,497.00 L154.38,497.00 L155.39,497.00 L156.40,497.00 L157.41,497.00 L158.42,497.00 L159.43,497.00 L160.44,497.00 L161.45,497.00 L162.46,497.00 L163.47,497.00 L164.48,497.00 L165.49,497.00 L166.50,497.00 L167.50,497.00 L168.51,497.00 L169.52,497.00 L170.53,497.00 L171.54,497.00 L172.55,497.00 L173.56,497.00 L174.57,497.00 L175.57,497.00 L176.58,497.00 L177.59,497.00 L178.60,497.00 L179.60,497.00 L180.61,497.00 L181.62,497.00 L182.62,497.00 L183.63,497.00 L184.63,497.00 L185.64,497.00 L186.64,497.00 L187.65,496.90 L188.64,496.75 L189.61,496.54 L190.58,496.28 L191.54,495.96 L192.49,495.60 L193.43,495.21 L194.37,494.79 L195.29,494.36 L196.21,493.92 L197.12,493.49 L198.01,493.03 L198.88,492.52 L199.74,491.95 L200.58,491.35 L201.42,490.75 L202.26,490.16 L203.11,489.60 L203.98,489.10 L204.86,488.68 L205.77,488.35 L206.71,488.07 L207.67,487.83 L208.65,487.62 L209.64,487.42 L210.64,487.24 L211.65,487.06 L212.66,486.89 L213.66,486.71 L214.67,486.52 L215.66,486.31 L216.64,486.09 L217.62,485.85 L218.60,485.61 L219.58,485.36 L220.56,485.12 L221.54,484.87 L222.52,484.64 L223.50,484.41 L224.49,484.20 L225.47,484.01 L226.46,483.83 L227.46,483.66 L228.45,483.51 L229.45,483.36 L230.45,483.22 L231.45,483.08 L232.45,482.93 L233.44,482.78 L234.44,482.63 L235.44,482.46 L236.43,482.28 L237.42,482.09 L238.41,481.89 L239.40,481.69 L240.38,481.49 L241.37,481.29 L242.36,481.10 L243.35,480.91 L244.35,480.74 L245.34,480.58 L246.34,480.43 L247.33,480.29 L248.33,480.15 L249.33,480.01 L250.33,479.88 L251.33,479.74 L252.33,479.61 L253.33,479.47 L254.33,479.33 L255.32,479.18 L256.32,479.02 L257.32,478.87 L258.31,478.71 L259.31,478.55 L260.30,478.39 L261.30,478.23 L262.29,478.07 L263.29,477.91 L264.29,477.75 L265.28,477.59 L266.28,477.44 L267.27,477.28 L268.27,477.12 L269.27,476.96 L270.26,476.80 L271.26,476.65 L272.26,476.50 L273.25,476.36 L274.25,476.22 L275.25,476.09 L276.25,475.96 L277.25,475.83 L278.25,475.71 L279.25,475.59 L280.26,475.47 L281.26,475.36 L282.26,475.25 L283.26,475.14 L284.26,475.03 L285.27,474.93 L286.27,474.83 L287.27,474.73 L288.28,474.64 L289.28,474.54 L290.29,474.45 L291.29,474.37 L292.29,474.28 L293.30,474.20" stroke="#0072bc" stroke-dasharray="10 9.97"/>
<path d="M108.00,497.00 L109.01,497.00 L110.01,497.00 L111.02,497.00 L112.02,497.00 L113.03,497.00 L114.03,497.00 L115.04,497.00 L116.04,497.00 L117.05,497.00 L118.05,497.00 L119.06,497.00 L120.07,497.00 L121.07,497.00 L122.08,497.00 L123.08,497.00 L124.09,497.00 L125.09,497.00 L126.10,497.00 L127.10,497.00 L128.11,497.00 L129.12,497.00 L130.12,497.00 L131.13,497.00 L132.13,497.00 L133.14,497.00 L134.14,497.00 L135.15,497.00 L136.15,497.00 L137.16,497.00 L138.16,497.00 L139.17,497.00 L140.18,497.00 L141.18,497.00 L142.19,497.00 L143.19,497.00 L144.20,497.00 L145.20,497.00 L146.21,497.00 L147.21,497.00 L148.22,497.00 L149.23,497.00 L150.23,497.00 L151.24,497.00 L152.24,497.00 L153.25,497.00 L154.25,497.00 L155.26,497.00 L156.26,497.00 L157.27,497.00 L158.28,497.00 L159.28,497.00 L160.29,497.00 L161.29,497.00 L162.30,497.00 L163.30,497.00 L164.31,497.00 L165.31,497.00 L166.32,497.00 L167.33,497.00 L168.33,497.00 L169.34,497.00 L170.34,497.00 L171.35,497.00 L172.35,497.00 L173.36,497.00 L174.37,497.00 L175.37,497.00 L176.38,497.00 L177.38,497.00 L178.39,497.00 L179.39,497.00 L180.40,497.00 L181.40,497.00 L182.41,497.00 L183.41,497.00 L184.42,497.00 L185.43,497.00 L186.43,497.00 L187.44,497.00 L188.44,497.00 L189.45,497.00 L190.45,497.00 L191.46,497.00 L192.46,497.00 L193.47,497.00 L194.47,497.00 L195.48,497.00 L196.48,497.00 L197.49,497.00 L198.49,496.99 L199.50,496.96 L200.50,496.91 L201.51,496.86 L202.51,496.80 L203.52,496.73 L204.52,496.65 L205.52,496.56 L206.52,496.47 L207.52,496.36 L208.51,496.22 L209.51,496.06 L210.50,495.88 L211.49,495.69 L212.47,495.49 L213.46,495.29 L214.44,495.09 L215.43,494.88 L216.41,494.68 L217.40,494.46 L218.38,494.25 L219.36,494.02 L220.34,493.79 L221.32,493.56 L222.30,493.32 L223.27,493.07 L224.25,492.82 L225.22,492.56 L226.19,492.29 L227.15,492.02 L228.11,491.74 L229.07,491.45 L230.03,491.14 L230.98,490.82 L231.93,490.50 L232.88,490.16 L233.82,489.82 L234.77,489.47 L235.71,489.11 L236.65,488.75 L237.59,488.39 L238.54,488.03 L239.48,487.67 L240.42,487.32 L241.36,486.97 L242.30,486.61 L243.24,486.26 L244.18,485.90 L245.12,485.54 L246.06,485.17 L246.99,484.81 L247.93,484.45 L248.87,484.08 L249.81,483.71 L250.74,483.35 L251.68,482.99 L252.62,482.63 L253.56,482.27 L254.50,481.91 L255.44,481.56 L256.38,481.21 L257.32,480.85 L258.27,480.50 L259.21,480.15 L260.15,479.80 L261.09,479.46 L262.04,479.11 L262.98,478.76 L263.92,478.41 L264.87,478.06 L265.81,477.71 L266.75,477.37 L267.70,477.02 L268.64,476.66 L269.58,476.31 L270.52,475.95 L271.46,475.60 L272.40,475.24 L273.34,474.89 L274.28,474.53 L275.23,474.18 L276.17,473.83 L277.11,473.48 L278.06,473.14 L279.00,472.80 L279.95,472.46 L280.90,472.13 L281.85,471.80 L282.80,471.47 L283.75,471.14 L284.70,470.82 L285.65,470.49 L286.60,470.17 L287.56,469.86 L288.51,469.54 L289.47,469.23 L290.43,468.92 L291.38,468.61 L292.34,468.30 L293.30,468.00" stroke="#0072bc" stroke-dasharray="2.1 4.85"/>
<path d="M108.00,482.80 L108.67,482.60 L109.34,482.39 L110.01,482.18 L110.68,481.97 L111.35,481.76 L112.02,481.55 L112.68,481.33 L113.35,481.11 L114.01,480.89 L114.68,480.67 L115.34,480.45 L116.01,480.22 L116.67,479.99 L117.33,479.76 L117.99,479.53 L118.65,479.30 L119.32,479.07 L119.98,478.84 L120.64,478.61 L121.31,478.37 L121.97,478.14 L122.63,477.89 L123.29,477.65 L123.94,477.40 L124.59,477.14 L125.24,476.88 L125.89,476.61 L126.53,476.33 L127.16,476.05 L127.80,475.75 L128.43,475.45 L129.06,475.14 L129.69,474.83 L130.32,474.50 L130.94,474.17 L131.56,473.84 L132.18,473.49 L132.79,473.14 L133.39,472.79 L133.99,472.43 L134.58,472.06 L135.17,471.69 L135.75,471.30 L136.33,470.91 L136.91,470.52 L137.48,470.11 L138.05,469.69 L138.62,469.27 L139.18,468.83 L139.73,468.39 L140.28,467.95 L140.82,467.49 L141.35,467.03 L141.87,466.57 L142.38,466.09 L142.88,465.61 L143.37,465.13 L143.85,464.63 L144.33,464.13 L144.80,463.61 L145.26,463.09 L145.72,462.56 L146.18,462.02 L146.62,461.47 L147.06,460.92 L147.50,460.36 L147.93,459.80 L148.35,459.23 L148.77,458.66 L149.18,458.09 L149.59,457.51 L149.99,456.93 L150.39,456.36 L150.78,455.78 L151.16,455.20 L151.55,454.62 L151.92,454.03 L152.30,453.44 L152.67,452.85 L153.03,452.25 L153.39,451.65 L153.75,451.05 L154.10,450.44 L154.45,449.83 L154.80,449.22 L155.14,448.60 L155.48,447.98 L155.82,447.36 L156.15,446.74 L156.48,446.12 L156.81,445.50 L157.13,444.87 L157.45,444.24 L157.76,443.62 L158.07,442.99 L158.38,442.36 L158.69,441.73 L158.99,441.10 L159.29,440.47 L159.59,439.84 L159.88,439.21 L160.18,438.57 L160.47,437.94 L160.76,437.30 L161.05,436.66 L161.33,436.02 L161.61,435.37 L161.89,434.73 L162.17,434.08 L162.45,433.44 L162.72,432.79 L162.99,432.14 L163.26,431.49 L163.53,430.84 L163.79,430.19 L164.05,429.54 L164.31,428.88 L164.56,428.23 L164.82,427.57 L165.07,426.92 L165.31,426.26 L165.56,425.60 L165.80,424.95 L166.04,424.29 L166.27,423.63 L166.51,422.97 L166.73,422.31 L166.96,421.65 L167.18,420.99 L167.40,420.33 L167.62,419.66 L167.84,419.00 L168.05,418.33 L168.26,417.66 L168.47,416.99 L168.67,416.32 L168.87,415.65 L169.08,414.98 L169.28,414.31 L169.47,413.63 L169.67,412.96 L169.87,412.29 L170.06,411.61 L170.25,410.94 L170.44,410.26 L170.64,409.59 L170.83,408.91 L171.02,408.24 L171.21,407.56 L171.40,406.88 L171.59,406.21 L171.78,405.53 L171.97,404.86 L172.16,404.18 L172.35,403.51 L172.55,402.83 L172.74,402.16 L172.93,401.48 L173.13,400.81 L173.32,400.14 L173.51,399.46 L173.70,398.79 L173.89,398.11 L174.07,397.44 L174.26,396.76 L174.45,396.09 L174.63,395.41 L174.82,394.73 L175.01,394.06 L175.19,393.38 L175.38,392.71 L175.57,392.03 L175.76,391.36 L175.95,390.68 L176.14,390.01 L176.33,389.33 L176.53,388.66 L176.73,387.99 L176.92,387.32 L177.12,386.64 L177.31,385.97 L177.50,385.29 L177.69,384.61 L177.88,383.93 L178.07,383.25 L178.26,382.57 L178.46,381.89 L178.66,381.21 L178.86,380.54 L179.08,379.87 L179.30,379.21 L179.53,378.55 L179.77,377.90 L180.02,377.26 L180.29,376.62 L180.58,375.97 L180.90,375.31 L181.26,374.71 L181.70,374.21 L182.32,373.73 L182.86,373.64 L183.31,374.15 L183.68,374.91 L183.93,375.55 L184.14,376.20 L184.32,376.86 L184.49,377.53 L184.63,378.23 L184.76,378.92 L184.89,379.63 L185.01,380.34 L185.14,381.04 L185.27,381.74 L185.41,382.43 L185.55,383.12 L185.70,383.80 L185.84,384.49 L185.99,385.17 L186.13,385.86 L186.28,386.55 L186.42,387.23 L186.56,387.92 L186.70,388.60 L186.84,389.29 L186.98,389.98 L187.12,390.67 L187.26,391.35 L187.39,392.04 L187.53,392.73 L187.66,393.42 L187.79,394.10 L187.93,394.79 L188.06,395.48 L188.19,396.17 L188.32,396.86 L188.45,397.55 L188.58,398.24 L188.70,398.93 L188.83,399.62 L188.95,400.31 L189.07,401.00 L189.18,401.69 L189.29,402.38 L189.38,403.08 L189.47,403.77 L189.57,404.47 L189.68,405.16 L189.81,405.85 L189.99,406.70 L190.20,407.20 L190.42,406.77 L190.63,405.91 L190.79,405.19 L190.92,404.50 L191.03,403.81 L191.13,403.12 L191.22,402.42 L191.31,401.72 L191.39,401.03 L191.47,400.33 L191.54,399.64 L191.61,398.94 L191.68,398.24 L191.75,397.54 L191.81,396.84 L191.87,396.14 L191.92,395.45 L191.98,394.75 L192.03,394.05 L192.08,393.35 L192.13,392.65 L192.18,391.95 L192.22,391.25 L192.26,390.55 L192.30,389.85 L192.34,389.15 L192.38,388.45 L192.42,387.75 L192.46,387.05 L192.49,386.35 L192.53,385.65 L192.56,384.95 L192.60,384.25 L192.64,383.55 L192.68,382.85 L192.71,382.15 L192.75,381.45 L192.79,380.75 L192.83,380.05 L192.87,379.35 L192.91,378.65 L192.95,377.95 L192.99,377.25 L193.03,376.55 L193.07,375.85 L193.11,375.15 L193.15,374.45 L193.19,373.75 L193.22,373.05 L193.26,372.35 L193.30,371.65 L193.33,370.95 L193.37,370.25 L193.40,369.55 L193.43,368.85 L193.47,368.15 L193.50,367.45 L193.53,366.75 L193.56,366.05 L193.59,365.35 L193.63,364.65 L193.66,363.95 L193.69,363.25 L193.72,362.55 L193.75,361.85 L193.78,361.15 L193.82,360.45 L193.85,359.75 L193.88,359.05 L193.92,358.35 L193.95,357.65 L193.99,356.95 L194.02,356.25 L194.06,355.55 L194.09,354.85 L194.13,354.15 L194.16,353.45 L194.19,352.75 L194.22,352.05 L194.25,351.35 L194.28,350.65 L194.30,349.95 L194.32,349.25 L194.35,348.55 L194.37,347.85 L194.39,347.15 L194.41,346.45 L194.43,345.75 L194.45,345.05 L194.47,344.35 L194.49,343.64 L194.51,342.94 L194.53,342.24 L194.55,341.54 L194.56,340.84 L194.58,340.14 L194.60,339.44 L194.61,338.74 L194.63,338.04 L194.64,337.34 L194.66,336.64 L194.68,335.94 L194.69,335.24 L194.71,334.54 L194.72,333.83 L194.74,333.13 L194.75,332.43 L194.76,331.73 L194.78,331.03 L194.79,330.33 L194.81,329.63 L194.82,328.93 L194.84,328.23 L194.85,327.53 L194.86,326.83 L194.87,326.13 L194.89,325.43 L194.90,324.72 L194.91,324.02 L194.92,323.32 L194.94,322.62 L194.95,321.92 L194.96,321.22 L194.97,320.52 L194.98,319.82 L194.99,319.12 L195.00,318.42 L195.02,317.72 L195.03,317.02 L195.04,316.31 L195.05,315.61 L195.06,314.91 L195.07,314.21 L195.08,313.51 L195.09,312.81 L195.10,312.11 L195.11,311.41 L195.12,310.71 L195.13,310.01 L195.15,309.31 L195.16,308.61 L195.17,307.91 L195.18,307.20 L195.19,306.50 L195.20,305.80 L195.21,305.10 L195.22,304.40 L195.24,303.70 L195.25,303.00 L195.26,302.30 L195.27,301.60 L195.28,300.90 L195.30,300.20 L195.31,299.50 L195.32,298.79 L195.33,298.09 L195.35,297.39 L195.36,296.69 L195.37,295.99 L195.39,295.29 L195.40,294.59 L195.41,293.89 L195.43,293.19 L195.44,292.49 L195.45,291.79 L195.47,291.09 L195.48,290.39 L195.49,289.68 L195.51,288.98 L195.52,288.28 L195.53,287.58 L195.55,286.88 L195.56,286.18 L195.57,285.48 L195.59,284.78 L195.60,284.08 L195.62,283.38 L195.63,282.68 L195.64,281.98 L195.66,281.28 L195.67,280.57 L195.69,279.87 L195.70,279.17 L195.71,278.47 L195.73,277.77 L195.74,277.07 L195.76,276.37 L195.77,275.67 L195.79,274.97 L195.80,274.27 L195.81,273.57 L195.83,272.87 L195.84,272.17 L195.86,271.47 L195.87,270.76 L195.89,270.06 L195.90,269.36 L195.92,268.66 L195.93,267.96 L195.95,267.26 L195.96,266.56 L195.98,265.86 L195.99,265.16 L196.00,264.46 L196.02,263.76 L196.03,263.06 L196.05,262.36 L196.06,261.65 L196.08,260.95 L196.09,260.25 L196.11,259.55 L196.12,258.85 L196.14,258.15 L196.15,257.45 L196.17,256.75 L196.18,256.05 L196.20,255.35 L196.21,254.65 L196.23,253.95 L196.24,253.25 L196.26,252.55 L196.27,251.84 L196.29,251.14 L196.30,250.44 L196.32,249.74 L196.33,249.04 L196.35,248.34 L196.36,247.64 L196.38,246.94 L196.39,246.24 L196.41,245.54 L196.42,244.84 L196.43,244.14 L196.45,243.44 L196.46,242.73 L196.48,242.03 L196.49,241.33 L196.51,240.63 L196.52,239.93 L196.54,239.23 L196.55,238.53 L196.57,237.83 L196.58,237.13 L196.60,236.43 L196.61,235.73 L196.63,235.03 L196.64,234.33 L196.66,233.62 L196.67,232.92 L196.69,232.22 L196.70,231.52 L196.72,230.82 L196.74,230.12 L196.75,229.42 L196.77,228.72 L196.78,228.02 L196.80,227.32 L196.81,226.62 L196.83,225.92 L196.85,225.22 L196.86,224.51 L196.88,223.81 L196.90,223.11 L196.91,222.41 L196.93,221.71 L196.95,221.01 L196.96,220.31 L196.98,219.61 L197.00,218.91 L197.01,218.21 L197.03,217.51 L197.05,216.81 L197.06,216.11 L197.08,215.41 L197.10,214.71 L197.12,214.00 L197.13,213.30 L197.15,212.60 L197.17,211.90 L197.19,211.20 L197.21,210.50 L197.23,209.80 L197.24,209.10 L197.26,208.40 L197.28,207.70 L197.30,207.00 L197.32,206.30 L197.34,205.60 L197.36,204.90 L197.38,204.20 L197.40,203.50 L197.42,202.79 L197.44,202.09 L197.46,201.39 L197.48,200.69 L197.50,199.99 L197.52,199.29 L197.54,198.59 L197.56,197.89 L197.59,197.19 L197.61,196.49 L197.63,195.79 L197.65,195.09 L197.68,194.39 L197.70,193.69 L197.72,192.99 L197.75,192.29 L197.77,191.59 L197.80,190.89 L197.82,190.19 L197.85,189.49 L197.87,188.78 L197.90,188.08 L197.92,187.38 L197.95,186.68 L197.98,185.98 L198.00,185.28 L198.03,184.58 L198.06,183.88 L198.09,183.18 L198.11,182.48 L198.14,181.78 L198.17,181.08 L198.20,180.38 L198.22,179.68 L198.25,178.98 L198.28,178.28 L198.31,177.58 L198.34,176.88 L198.37,176.18 L198.40,175.48 L198.42,174.78 L198.45,174.08 L198.48,173.38 L198.51,172.68 L198.54,171.98 L198.57,171.28 L198.60,170.58 L198.63,169.88 L198.66,169.17 L198.69,168.47 L198.72,167.77 L198.75,167.07 L198.78,166.37 L198.81,165.67 L198.84,164.97 L198.87,164.27 L198.90,163.57 L198.93,162.87 L198.96,162.17 L198.99,161.47 L199.02,160.77 L199.05,160.07 L199.08,159.37 L199.10,158.67 L199.13,157.97 L199.16,157.27 L199.19,156.57 L199.22,155.87 L199.25,155.17 L199.28,154.47 L199.31,153.77 L199.34,153.07 L199.37,152.37 L199.40,151.67 L199.43,150.97 L199.46,150.26 L199.50,149.56 L199.53,148.86 L199.56,148.16 L199.59,147.46 L199.62,146.76 L199.65,146.06 L199.69,145.36 L199.72,144.66 L199.75,143.96 L199.79,143.26 L199.82,142.56 L199.85,141.86 L199.89,141.16 L199.92,140.46 L199.96,139.76 L200.00,139.06 L200.03,138.36 L200.07,137.66 L200.11,136.96 L200.14,136.26 L200.18,135.56 L200.22,134.86 L200.26,134.16 L200.30,133.46 L200.34,132.76 L200.38,132.06 L200.42,131.36 L200.47,130.67 L200.51,129.97 L200.55,129.27 L200.60,128.57 L200.64,127.87 L200.69,127.17 L200.74,126.47 L200.78,125.77 L200.83,125.07 L200.88,124.37 L200.93,123.67 L200.99,122.98 L201.04,122.28 L201.10,121.58 L201.15,120.88 L201.21,120.18 L201.27,119.48 L201.33,118.78 L201.39,118.08 L201.45,117.38 L201.52,116.69 L201.58,115.99 L201.65,115.29 L201.72,114.59 L201.79,113.89 L201.86,113.20 L201.93,112.50 L202.01,111.80 L202.08,111.11 L202.16,110.41 L202.24,109.71 L202.32,109.02 L202.40,108.32 L202.48,107.63 L202.57,106.93 L202.65,106.23 L202.74,105.53 L202.83,104.83 L202.93,104.13 L203.03,103.44 L203.15,102.74 L203.27,102.05 L203.40,101.37 L203.55,100.70 L203.73,99.97 L203.98,99.11 L204.26,98.32 L204.54,97.80 L204.81,97.75 L205.09,98.20 L205.37,98.96 L205.62,99.83 L205.82,100.58 L205.98,101.26 L206.12,101.94 L206.26,102.62 L206.38,103.31 L206.49,104.01 L206.59,104.71 L206.69,105.40 L206.79,106.10 L206.90,106.80 L207.00,107.49 L207.10,108.19 L207.21,108.88 L207.31,109.57 L207.41,110.27 L207.51,110.96 L207.61,111.65 L207.70,112.35 L207.80,113.04 L207.89,113.74 L207.99,114.43 L208.08,115.12 L208.17,115.82 L208.26,116.51 L208.35,117.21 L208.44,117.91 L208.53,118.60 L208.62,119.30 L208.71,119.99 L208.80,120.69 L208.89,121.38 L208.98,122.08 L209.06,122.77 L209.15,123.47 L209.24,124.16 L209.33,124.86 L209.42,125.56 L209.50,126.25 L209.59,126.95 L209.68,127.64 L209.77,128.34 L209.86,129.03 L209.95,129.73 L210.04,130.42 L210.13,131.12 L210.21,131.81 L210.30,132.51 L210.39,133.20 L210.48,133.90 L210.56,134.59 L210.65,135.29 L210.74,135.99 L210.82,136.68 L210.91,137.38 L210.99,138.07 L211.08,138.77 L211.17,139.46 L211.25,140.16 L211.34,140.86 L211.42,141.55 L211.50,142.25 L211.59,142.94 L211.67,143.64 L211.75,144.33 L211.84,145.03 L211.92,145.73 L212.00,146.42 L212.08,147.12 L212.17,147.81 L212.25,148.51 L212.33,149.21 L212.41,149.90 L212.50,150.60 L212.58,151.30 L212.66,151.99 L212.74,152.69 L212.82,153.38 L212.90,154.08 L212.98,154.78 L213.07,155.47 L213.15,156.17 L213.22,156.87 L213.30,157.56 L213.38,158.26 L213.46,158.96 L213.54,159.65 L213.62,160.35 L213.69,161.05 L213.77,161.74 L213.84,162.44 L213.92,163.14 L213.99,163.83 L214.06,164.53 L214.13,165.23 L214.20,165.92 L214.27,166.62 L214.34,167.32 L214.41,168.02 L214.48,168.71 L214.55,169.41 L214.61,170.11 L214.68,170.81 L214.75,171.50 L214.81,172.20 L214.88,172.90 L214.94,173.60 L215.01,174.30 L215.07,174.99 L215.13,175.69 L215.20,176.39 L215.26,177.09 L215.32,177.79 L215.38,178.49 L215.44,179.18 L215.50,179.88 L215.56,180.58 L215.62,181.28 L215.68,181.98 L215.74,182.68 L215.80,183.37 L215.86,184.07 L215.92,184.77 L215.98,185.47 L216.03,186.17 L216.09,186.87 L216.15,187.56 L216.20,188.26 L216.26,188.96 L216.31,189.66 L216.36,190.36 L216.41,191.06 L216.47,191.76 L216.52,192.46 L216.57,193.16 L216.62,193.85 L216.67,194.55 L216.72,195.25 L216.77,195.95 L216.81,196.65 L216.86,197.35 L216.91,198.05 L216.96,198.75 L217.01,199.45 L217.05,200.15 L217.10,200.85 L217.15,201.55 L217.19,202.25 L217.24,202.95 L217.29,203.65 L217.34,204.35 L217.38,205.04 L217.43,205.74 L217.48,206.44 L217.53,207.14 L217.58,207.84 L217.62,208.54 L217.67,209.24 L217.72,209.94 L217.77,210.64 L217.82,211.34 L217.88,212.04 L217.93,212.74 L217.98,213.43 L218.03,214.13 L218.09,214.83 L218.14,215.53 L218.20,216.23 L218.25,216.93 L218.31,217.63 L218.37,218.32 L218.43,219.02 L218.49,219.72 L218.55,220.42 L218.61,221.12 L218.67,221.81 L218.73,222.51 L218.80,223.21 L218.86,223.91 L218.93,224.61 L218.99,225.30 L219.06,226.00 L219.13,226.70 L219.19,227.40 L219.26,228.09 L219.33,228.79 L219.40,229.49 L219.47,230.19 L219.54,230.88 L219.61,231.58 L219.68,232.28 L219.75,232.98 L219.83,233.67 L219.90,234.37 L219.97,235.07 L220.05,235.77 L220.12,236.46 L220.19,237.16 L220.27,237.86 L220.34,238.55 L220.42,239.25 L220.49,239.95 L220.57,240.64 L220.64,241.34 L220.72,242.04 L220.79,242.74 L220.87,243.43 L220.94,244.13 L221.02,244.83 L221.10,245.52 L221.17,246.22 L221.25,246.92 L221.32,247.61 L221.40,248.31 L221.47,249.01 L221.55,249.70 L221.62,250.40 L221.70,251.10 L221.77,251.80 L221.85,252.49 L221.92,253.19 L222.00,253.89 L222.07,254.58 L222.15,255.28 L222.22,255.98 L222.30,256.68 L222.37,257.37 L222.45,258.07 L222.53,258.77 L222.60,259.47 L222.68,260.16 L222.76,260.86 L222.84,261.56 L222.92,262.25 L223.00,262.95 L223.08,263.65 L223.16,264.34 L223.24,265.04 L223.32,265.74 L223.41,266.43 L223.49,267.13 L223.58,267.82 L223.67,268.52 L223.75,269.21 L223.84,269.91 L223.93,270.60 L224.03,271.30 L224.12,271.99 L224.21,272.69 L224.31,273.38 L224.41,274.07 L224.51,274.76 L224.61,275.46 L224.71,276.15 L224.81,276.84 L224.92,277.53 L225.03,278.22 L225.14,278.92 L225.26,279.61 L225.37,280.30 L225.49,280.99 L225.61,281.68 L225.74,282.37 L225.86,283.06 L225.99,283.75 L226.12,284.44 L226.25,285.12 L226.39,285.81 L226.52,286.50 L226.66,287.19 L226.79,287.88 L226.93,288.57 L227.07,289.25 L227.21,289.94 L227.36,290.63 L227.50,291.31 L227.64,292.00 L227.79,292.69 L227.93,293.37 L228.07,294.06 L228.22,294.75 L228.37,295.43 L228.51,296.12 L228.66,296.80 L228.80,297.49 L228.95,298.17 L229.11,298.86 L229.26,299.54 L229.42,300.22 L229.57,300.91 L229.73,301.59 L229.90,302.27 L230.06,302.95 L230.22,303.63 L230.39,304.32 L230.55,305.00 L230.72,305.68 L230.88,306.36 L231.05,307.04 L231.21,307.72 L231.38,308.40 L231.54,309.08 L231.71,309.77 L231.87,310.45 L232.04,311.13 L232.21,311.81 L232.37,312.49 L232.54,313.17 L232.71,313.85 L232.88,314.53 L233.05,315.21 L233.22,315.89 L233.39,316.57 L233.56,317.25 L233.73,317.93 L233.90,318.61 L234.07,319.29 L234.24,319.97 L234.41,320.65 L234.59,321.33 L234.76,322.01 L234.93,322.69 L235.10,323.37 L235.28,324.04 L235.45,324.72 L235.62,325.40 L235.80,326.08 L235.97,326.76 L236.15,327.44 L236.32,328.12 L236.50,328.80 L236.67,329.48 L236.85,330.15 L237.03,330.83 L237.20,331.51 L237.38,332.19 L237.56,332.87 L237.73,333.55 L237.91,334.22 L238.09,334.90 L238.26,335.58 L238.44,336.26 L238.62,336.94 L238.80,337.61 L238.98,338.29 L239.16,338.97 L239.34,339.65 L239.52,340.32 L239.70,341.00 L239.88,341.68 L240.07,342.35 L240.25,343.03 L240.44,343.70 L240.62,344.38 L240.81,345.06 L241.00,345.73 L241.18,346.41 L241.37,347.08 L241.56,347.76 L241.74,348.44 L241.93,349.11 L242.12,349.79 L242.31,350.46 L242.51,351.13 L242.70,351.81 L242.90,352.48 L243.10,353.15 L243.30,353.82 L243.50,354.49 L243.70,355.16 L243.91,355.83 L244.12,356.50 L244.33,357.17 L244.55,357.84 L244.77,358.50 L244.99,359.17 L245.21,359.83 L245.43,360.50 L245.66,361.16 L245.89,361.82 L246.12,362.49 L246.35,363.15 L246.58,363.81 L246.82,364.47 L247.06,365.13 L247.30,365.79 L247.53,366.45 L247.78,367.10 L248.02,367.76 L248.26,368.42 L248.50,369.08 L248.75,369.74 L248.99,370.39 L249.24,371.05 L249.49,371.70 L249.74,372.36 L250.00,373.01 L250.25,373.67 L250.51,374.32 L250.77,374.97 L251.03,375.62 L251.30,376.27 L251.57,376.92 L251.84,377.56 L252.11,378.21 L252.39,378.85 L252.66,379.49 L252.95,380.13 L253.23,380.77 L253.52,381.41 L253.81,382.05 L254.11,382.69 L254.41,383.32 L254.71,383.96 L255.02,384.59 L255.33,385.22 L255.65,385.85 L255.97,386.47 L256.30,387.09 L256.63,387.71 L256.97,388.32 L257.31,388.92 L257.67,389.52 L258.03,390.12 L258.40,390.71 L258.78,391.30 L259.16,391.89 L259.56,392.47 L259.96,393.05 L260.36,393.63 L260.77,394.20 L261.18,394.77 L261.59,395.34 L262.01,395.90 L262.43,396.47 L262.84,397.03 L263.26,397.58 L263.69,398.14 L264.12,398.70 L264.55,399.25 L264.99,399.80 L265.43,400.35 L265.87,400.89 L266.32,401.44 L266.77,401.97 L267.23,402.51 L267.69,403.04 L268.15,403.56 L268.62,404.08 L269.09,404.59 L269.57,405.10 L270.05,405.61 L270.54,406.11 L271.04,406.61 L271.54,407.10 L272.04,407.59 L272.55,408.08 L273.07,408.56 L273.58,409.03 L274.10,409.50 L274.63,409.97 L275.16,410.42 L275.69,410.88 L276.23,411.32 L276.77,411.76 L277.32,412.20 L277.87,412.63 L278.43,413.06 L278.99,413.48 L279.55,413.90 L280.12,414.31 L280.69,414.72 L281.27,415.13 L281.84,415.52 L282.42,415.92 L283.00,416.31 L283.59,416.69 L284.18,417.07 L284.77,417.44 L285.37,417.82 L285.97,418.18 L286.57,418.54 L287.17,418.90 L287.77,419.26 L288.38,419.61 L288.98,419.96 L289.59,420.31 L290.21,420.65 L290.82,420.99 L291.44,421.32 L292.06,421.65 L292.68,421.98 L293.30,422.30" stroke="#0072bc"/>
<path d="M293.90,374.40 L295.30,373.83 L296.70,373.28 L298.11,372.74 L299.52,372.21 L300.94,371.69 L302.36,371.19 L303.78,370.70 L305.21,370.22 L306.65,369.76 L308.09,369.30 L309.53,368.86 L310.98,368.43 L312.43,368.02 L313.88,367.62 L315.33,367.22 L316.79,366.83 L318.26,366.45 L319.72,366.10 L321.20,365.78 L322.67,365.49 L324.16,365.25 L325.66,365.05 L327.17,364.86 L328.68,364.68 L330.17,364.47 L331.64,364.21 L333.08,363.86 L334.49,363.29 L335.88,362.60 L337.26,361.87 L338.64,361.20 L340.04,360.68 L341.48,360.41 L342.94,360.33 L344.43,360.28 L345.94,360.24 L347.46,360.21 L348.99,360.18 L350.51,360.14 L352.02,360.09 L353.53,360.03 L355.05,359.98 L356.57,359.92 L358.08,359.85 L359.58,359.77 L361.07,359.67 L362.54,359.52 L363.99,359.20 L365.42,358.72 L366.85,358.16 L368.27,357.57 L369.70,357.03 L371.14,356.60 L372.61,356.30 L374.09,356.04 L375.58,355.81 L377.08,355.60 L378.58,355.40 L380.08,355.21 L381.57,355.03 L383.07,354.86 L384.57,354.70 L386.07,354.54 L387.57,354.39 L389.07,354.25 L390.57,354.10 L392.07,353.94 L393.57,353.79 L395.07,353.63 L396.57,353.48 L398.07,353.33 L399.57,353.18 L401.07,353.04 L402.57,352.90 L404.08,352.76 L405.58,352.62 L407.08,352.49 L408.58,352.35 L410.08,352.21 L411.58,352.07 L413.08,351.93 L414.59,351.78 L416.09,351.64 L417.59,351.49 L419.09,351.34 L420.59,351.20 L422.09,351.05 L423.59,350.91 L425.09,350.77 L426.59,350.63 L428.09,350.49 L429.60,350.35 L431.10,350.20 L432.60,350.06 L434.10,349.90 L435.60,349.75 L437.10,349.59 L438.60,349.43 L440.09,349.27 L441.59,349.12 L443.09,348.96 L444.59,348.80 L446.09,348.65 L447.59,348.49 L449.09,348.35 L450.60,348.21 L452.10,348.08 L453.60,347.96 L455.10,347.83 L456.61,347.72 L458.11,347.61 L459.62,347.51 L461.12,347.43 L462.63,347.35 L464.13,347.28 L465.64,347.22 L467.15,347.16 L468.65,347.10 L470.16,347.04 L471.67,346.97 L473.17,346.91 L474.68,346.84 L476.19,346.78 L477.69,346.72 L479.20,346.65 L480.70,346.58 L482.21,346.50 L483.72,346.42 L485.22,346.33 L486.73,346.25 L488.23,346.16 L489.74,346.07 L491.24,345.98 L492.75,345.89 L494.25,345.81 L495.76,345.72 L497.26,345.63 L498.77,345.54 L500.27,345.46 L501.78,345.38 L503.29,345.30 L504.79,345.23 L506.30,345.16 L507.80,345.08 L509.31,345.01 L510.82,344.94 L512.32,344.87 L513.83,344.80 L515.33,344.73 L516.84,344.67 L518.35,344.60 L519.85,344.54 L521.36,344.48 L522.87,344.42 L524.37,344.36 L525.88,344.30 L527.39,344.25 L528.89,344.20 L530.40,344.15 L531.91,344.10 L533.42,344.06 L534.92,344.01 L536.43,343.97 L537.94,343.94 L539.44,343.90 L540.95,343.86 L542.46,343.83 L543.97,343.80 L545.47,343.77 L546.98,343.74 L548.49,343.71 L550.00,343.68 L551.50,343.66 L553.01,343.63 L554.52,343.61 L556.03,343.58 L557.53,343.56 L559.04,343.54 L560.55,343.52 L562.06,343.50 L563.57,343.48 L565.07,343.47 L566.58,343.45 L568.09,343.44 L569.60,343.43 L571.10,343.42 L572.61,343.42 L574.12,343.41 L575.63,343.41 L577.14,343.41 L578.64,343.41 L580.15,343.41 L581.66,343.41 L583.17,343.41 L584.67,343.42 L586.18,343.43 L587.69,343.44 L589.20,343.46 L590.71,343.47 L592.21,343.48 L593.72,343.49 L595.23,343.51 L596.74,343.52 L598.24,343.54 L599.75,343.55 L601.26,343.56 L602.77,343.57 L604.28,343.59 L605.78,343.60 L607.29,343.61 L608.80,343.62 L610.31,343.63 L611.81,343.65 L613.32,343.66 L614.83,343.68 L616.34,343.70 L617.84,343.72 L619.35,343.75 L620.86,343.77 L622.37,343.80 L623.88,343.83 L625.38,343.87 L626.89,343.91 L628.40,343.95 L629.90,343.99 L631.41,344.04 L632.92,344.08 L634.43,344.13 L635.93,344.18 L637.44,344.23 L638.95,344.28 L640.45,344.34 L641.96,344.39 L643.47,344.44 L644.97,344.49 L646.48,344.54 L647.99,344.59 L649.49,344.65 L651.00,344.70 L652.51,344.76 L654.01,344.82 L655.52,344.88 L657.03,344.94 L658.53,345.00 L660.04,345.06 L661.55,345.13 L663.05,345.20 L664.56,345.27 L666.07,345.34 L667.57,345.41 L669.08,345.49 L670.58,345.57 L672.09,345.65 L673.59,345.74 L675.10,345.83 L676.60,345.92 L678.11,346.02 L679.61,346.11 L681.12,346.21 L682.62,346.30 L684.13,346.39 L685.63,346.49 L687.14,346.58 L688.64,346.67 L690.15,346.77 L691.65,346.87 L693.16,346.97 L694.66,347.07 L696.17,347.18 L697.67,347.29 L699.17,347.39 L700.68,347.49 L702.18,347.58 L703.69,347.67 L705.19,347.75 L706.70,347.84 L708.21,347.92 L709.71,348.00 L711.22,348.08 L712.72,348.17 L714.23,348.25 L715.73,348.34 L717.24,348.43 L718.74,348.52 L720.25,348.60 L721.75,348.69 L723.26,348.77 L724.77,348.85 L726.27,348.92 L727.78,349.00 L729.28,349.08 L730.79,349.17 L732.29,349.27 L733.79,349.39 L735.30,349.52 L736.80,349.65 L738.30,349.80" stroke="#0072bc" stroke-dasharray="10 10.07"/>
<path d="M293.50,340.80 L294.28,339.49 L295.09,338.20 L295.92,336.93 L296.77,335.67 L297.64,334.44 L298.53,333.22 L299.44,332.02 L300.36,330.83 L301.31,329.67 L302.27,328.52 L303.26,327.40 L304.29,326.31 L305.35,325.24 L306.44,324.18 L307.53,323.14 L308.63,322.10 L309.73,321.05 L310.81,319.99 L311.88,318.93 L312.96,317.87 L314.04,316.82 L315.13,315.77 L316.21,314.71 L317.28,313.65 L318.35,312.59 L319.41,311.51 L320.45,310.42 L321.47,309.31 L322.48,308.20 L323.48,307.07 L324.46,305.92 L325.44,304.77 L326.41,303.61 L327.37,302.44 L328.31,301.26 L329.24,300.08 L330.16,298.88 L331.06,297.67 L331.92,296.41 L332.76,295.14 L333.58,293.84 L334.39,292.54 L335.19,291.23 L336.00,289.93 L336.82,288.64 L337.65,287.37 L338.50,286.12 L339.38,284.91 L340.29,283.74 L341.24,282.62 L342.24,281.56 L343.30,280.56 L344.44,279.60 L345.62,278.67 L346.85,277.78 L348.10,276.90 L349.36,276.03 L350.62,275.15 L351.85,274.26 L353.06,273.35 L354.26,272.43 L355.46,271.51 L356.65,270.59 L357.85,269.67 L359.04,268.75 L360.24,267.83 L361.43,266.91 L362.63,265.99 L363.82,265.06 L365.01,264.14 L366.20,263.21 L367.39,262.28 L368.58,261.35 L369.77,260.43 L370.96,259.50 L372.16,258.58 L373.36,257.66 L374.56,256.75 L375.76,255.84 L376.96,254.92 L378.17,254.01 L379.37,253.11 L380.58,252.21 L381.80,251.32 L383.02,250.43 L384.25,249.56 L385.49,248.70 L386.73,247.85 L387.98,247.00 L389.24,246.16 L390.50,245.33 L391.75,244.49 L393.01,243.66 L394.27,242.83 L395.52,241.98 L396.77,241.13 L398.02,240.28 L399.27,239.43 L400.53,238.59 L401.79,237.76 L403.07,236.96 L404.36,236.19 L405.67,235.46 L406.99,234.75 L408.33,234.07 L409.69,233.40 L411.05,232.75 L412.42,232.11 L413.79,231.47 L415.16,230.83 L416.53,230.18 L417.89,229.52 L419.24,228.85 L420.58,228.15 L421.91,227.45 L423.24,226.73 L424.56,226.00 L425.88,225.27 L427.19,224.53 L428.51,223.79 L429.82,223.05 L431.14,222.31 L432.45,221.56 L433.76,220.82 L435.08,220.08 L436.40,219.35 L437.72,218.62 L439.06,217.91 L440.39,217.19 L441.72,216.47 L443.04,215.74 L444.36,215.00 L445.66,214.24 L446.95,213.47 L448.21,212.66 L449.44,211.76 L450.63,210.80 L451.83,209.87 L453.08,209.07 L454.41,208.38 L455.81,207.69 L457.25,207.08 L458.70,206.69 L460.15,206.62 L461.61,206.93 L463.09,207.44 L464.57,207.90 L466.03,208.10 L467.47,207.92 L468.90,207.47 L470.33,206.87 L471.76,206.26 L473.19,205.74 L474.64,205.29 L476.08,204.86 L477.53,204.42 L478.97,204.00 L480.42,203.57 L481.87,203.15 L483.32,202.73 L484.77,202.32 L486.22,201.90 L487.67,201.50 L489.13,201.10 L490.58,200.70 L492.04,200.29 L493.49,199.87 L494.93,199.43 L496.37,198.98 L497.81,198.52 L499.25,198.07 L500.69,197.64 L502.15,197.24 L503.60,196.83 L505.05,196.41 L506.49,195.96 L507.91,195.45 L509.30,194.86 L510.69,194.26 L512.09,193.70 L513.52,193.23 L514.96,192.81 L516.41,192.41 L517.87,192.04 L519.34,191.69 L520.82,191.35 L522.29,191.02 L523.77,190.69 L525.25,190.37 L526.72,190.04 L528.19,189.72 L529.67,189.40 L531.15,189.09 L532.62,188.79 L534.10,188.48 L535.58,188.19 L537.06,187.90 L538.54,187.61 L540.03,187.33 L541.51,187.05 L542.99,186.78 L544.48,186.51 L545.96,186.24 L547.45,185.98 L548.94,185.72 L550.42,185.46 L551.91,185.21 L553.40,184.98 L554.89,184.75 L556.39,184.53 L557.88,184.31 L559.37,184.11 L560.87,183.91 L562.36,183.71 L563.86,183.52 L565.36,183.33 L566.86,183.16 L568.36,182.99 L569.86,182.83 L571.36,182.67 L572.86,182.53 L574.36,182.40 L575.87,182.26 L577.37,182.14 L578.87,182.02 L580.38,181.90 L581.88,181.79 L583.39,181.68 L584.90,181.58 L586.40,181.49 L587.91,181.41 L589.41,181.33 L590.92,181.26 L592.43,181.18 L593.94,181.11 L595.44,181.05 L596.95,180.99 L598.46,180.93 L599.97,180.88 L601.48,180.83 L602.98,180.79 L604.49,180.75 L606.00,180.72 L607.51,180.68 L609.02,180.65 L610.53,180.62 L612.03,180.60 L613.54,180.57 L615.05,180.55 L616.56,180.53 L618.07,180.51 L619.58,180.49 L621.09,180.48 L622.59,180.46 L624.10,180.45 L625.61,180.43 L627.12,180.42 L628.63,180.42 L630.14,180.41 L631.65,180.41 L633.16,180.41 L634.67,180.41 L636.17,180.41 L637.68,180.41 L639.19,180.40 L640.70,180.40 L642.21,180.40 L643.72,180.40 L645.23,180.40 L646.74,180.40 L648.24,180.40 L649.75,180.40 L651.26,180.40 L652.77,180.40 L654.28,180.40 L655.79,180.42 L657.30,180.44 L658.81,180.47 L660.31,180.50 L661.82,180.54 L663.33,180.57 L664.84,180.59 L666.35,180.60 L667.86,180.59 L669.37,180.55 L670.87,180.50 L672.38,180.45 L673.89,180.40 L675.40,180.36 L676.91,180.32 L678.42,180.28 L679.92,180.24 L681.43,180.18 L682.94,180.11 L684.45,180.01 L685.95,179.90 L687.45,179.77 L688.95,179.62 L690.45,179.44 L691.94,179.23 L693.44,179.00 L694.93,178.76 L696.42,178.52 L697.90,178.26 L699.39,177.99 L700.87,177.71 L702.35,177.43 L703.84,177.14 L705.31,176.84 L706.79,176.54 L708.28,176.26 L709.76,176.01 L711.25,175.77 L712.74,175.54 L714.24,175.33 L715.74,175.14 L717.24,174.98 L718.74,174.84 L720.24,174.72 L721.75,174.60 L723.25,174.48 L724.76,174.37 L726.26,174.27 L727.77,174.17 L729.27,174.07 L730.78,173.96 L732.28,173.85 L733.79,173.74 L735.29,173.63 L736.80,173.51 L738.30,173.40" stroke="#0072bc" stroke-dasharray="2.1 4.85"/>
<path d="M293.40,93.10 L293.71,94.06 L294.01,95.01 L294.32,95.97 L294.64,96.92 L294.95,97.88 L295.26,98.83 L295.58,99.78 L295.90,100.74 L296.21,101.69 L296.53,102.64 L296.86,103.59 L297.18,104.54 L297.50,105.49 L297.83,106.44 L298.16,107.39 L298.49,108.34 L298.82,109.29 L299.15,110.23 L299.49,111.18 L299.82,112.12 L300.16,113.07 L300.50,114.01 L300.84,114.96 L301.18,115.90 L301.52,116.84 L301.86,117.79 L302.21,118.73 L302.56,119.67 L302.90,120.61 L303.24,121.56 L303.58,122.51 L303.92,123.46 L304.26,124.41 L304.59,125.37 L304.93,126.32 L305.27,127.27 L305.61,128.23 L305.95,129.18 L306.29,130.13 L306.63,131.08 L306.98,132.03 L307.33,132.98 L307.68,133.93 L308.03,134.88 L308.39,135.82 L308.76,136.76 L309.12,137.70 L309.50,138.63 L309.87,139.56 L310.26,140.49 L310.65,141.41 L311.05,142.33 L311.45,143.24 L311.86,144.15 L312.28,145.05 L312.71,145.95 L313.14,146.84 L313.58,147.72 L314.04,148.60 L314.50,149.47 L315.00,150.33 L315.52,151.17 L316.08,152.01 L316.65,152.84 L317.23,153.66 L317.82,154.48 L318.42,155.30 L319.01,156.11 L319.60,156.94 L320.17,157.76 L320.73,158.60 L321.28,159.44 L321.83,160.28 L322.38,161.12 L322.93,161.96 L323.49,162.79 L324.05,163.62 L324.61,164.50 L325.14,165.46 L325.67,166.47 L326.20,167.50 L326.73,168.51 L327.28,169.47 L327.86,170.34 L328.46,171.09 L329.11,171.68 L329.82,172.08 L330.60,172.27 L331.56,172.38 L332.63,172.45 L333.71,172.53 L334.71,172.65 L335.56,172.91 L336.33,173.48 L337.06,174.25 L337.78,175.06 L338.54,175.78 L339.37,176.34 L340.25,176.85 L341.15,177.33 L342.03,177.82 L342.88,178.35 L343.66,178.93 L344.37,179.61 L345.03,180.37 L345.66,181.17 L346.28,181.99 L346.91,182.79 L347.56,183.57 L348.25,184.27 L349.01,184.90 L349.80,185.50 L350.63,186.06 L351.48,186.61 L352.34,187.15 L353.20,187.68 L354.06,188.22 L354.90,188.78 L355.73,189.44 L356.55,190.15 L357.37,190.86 L358.20,191.50 L359.05,192.01 L359.93,192.32 L360.85,192.40 L361.83,192.40 L362.85,192.40 L363.89,192.40 L364.90,192.40 L365.85,192.35 L366.76,191.96 L367.65,191.36 L368.53,190.71 L369.42,190.20 L370.34,190.00 L371.30,190.11 L372.29,190.37 L373.28,190.66 L374.28,190.91 L375.26,191.00 L376.23,190.80 L377.20,190.42 L378.17,190.08 L379.13,190.01 L380.09,190.18 L381.06,190.49 L382.02,190.89 L382.95,191.34 L383.85,191.78 L384.69,192.35 L385.50,193.04 L386.32,193.67 L387.18,194.07 L388.11,194.24 L389.09,194.39 L390.11,194.50 L391.14,194.57 L392.15,194.60 L393.16,194.57 L394.16,194.50 L395.16,194.41 L396.16,194.31 L397.16,194.22 L398.16,194.12 L399.15,194.01 L400.15,193.89 L401.15,193.77 L402.14,193.64 L403.14,193.51 L404.13,193.39 L405.13,193.27 L406.13,193.15 L407.13,193.03 L408.12,192.91 L409.12,192.79 L410.11,192.67 L411.11,192.55 L412.11,192.43 L413.10,192.31 L414.10,192.20 L415.10,192.08 L416.10,191.96 L417.09,191.85 L418.09,191.74 L419.09,191.63 L420.09,191.52 L421.08,191.42 L422.08,191.32 L423.08,191.21 L424.08,191.10 L425.08,190.98 L426.09,190.87 L427.09,190.75 L428.09,190.64 L429.09,190.53 L430.09,190.43 L431.09,190.34 L432.09,190.26 L433.09,190.20 L434.09,190.15 L435.09,190.11 L436.08,190.10 L437.09,190.16 L438.10,190.33 L439.12,190.57 L440.13,190.83 L441.11,191.05 L442.06,191.18 L442.95,191.15 L443.78,190.81 L444.57,190.21 L445.34,189.44 L446.10,188.58 L446.85,187.71 L447.63,186.93 L448.44,186.31 L449.29,185.94 L450.21,185.81 L451.19,185.73 L452.22,185.68 L453.27,185.63 L454.30,185.57 L455.30,185.47 L456.22,185.25 L457.10,184.62 L457.96,184.01 L458.79,183.97 L459.60,184.46 L460.39,185.21 L461.19,185.98 L462.04,186.52 L462.95,186.88 L463.90,187.22 L464.88,187.54 L465.88,187.80 L466.88,187.99 L467.88,188.09 L468.86,188.09 L469.85,188.03 L470.84,187.92 L471.83,187.78 L472.83,187.61 L473.82,187.43 L474.82,187.23 L475.82,187.03 L476.81,186.85 L477.80,186.68 L478.80,186.53 L479.79,186.37 L480.78,186.21 L481.77,186.05 L482.76,185.88 L483.75,185.72 L484.74,185.55 L485.73,185.39 L486.72,185.22 L487.71,185.05 L488.70,184.89 L489.69,184.72 L490.68,184.55 L491.67,184.39 L492.66,184.22 L493.65,184.05 L494.63,183.88 L495.62,183.71 L496.61,183.54 L497.60,183.37 L498.59,183.20 L499.58,183.03 L500.57,182.86 L501.56,182.69 L502.55,182.52 L503.54,182.35 L504.53,182.19 L505.52,182.02 L506.51,181.85 L507.50,181.68 L508.49,181.52 L509.48,181.35 L510.47,181.19 L511.46,181.03 L512.45,180.87 L513.44,180.71 L514.43,180.54 L515.42,180.38 L516.41,180.22 L517.40,180.06 L518.39,179.90 L519.38,179.74 L520.37,179.57 L521.36,179.41 L522.35,179.24 L523.34,179.07 L524.33,178.90 L525.32,178.73 L526.31,178.55 L527.29,178.37 L528.28,178.19 L529.27,178.00 L530.25,177.81 L531.24,177.61 L532.22,177.42 L533.21,177.22 L534.19,177.03 L535.18,176.83 L536.16,176.64 L537.15,176.45 L538.13,176.26 L539.12,176.08 L540.11,175.90 L541.09,175.72 L542.08,175.55 L543.07,175.38 L544.06,175.21 L545.05,175.04 L546.04,174.87 L547.03,174.71 L548.02,174.54 L549.01,174.38 L550.00,174.22 L551.00,174.07 L551.99,173.91 L552.98,173.76 L553.97,173.62 L554.97,173.48 L555.96,173.35 L556.96,173.22 L557.95,173.09 L558.95,172.97 L559.94,172.84 L560.94,172.72 L561.94,172.60 L562.93,172.48 L563.93,172.36 L564.93,172.25 L565.93,172.14 L566.93,172.04 L567.93,171.94 L568.93,171.85 L569.93,171.76 L570.93,171.69 L571.93,171.62 L572.93,171.56 L573.93,171.50 L574.93,171.44 L575.93,171.38 L576.93,171.32 L577.94,171.27 L578.94,171.21 L579.94,171.16 L580.95,171.11 L581.95,171.07 L582.95,171.03 L583.96,171.00 L584.96,170.97 L585.96,170.95 L586.97,170.94 L587.97,170.93 L588.97,170.93 L589.98,170.93 L590.98,170.94 L591.98,170.94 L592.99,170.95 L593.99,170.96 L595.00,170.97 L596.00,170.98 L597.00,170.99 L598.01,171.00 L599.01,171.01 L600.01,171.02 L601.02,171.04 L602.02,171.05 L603.03,171.06 L604.03,171.08 L605.03,171.09 L606.04,171.11 L607.04,171.13 L608.04,171.15 L609.05,171.18 L610.05,171.20 L611.05,171.23 L612.06,171.26 L613.06,171.29 L614.06,171.32 L615.07,171.35 L616.07,171.38 L617.07,171.40 L618.08,171.43 L619.08,171.45 L620.08,171.47 L621.09,171.50 L622.09,171.52 L623.09,171.55 L624.10,171.57 L625.10,171.59 L626.10,171.61 L627.11,171.63 L628.11,171.65 L629.11,171.65 L630.12,171.66 L631.12,171.66 L632.12,171.66 L633.13,171.65 L634.13,171.65 L635.14,171.65 L636.14,171.65 L637.14,171.65 L638.15,171.64 L639.15,171.64 L640.15,171.64 L641.16,171.63 L642.16,171.63 L643.17,171.63 L644.17,171.62 L645.17,171.62 L646.18,171.62 L647.18,171.61 L648.18,171.61 L649.19,171.60 L650.19,171.59 L651.19,171.59 L652.20,171.58 L653.20,171.57 L654.21,171.56 L655.21,171.55 L656.21,171.54 L657.22,171.53 L658.22,171.52 L659.22,171.51 L660.23,171.50 L661.23,171.49 L662.24,171.47 L663.24,171.46 L664.24,171.44 L665.25,171.42 L666.25,171.41 L667.26,171.38 L668.26,171.36 L669.26,171.33 L670.26,171.30 L671.26,171.25 L672.26,171.18 L673.26,171.09 L674.26,170.98 L675.26,170.85 L676.25,170.72 L677.25,170.58 L678.25,170.43 L679.24,170.28 L680.23,170.14 L681.22,169.99 L682.22,169.84 L683.21,169.68 L684.20,169.51 L685.19,169.33 L686.17,169.14 L687.16,168.95 L688.14,168.75 L689.13,168.54 L690.11,168.33 L691.08,168.11 L692.06,167.88 L693.03,167.63 L694.00,167.37 L694.97,167.11 L695.93,166.83 L696.90,166.55 L697.86,166.27 L698.83,166.00 L699.80,165.73 L700.77,165.46 L701.74,165.21 L702.71,164.95 L703.68,164.69 L704.65,164.43 L705.62,164.17 L706.59,163.92 L707.56,163.67 L708.53,163.43 L709.51,163.19 L710.49,162.96 L711.46,162.74 L712.44,162.53 L713.43,162.31 L714.41,162.10 L715.39,161.89 L716.38,161.69 L717.36,161.49 L718.35,161.31 L719.34,161.14 L720.33,160.97 L721.32,160.83 L722.31,160.69 L723.30,160.56 L724.30,160.44 L725.30,160.33 L726.30,160.22 L727.29,160.11 L728.29,160.01 L729.29,159.92 L730.29,159.83 L731.29,159.74 L732.29,159.65 L733.29,159.56 L734.29,159.48 L735.30,159.41 L736.30,159.33 L737.30,159.27 L738.30,159.20" stroke="#0072bc"/>
<path d="M358.7,43.8 H434" stroke="#1a1a1a"/>
<path d="M358.7,73.6 H434" stroke="#ed1c24"/>
<path d="M358.7,103.4 H434" stroke="#00a651"/>
<path d="M358.7,133.2 H434" stroke="#0072bc"/>
</g>
<g class="tx" fill="#000" stroke="#000" stroke-width="0.2">
<text transform="translate(107.50,534.60) scale(1,1.0)" text-anchor="middle" font-size="31.5px" letter-spacing="-1.0">-20</text>
<text transform="translate(181.69,534.60) scale(1,1.0)" text-anchor="middle" font-size="31.5px" letter-spacing="-1.0">0</text>
<text transform="translate(292.97,534.60) scale(1,1.0)" text-anchor="middle" font-size="31.5px" letter-spacing="-1.0">30</text>
<text transform="translate(367.16,534.60) scale(1,1.0)" text-anchor="middle" font-size="31.5px" letter-spacing="-1.0">50</text>
<text transform="translate(552.63,534.60) scale(1,1.0)" text-anchor="middle" font-size="31.5px" letter-spacing="-1.0">100</text>
<text transform="translate(738.10,534.60) scale(1,1.0)" text-anchor="middle" font-size="31.5px" letter-spacing="-1.0">150</text>
<text transform="translate(99.20,111.40) scale(1,1.0)" text-anchor="end" font-size="31.5px" letter-spacing="-1.0">400</text>
<text transform="translate(99.20,210.45) scale(1,1.0)" text-anchor="end" font-size="31.5px" letter-spacing="-1.0">300</text>
<text transform="translate(99.20,309.50) scale(1,1.0)" text-anchor="end" font-size="31.5px" letter-spacing="-1.0">200</text>
<text transform="translate(99.20,408.55) scale(1,1.0)" text-anchor="end" font-size="31.5px" letter-spacing="-1.0">100</text>
<text transform="translate(99.20,497.60) scale(1,1.0)" text-anchor="end" font-size="31.5px" letter-spacing="-1.0">0</text>
<text transform="translate(746.80,76.08) scale(1,1.0)" text-anchor="start" font-size="31.5px" letter-spacing="-1.0">80</text>
<text transform="translate(746.80,183.96) scale(1,1.0)" text-anchor="start" font-size="31.5px" letter-spacing="-1.0">60</text>
<text transform="translate(746.80,291.84) scale(1,1.0)" text-anchor="start" font-size="31.5px" letter-spacing="-1.0">40</text>
<text transform="translate(746.80,399.72) scale(1,1.0)" text-anchor="start" font-size="31.5px" letter-spacing="-1.0">20</text>
<text transform="translate(746.80,497.60) scale(1,1.0)" text-anchor="start" font-size="31.5px" letter-spacing="-1.0">0</text>
<text transform="translate(289.60,567.20) scale(1,1.015)" text-anchor="start" font-size="29.7px">post-bounce time [ms]</text>
<text transform="translate(452.70,51.70) scale(1,1.015)" text-anchor="start" font-size="29.7px">Base</text>
<text transform="translate(452.70,81.50) scale(1,1.015)" text-anchor="start" font-size="29.7px">Base-noNIS</text>
<text transform="translate(452.70,111.30) scale(1,1.015)" text-anchor="start" font-size="29.7px">Base-noNES</text>
<text transform="translate(452.70,141.10) scale(1,1.015)" text-anchor="start" font-size="29.7px">Base-ISnp</text>
<text transform="translate(31.8,388.2) rotate(-90) scale(1,1.015)" font-size="29.7px">Luminosity [Bethe s<tspan font-size="17.2px" dy="-12.5">-1</tspan><tspan dy="12.5">]</tspan></text>
<text transform="translate(802.9,387.5) rotate(-90) scale(1,1.015)" font-size="29.7px">Luminosity [Bethe s<tspan font-size="17.2px" dy="-12.5">-1</tspan><tspan dy="12.5">]</tspan></text>
</g>
</svg>
</body></html>
